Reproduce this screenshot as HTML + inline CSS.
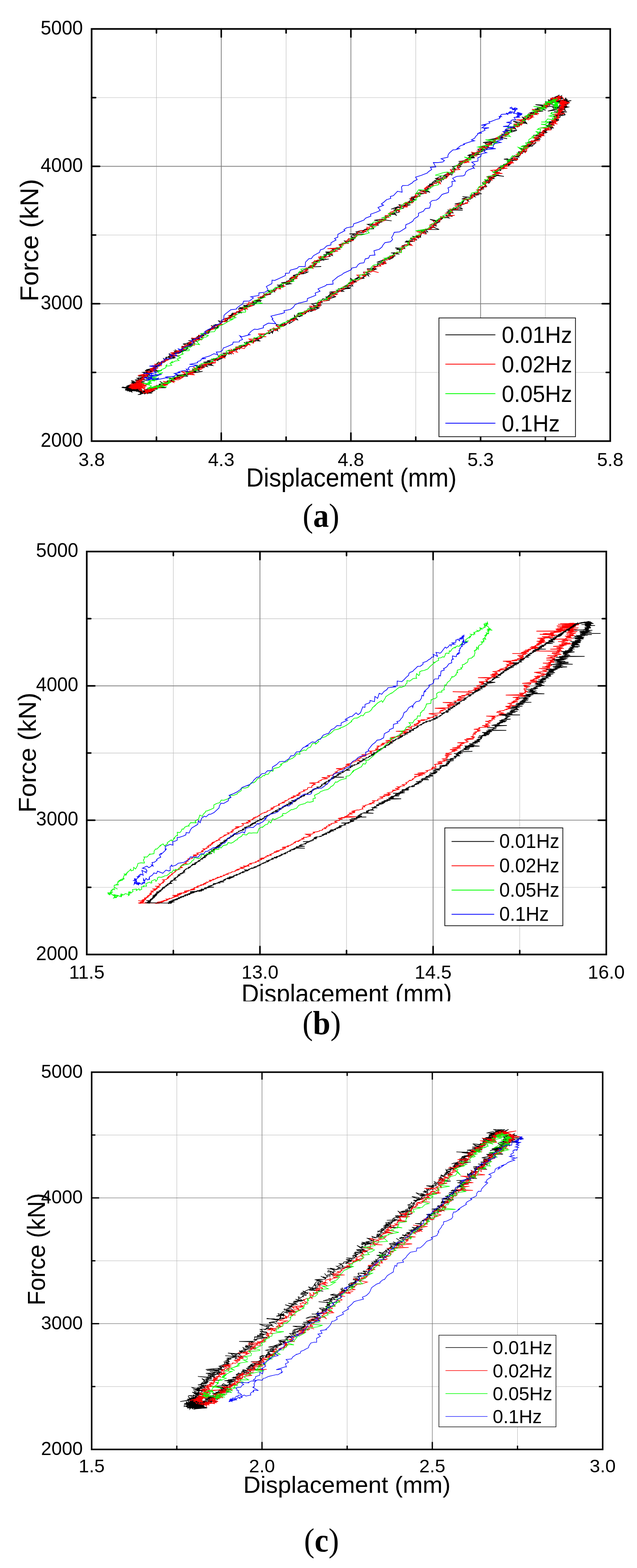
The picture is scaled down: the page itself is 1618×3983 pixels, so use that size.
<!DOCTYPE html>
<html lang="en"><head><meta charset="utf-8"><title>Force-displacement hysteresis loops</title>
<style>html,body{margin:0;padding:0;background:#fff}svg{display:block}text{font-family:'Liberation Sans', sans-serif;fill:#000}.s{font-family:'Liberation Serif', serif}.c{fill:none;stroke-linejoin:miter;stroke-miterlimit:5}</style></head><body>
<svg width="1618" height="3983" viewBox="0 0 1618 3983">
<rect width="1618" height="3983" fill="#fff"/>
<g id="chart-a">
<path stroke="#bcbcbc" stroke-width="1.15" d="M397.4 73.5V1120.5M726.7 73.5V1120.5M1056 73.5V1120.5M1385.3 73.5V1120.5M232.7 248H1550M232.7 597H1550M232.7 946H1550"/>
<path stroke="#7f7f7f" stroke-width="1.9" d="M562 73.5V1120.5M891.3 73.5V1120.5M1220.7 73.5V1120.5M232.7 422.5H1550M232.7 771.5H1550"/>
<path class="c" stroke="#000" stroke-width="1.7" d="M342.4 979l14.6 11.3-1.5-12.6-19.1 9.1 2.3 3.7-2.5-14.5 12.1 6.5-6.9-5 8.8 7.7-28.5 6.4 37.5 2.5-18.3-19 8.6 6-9 6.4-2.7 4.4 9.3-5.8 4-5.8-11.3 5.2 .5-1.6 9.2-.9-17.1-2.7-7.1 5.6 21-.4-11.7-2-13.7-.6 12.1-5.3 3.9 4-8 8.4-3.3-7 16.8-6.2 9.5 13.9-12.5-4-5.6 7.8 12.4-10.2 3.7-2.6-11.2-4.9 9.3 13.8 5.5 6.2-13.8-16.9-6.6 .9 12.7 6.2-1.1-7.2 9.4 2.8-26.2-.3 6.8 2.7-1.9 4.5-9.9-5.4 20.5 4.5 4.4-6.7-13.9 3.7 23.3-12.3-6.2 3.5-2.1 11.2-2.5-7 6.1 5.9-25.2-.2 21.5 3.9-.2-2.5-26 1 23.2-5.7-6.6-2.9 11.4-.2-13.4 1.3 4.6-3.2 4 2.9-13.4 2.2 16.2 1.8-7.8-3 6.6-7.9-11.1 9.2 17.6 1.5-5.2 4.3-8.7-2.5 9-6.1 6.9-.4 5.8 13.7-37-6.3 27 5.4-4.6 1.4-6.1-14.7-12.9 10.3 .4 .4 .6 5.2-.1-5.3-1.9 1.6-.1-3.4-9.2 2.2 7.4-1.7-3.2 .4 4.8-2-6.3 .2 9.1 3.2 6.5 .7-8.2-.7 .1-2.9-1.2 2.4-2.9-7.2 1.6 8.7-1.8-2.5 4.9 .7-2 2.2 3.2-4-10.5 3.4 12.3-3.6-9 2.4-4.6-2.4 6.5 1.7-.6 2.8 4.8-5.3-4.7 0-2.7 .6 1.3 1.5 12 6.1-6.9-8.5-14.3-3.7 14.3 3.4-18.8-2.5 28.8 2.5-18.1 1.4 14.3-2.6 .8 .6-24-3.1 19.3 5 4-2.4-2.8 4.5-1-.2 3.9-5-4.2 1.2 1.1 .9-2.5 1.6 4.4-6.2-8.6 3.9 9.7 4.7-7-5-3.1 .6 8.2-.7 7.4-3.1-3.8 5.2-8-1.9 6.8-.4-6.1 1.3 1.9-.1 1.4-6.8-13.1 5.8 14-2.9-6.6 1.7 2-2.4-4-.5-.1 4.4 3.3-2.6 10-.9 4.8-.2-9.1 .7 13.5-.4-14.5-6.1-8.8 3.6 11.5 1.3 1.9 2.3-4.6 1.3 4.2-5.9 1.7 7-7.7-4.9-3.2 .8 7.2-2.8 .3-.4-2.9 4.9 9.9-4.3 4.3 0-11.5 3 6.4 1.1 1.6-8.3-.9 3.1 2.1 .2-7.6 4.3 6.5 1.4 7.3-6.5-6.4 .8-7.5 1 7.1 .4 3.9-3.9-4.6 2.7-4.9-4.2 11.9-5.2-15 3 10 3.7-2.7 1.2-6-7.9 13.6 .9-4.5 4.1-8-8.6 10.1 9.6-5.3 .9-7.8-10.4 7 9.1 5.6-2.7 2.4 3.8-1.1-3.2-1.1-1.6 2.4 .6-3.4 1.8 8-2.2-5.3-.7 1.2-4 1.8 4.5-8.4-1.5 2.3 4.2 22.7-4.9-16.2-.5-3-1.7 3.8 3-4.1-2.6 4.6-1.6-4.8 5.4 5.6 .1-9.8-5.9 16.4-1.8-9.7 5.1-5.5-5.3 7.9 8.8-.4-7.8 3.3 2.4-6.7-6 8.9 2.8 18.2 2.5-26.5-2 9.3-2.9-5.1 7.2 5.2-4.7-10.5-2.8 4.1-1.3 9.3 .4-2.3 3.7 9.7-5.7-12.4 1.6 5.3-2.5 15.5 4.8-19.8-4-.2 2.2 5-1.1 .7-3.3 5.3 2.8-3.4 .2-4.4-5.7 5.8 4.2 13.9 6.8-7-10.1-21.8 1.9 15-5.4-3.5 4.1 8.7-3-3.8 2.9 12.1-2.5-5-3.2 .3 5.3-3.4-3.8-.7-2.5 2.7 2.3 5.7-3-3.6 2.9-4.3-1.6 9.5-1.2-5.4 2.2-1-5.4-3.4 5.2 1.8-8 .2 8.7-11.3-4.1 21.5-1.6-1.9-1.7-3.7 2.8 7.5-2.3-2.8-.5 .2 2.6-15-4.2 12.9 0 4.8 1.2 17.1 1.1-8.7-3.6-1.7 .3-13.7-.8-5.1 1.3 15.9 1.4-2.4-6.7 5.7 1.6-5.3-.3 2.5 1.1-18.8 1.7 21.3-4.3-4.3 0 5 1.8 4.2-6.5-5.5 .7 5.1 .3-3.3 .5 4.9 .1 2.5-2.4-8.4 5.2 .4-6.8 13.5 .8-9.5 2.7 6.8-1.4-2.4-2.5-4.4 .5-.2 .6 5.6-2.6 1.7 1.1 2.8-4.5-9.5 2 4.6-4.9 3.6 1.4 10.3-1.2-20.9 5.5 19.1-4.9-7.3 1.4 6.2-3.7-4.2 1.3 5.6-.7 7.6-2.1-5.8 3.8 1.4-6.9 .6 5.2-10.3 4.6 13-9.4-3.2 1.6-2.4-4.6 5.2 3.3-.1-4.9 6.4 5.4-3.5-3.4-1.7-4 11.9 .8-1.6-1.4 10.9 2.8-11.1 2.3-3.7-3.8 0-2.6 1.7 .3 14 1.8-9.9-7.1-7.8 7.1 9-1.1-6.6-7.9 9.7 8.7-6.6-7.8 .7 3 8.6 2.9-.1-7.8-7.7-1.1 14.3 1.2 8.7-.5-19.1 1.7 19-1.6-12.8-.6 1.9-.6 2.7 .1-6.1-2.3 16 2.3-.2-1.5-14.2-3.2 8.5 6.6-5.9-8.6 7.4 4.5 8-4.4-13.7 2.1 8-.2 4.2 .2 5.9 .8 11.5-6.5-17.9 8.8-.6-6.9 7.5-3.8-3.6-2.1-.8 8.8 10.7-2.5 4.3-4.9-6.8 1.3-1.6 .8 5.2-3.8-12.6-2 11.3 .3-4.8 1.5 20-2.8-8.2-3.9-1.3 4.4-3.1-7-10.4 1.8 18.7 4.3 6-3.2-11.9-.7 8.7-1.1 1.3 1.7-11.5-3.5 14.7-5.6 3.3 4.9-5.2-9.2-.6 1.9 5.7 8.6-11.8-2.1 10.6-4.6 5.7 .3-19.8-.3 21.6 1.6-6.8-5.3-8.1-1 11.9-.1-3.7 1.2 8.2-.4-7.2-2.4 13.3 2.2-8.8-5.3 7.1 1.7-4.2-2.4 2.5-1.5 9.4 4.9-4.3-4.7-4.9-2.5-.9 2 14.4-3.5-1.3 3.4-4.6-.1 5.8-.3-7.4-6.1 1.2 1.6 2.2 4.3 7.6-6 .8 3-4.5-.1 14.2-8.2-3.5 5.9-1.1-2 4.8-.4-6.1 1.3 2.1-3.9 4.4-1.8-1.6 .6 5.7-3.2-10.1 1.4 16-7.2-11 8.8 4.6-6.6-5.5 2 12.1-1.4 4.9-1.3 7.1-.8-7.2-.9-11.9-5.1 5.4 2 3 3.6-1.4-6.4 12.5-.9-2.7 7.3-1.2-3.1 4.1 .1-6.7-4.9 1.4 0-4.4 .4 14.6-1.3 .3-2.5 2.6-4.3 4 1.1-12.2-2.8 5.7 7 5.2-5.8-7-.3 5.8 .4 9.8-1.5 1.8 .5 1.2-3.8-4.4-3.1-.1 7.6 8.4-7.2-6.7-.2 5.2-1.6 6.8-.2-8 .6 0 1 4.6-5.4 4.6 2.6 .7-3.3-.4 4 3.5-7-10.5 2.5 5.4 .7 6.9-6.1-4.6 2.9-1-.7 2.1-3.3 2.9 .7 5.4 2.2-3.3-2.7 8.3-2.6 9.4-.3-8.8 .8 9.2 1.3-2.2-2.1-8.2-1 6.1 1.3-2.7-8.7 11-.6-9.2-3 15 7-2.7-8.7-12.9 4.8 16.8 1.1 5.6-6.3-11.5 1 11.1 .2-13.9 1.6 12.7-6.5-9.2 3.8 16.4 0-14.3-2.2-3.2-.8 18 1.8 11.8-3.4-14.4-1.5 9.2-1.7-2.5 1.6-1-3.2 10.6 1.5 3-2.3-14.4 1.7 11.3-5.7 2.5 1.3-10.6-.2 18.1-.7 3.3 1-14.6-2.8 16.2 .4-7.8 1.8 .2-3.7 10.6-5.7-5.6-1.8 2 4.4 8-3.5 .1 .8-.7-2.1-11.2 2.8 .5-1.1 16.3-6.8-9.9 2.7 7.4-2.4-5.3-3.4 6.4 4-4.5-2.8 17.6 .6-19.7 4.2 13.3-3.8 1.2-1.4 9.3-4.7-12.8-2.8 9.2 5.2 .6-4.8 5.7 0 4.4-1.9-6.6 .3 5.4 4.9-4.2-7.7 8.7-.8-1.5 .3-1.4-.7 5-4.6 3.8-2.3 12.1 2.1-13.5 0 6-2.3 8-1.5-17.9-.7 3.5 .5 4.7-.3 7.5-4.6 15.7 1.8-9.7 1.3 14.1-2.1-14.2-4-10.9 1.6 2.2-.1 19.6 1-3.3-6.9-6.8 4.8 14.6-3.8-13.3 .7 16.1 .3 3-4.9-10.8-.8-.6 .8 12.1 1.2-9.4-4.2 17.8-3.1-15.7 .8 12.4 1.8-2.6 .9-1.6-5.1-1.2-.5 7.6-.6-10.4-.8 10.2-3 .7 .3 7.2 .7-9.3-1.3 17.7-1.1-9.8-3.6-3.2 .2 24.4-1.4-6.3 3.5-8.9 0-2.5-3.7 6.4 2.1-2.6-5.6 3.4-1 11.7-3.5-5.1 2.9 0-2.7 2.4 .4-.8 0 6.3-2.8 7.3-3.1-11.3 1.7 4-1.1 29.9-.7-25.5 .7-2-3.2 13.7-1.1-9.9 4-4.7-2.6 15.6-3.9-11.7-3 3.6 .2 6 1.1-1.1 .2-2.1 2.9-1.1-7.5 4.8 0 11.1-2.2-9 .1 2.3-2.1 29.2-2.7-26.3 4.2 12.6-3.2 .5 1.9-6.7-5.4-5.6 1 11.7 0 2.7-7.3 3 .4-3.5 4.2 15.6-2.6-5.5-5.7-12.1 1.7 15.1-1.7-5.5 .4-2.7 4 .7-6.2 15.6 5.5-3.5-6.6-13.8-2.2 11.7 4.7 .2-2.5 1.2 .1-.5 .5-13.4-3.2 23.8-.6-8.5-8.2 4.6 1.2 .2 2.2 .9-1.5 14.6 .3-5.3-3.9-4.2 3 .1 1.3 1.1-4.5 12.6-.3-2.2-1.8 1.3 .1-1.4-2.7 1.9-2.7 4.2 .8-9.7-1.2 20.6-5-11.6 3.4 2.8-1.4 12.1-.5-4.6-2.9 .6 1.6-1.8-.6-3.8-4.2 11.2 1.6 7.2 .2-10-1.1 14.1-5-12.1-1.2-1.2 1.6 13.2-3.6-1.2 7.8 5.3-9.2-6.3-.9-.1 2.6-3.1-3.7 5.2-5.6 2.3 4.4-.4-3 11.1 .2-3.9-3.7-18.8 .8 39.2 .8-22.2-.7 4.7-3.5 15.3 0 1.1-1.3-18.8 1.5-2.4-1.7 13.9-3.7 13.2 3.7-8.4-4.2-4.5 1.7 11.2-4.2 8.3 2-12.7-2 7-.5-4 .2 21.1-1.1-.4-1.7-3.2-.9-4.5-4.5 5.9 2-13.7-6.2 14.6-1.1-7.4 3.8 1.6-.7 .2 3.3 8.1-3 10.4 .1-1.6-4.4-1 .9-5.1 .8 10.4-2.5-2.9-1.4 8.6-1.6-10-3.4-8.7-.9 14-2.3 30.2 3.6-22-2.6-2.2-2 7.4 1.6-.6-3.2 1.3 3-3.9 1.2 4.7-4.5 2.2-3.8-3.2-2.9-1.1 7.7 8.3-4.8 6.1-5-.3 4.7 .6-7.8 1.5 2.1 12.9-.4-11.3-1.3 5.8-2.8 6.5 7.8-9-7.9 2.6 1 12.6-1.8-2-5-6.3 1.6 1.6 1-.1 .8-5.8-4.1 14.1 .8-6.2-2.7-6.7 1.3 10-8.5-18.8 6.7 16.7-4 7-.9-3.8-6.5 19.4 3.4-19.8 3.2 10.9 3.3 2.9-8.4 16-.9-11.3 1.9-2.5-1.4 .5-3.1 .6 .1 7.9-1.5-8.6 1.5 7.8-.5-2 1.5 3.1-3-1.4-1.6 14.5-2.2-14.1 1 6.4-5.7 1.4 6.9 3.1-5.6 .5 1.8 1.2-6.4 4.3 3.6-12.3-2.5 9.6-2.4-5.5-2.1 9.3-1.5-14.2 5.8 10.3-2.4 6.3-3.7 9.3-.7-3.2-3.2-.2-3.7 7.4-.8-11.7 2-5 .2 10.5-3.4 2.1 3.9 9.7-1.6 6.2-1.8-17.7-5.7 22.2 3-3.7-.5-2.7-4-1.3-3.2 12.6 9.3-11.6-4.1-1.8-3.5 4.7 4.1-7-2.1 11.4-2.6-1.9-1.5 3.7 .5 1.4 .8-6.5-4.4 14.4-1.6-11.6 1.1 11.8-9.4-12.4 6.4 12.1-2.2-5.3 .1 6-1.3-2.5 .4-7.2-1.5 7.2-1 7.7-1.4 4.4 .6-10.3-3.3-2.3 2.9 8.1-7.6 4.9 3.8-5.1-.2 4.3-5.2 10.4 1.2 1.9 3.5 0-4.5-14.1-2.8 12.9-6.1-.2 7.4-14.9-1.5 23.3 .4-3.1 2.8-1.9-6 11.7-.6-2.4-2.9 1.7 .7 3.1-.8-1.4 1.1-9.7-1.4 6-4.2 8.8-.1-8.5 3.8 5.6-6.8 5.9 3.4 4.2 1.4 .4-3.3-1.1-1.9-4.7 1.9 7.2-3.3-1-1.8-2.6-1.4 9.5 2.6-3.5-2-5.7 1.2 12.2-5.5-8.8-.8 7.5-1.2-10.5 1 9.4-3.3-3.9 3.2 1-2.3-4-4.2 23.4-5.8-12.4 2.1 4.2 7.3 6-4.6-5.6-.3 4.6-2.3-9.2 1.2 9.7-6.6-2.2-1 6.2 .1-.7 3.4-7.4 .7-1.5-1.4 5.7-2.3 10.8-3.7-.6 4.4 1-3.5-12.2-.2-2.6-.9 12.5-1.9 2.7-1.4-.4-.5 6.4-2.5-1.8 3-4.4-1.9 2.7 2.2 6.8-7.9 .7 6.7 .3-3.9 13.9-1.1-12.8-2.4 3.2-.8-5-2.5 4.5 5.2 6-3.6 1.3 1.6-2.9-.5 4.1-4.1-.8-.2-9.6-1-6.6 2.6 31.8-3-7-.7-3.9 .6-8.1-2.8 3.6 4.6 15.5-8.2-21.7 4.6 14.6-.4 7.6-7.1-3 4.3 9.4-2.3-8.8 .8 15-6-17.8 2.9-.7-3.8 10.2 .8 7.4 3.7-7-4.6 7.2-6.1-7.6 1.4-2.4-.1 15.3 4.7 2.1-5 .9-2.9-9.7 6-10.5-2.9 .9-.5 14.1-3.6 5.5 4.8 .7-4.6-9.6-5.3 10.1 1.4 .1 0 1.5 1 .4 1.6 .1-4.5 5.5-.3-1.5 6.3 1.6-6-3.9-2.3 7 .7-1.8-3.9-23.8 3.8 29.3 .4-3-4.6 7.6 3.3-5-3.9 .8 .7 3.4-3.3-.2-.8-1.3-2.4-18.2 3.6 32.8-1.9-17.7-.6 7.8-2.9 6.5-.8-.5 .7 2.1 2.1 2.1-1.1 3.8-3.1-4.3 1.7 15.3 3-20.5-4.8 7.8 4.2-2.2-4.7-3.6 1.6 9.1-5.3 7.5 3.6-10.9-6.5 .9 2.9 8.9-2.1 0-4.8 8.7 .9-4.3 5.6-3.5-2.2-2.2 1.3 3.9-3.4-1.3-8.4-5.7 7.3 8.4-2.7-.1-.5-1-.5 1.3-1.4 23.7-1.2-15.8 4.9 2.2-2.6-7.7-3.4-8.2 0 11.7 2.8 3.7-2.1-2.4-1.1 1.7-4.1 7.2 1.3-2.8-2.4-6.3-2.5 3.9 6.4-.5-3.7 5.5-.8-6.6-2 6.2 3.7 5.6 2.8-2.8-4.4-4.4 .3 2.4-6.1 4.9 3 2.8-.5 2.7 2.6-4.6-4.3-5.7-3 15.9 1.6-5.4-1.5 4 4.2-2.4-2.6-6.7-1.4 4.8-.9 3.9 1.1 5-4-4.6-1.6-16.7-3 16.6 7.1 4-2.2 14.5-.2-11-2.1 10.5 3.5-5.1-7.2 .3 5-1.5-5.7-12.1 .4 13-2.4-.6 2.7-5.5-1.5 6.8 1.3-.2-3.1-4.1-2.6 2.6 4.4-.1 1.3 3.4-1.9-2.9-2.5 6.1 .6-12.9-5.8 7.8 2.9-5.1 3.2 7.3-2.2 6.2-3.8-2.1 3.7 0-2.9 1.6 1.6 8.9-5.8-14 1.7 11.6 1.6-12.5-.5 6.5 .1 4.2-1.9-4.8-.9 6.5 1.2 3.6 .5-9.8-6.4 6.8 2.5-.9-.2-7.9 .5 9.1 1.6-1.4-6.3 12.4 4.2-11.4-6.1 14.8 2-11.6 .1 14.3 .2-7-1.3 .2-.2 2.6 0 1.2-.2 3.4-4.4 13.9 .7-22.2 1.9-4.3 2-7.1 .8 13.2 4.2 6.9-7.3 1.1-2.6-3.3 1.9-1.9 .9-1-1.8 .7-3.4 6.2 2-11.2-.3 14.3-3.8-11.4 .1 7.8 5.6-2-8.9 2 5.6-3.1-1.5 0 3.7 5.7-2.3-4.1-4 20 4.9-15.2-5-.7 6 1.1-1.2-2.3-4.7-7 1.8 12.6-1.9 3.7-3-9.4 4.5 8.8-2-6.1 .7 7 .2 2.7 .5 1.3-1.3 .2-3.1-5.7 .1 9.2 .5-6.7-1.7 4.9-.6 2.4 4.8-5-3.7-13.4 3.2 19.5-7-9 1.5 1.7-1.3-.7-.2 11.3-.1-5.1 .1-25.8-1.1 31.8 5.3 21.4-3.1-14.6-3.9-12.5 .2 4 2.9 2.9-.8 2.6-3.1-4.3 3.5-5.7-6.1 10.6 2-.3 5.2-10.2-11 3.3 5.6 6.4 2.7-1-3.1 3.3-1.8 1.9-.6 2.6-3.2-6.7 1.6-6.4 3.2 11.3-1.8 13.9 1.1-5.6-.6-10.9 .8 .7-5.1 18 3.1-9.1-.3-5.7-.2 2.5-1.6-12.8-3.5 12.8 6.7-7.3 .3 4.1 3.6 .5-4.3-1.5 2-8.7-2.8 1.9-2.6 12.3 1.9-1.8-4.3-4.2 3.2 7.5-1 1.8-2.6 6.7 5.4-19.7-.4 10.3-1.9-1.6 .7-2.7 1.9-3-4.6 8-3.3-9.8 .8 22.8 3.9-12.1-1.3-.4-4.4-.7 6.7 25.1-2.9-27.5 3.3 4.6-1.4-3.1-4 3.9 1.1 .7-2.2 6.5-.4-13.5 1.2 7.9 1.8 9.3 2-11.5-5.8 2.1 3.8-9.6-1.8-3.3-.8 14 3.2 7.3-3.8-8.8 4.2-7.4-4.4 11.9-1.6-.8 4.1 5.2-5.7-.3 .6-6.2 2.3 3.8 .4-11.9-.8 16.3-4.4-5 1.5 5.2 4.5 6.9-.1-16.1-3.9 2.9 3-3.8-.2-6.4 1.9 10.8-4.4 1.7 5.3-6.6-4.5 10 4.3-3.2-1.4 2.1-4.9-6.6 1.7-5.4 1.4 14.1 1.7-.8-6-3.8 2.1-4.5 2.7 3.8-.4 .9-3.9-2 .3-8.1 3.3 15.4-3.7-12.4 3.1 6.5 1.6 .2-2.3 3.2-6.7-10.2 9.5 15.6-.1-3 .6 .7-1.4 2.8-6.4-11.3 7.7-12.8-2.7 19.1 1.5 5.5-2.8-.8-.2-12.9 0 6 4.5 2.2-3.3-11.5-1.2 6.3-2.7 .1 4.4 12.3-1.2-12.3 .4 12.2 2 11.6 7.1-4-5.3 1.2 .5-.7-3.8 3.4 8.7-.1-.1-3.1-2-5.4 .1 9.3 .5 .3-.8-10.8 1.6 7.9 0-4.2-2.1-24.1 5.8 25.9-1 5.4-3.5-9.2 6.5 .1 .7 9.4-2.9-11.6-.1 .8-4.4 3.4 .8 5.1-3.1 0 2.9-6.3 3.6 1.1-3.4 2.2-3.1-2.7 8.3-2.6 1-8.4-1.1 16.9-7.5-5.1 6 16.8-4.1-12.3 1.9-7.6 2.2 4.1 2.1 1.8-5.3 .3 .8 .2-2.1 0 3.3-3.3-2.4 4.3 1.3 8.3 3.3-14.4-1.8 .2 .4 10.8 .6-2 1.4-2.4 1.6 2.1-6.2-7-1-2.4 5.4 10.6 .6-4.4 1.9 5.4-1.3-.7 2.5-18.6-2.9 14.2-2.7-8 4.3-8-4.6 13.6 .6-3.1 3-1.1-1.5-5.2 3.1 1.4-3.1 4.3 5.7-7.2-6.9 7.6 4.5 1.1-2.7-1.6 4.9 2.4-4.8-2.1 3.5-6.1-9.6-6.1 6.3 13 6.2 4.5-3.5-3.6 0-4.7 2.2 3.6 4.1-11-8.6 4.4 2.8 3.3-.8 1.6 3.2-1.6-3.3 .2-1.9-5.1 .3 3.2 5.8 4.4-.9-11.6 1.8 3.4-5.9 4.6 2 9.9 1.2-4.6 3.7 4.8-.7-1.4-1.3-9.9-1.8 1.5 3.3-5.7-1.4 20.5 3.7-10.4 2.4-.8-3.8 .2-2.8 1.8 9.1-4.5-4.1 .2 0 12.9-.8-19.1 .5-1.5 .1 5.5 .7 6.2-4.1-5.2 2.3-2.6 1.8 5.5 1-4.1 .4-23.7 .9 17.2-5.3-19.8 2.4 23.8 1.1-1.5 2.3 4.7-.4 9 5.8-15-5.6 3.1 .6-2.3-2.9-32 8.8 29.5-4 .1-.2 5.2-.9-6.3 2.2-2.6-.8 10.1 4.3-3.8-4.7-10.6 1.3 6.4 .1 2.3 3.2 5.9-.3 12.5 2.1-33.1-.8 21.9 .5-6.3-.9 1.5 2.5 3.1-.7-10.8 0 9.7-4.4-12 3.2 1.3-.1 .7-2.5 13.7 8.3-.5 .8-5-.5-1.6-.9-9.4 2.7 15.7-7.5 7.1 7.8-12.2-7.9-5.8 5.9-3.7 .4 3.4 1.4 16.4 .8-21.6 .6 5.6-3.1 8.1 .5-4.4 0 4.5 2.9-7.5-.8-.2-2.6 5 6.8-4.2-4.8-2 2.1-4.9-.2-5.5 .5 16 3.8-10.7-2.8-2.1-1.3 8.6 2.4-9.8-.5-2.8-.8 4 6.7 2.5 1.1 1.5-6.1 4.7 8.1-1.4 1.1-6.7-7.5 2.7 5-3-1.3-3.3 3.3 5.3-9-.7 9.4 7.7-2-7.2 2.6-7.5 1.5 6.6-7.6-6.4 6.3 10.9 .6-18.4 2 5.3 1.9-4.4-.5 7.8-3.3-1.8 4.3-8.4-3.2-2 4.3 10.7-1.8 6.5 .5-.5 1.3-12.8-3.8 6.5 3.8-7.7-1.7-3.6 5.8 14.1 1.4-3.5-6.2-6-1.5-.6 6.8 6.5-1.5-3.7-.3-4.1 8.6 2.9-6.2-2.1-1-2.6 2.4-2.2 2 14.9 3.8-14.5-2.6-4.3-3.4 15.7 2.5-3.6 6.4-4.4-8.4-3.7 4.8 .9 3.7-9.4-1.7 7.3-.6 1-1.1-3.1 3.2 3 1.5-7.1-.2 4.7 2.7-10-1.5 7.8 3.3-3.7-2.3-4.4 2.6 4.3-2.5 1.6 5.7-4-.6 7.5-.8-9.5-3.6 8.2 3.5-1.8-7.2-7.9 7 10.3 2-15.8-2 9.5 3.2-3.2 1.8 3 3.5-13.3-3.9 1.3-3.3 1.2-1.4 3.9 6.1 .3 3.3-1.8 1.2-2.2-1.9-3.2-1.3-13 .5 13.1 2.1 4.4 1.2 1.9 1.9-9-.6 7.8 5.4-13.8-4 10.7 1.5-10.8 2 6.4 .4-7.2-3.3-.8-1.8 1.5 1.4 9.8 4.9-12 1.2 6.2 0-3.3 1.8 0 1.9-.7-4.5 .9 9-10.6 1 5.9-4.1 .9-1.7-5.8 1.8 4.3-3.5-14.7 4.2 15.1-1.4-8.5 2.5 1.5 .1 5 6.7 7.9-6.6-16.7 3.6-5.2-1.1 12.1 5.7-21.6-.6 21.9-5.8-1 2.1-13.5 3.8 11.4-1.5-2.8 3.4-2.7-.2-15.7-2.2 9 2.7 .9 2.6-2-.6-.7 1.2-2 1.3-12.9-.5 13.6 4.4-3.5-5.8 2.5 5.1-3-1.7 1.8 3 .8 1.9 7.2 .2-14.8 .8 12.7 1-12.7 .1-2.8-1.1-3.8 3.2 11.6 1.3-13.6 .5 12.2-.7-3.9 .7-5.7-4.9-1.4 3.7 5.4 2.3-2.6 3.8 2.3 1.2-4.8-1.9-3.6-2.4 4.8 4.8-10.2 2.1 10.2 .2-5.2-2.9-7.3-.2-.4 1.2 .6 .3-6.9 6 16.3-1-3.3 5.4-12.1-.5 4.3-.8 8.8-3.5-8 4.1-8.7 .3-7.1-3.9-8.9 1.1 24.9 2.1-5.7 5.8-9.8-3.4 9.9-1.7-6.8 4.5-2.7 2.1-.2-3.8-.7 8.6 10.5-5.8-21.3 5.3 5.4-.2 11-2.7-.1 2.3-14.5 1.2 15.5-.2-6.2 3.6-15.1-.9 16.9-3.7-18.9 5.4 10.8-2.3-10.9 3.1-4.5 2 13.4-.1-3.3 3.7-3.8-1.9 .5-.3-2.6 6.3-3.5-1.5-3.7-1.4 8 1.2-4.1-.2-2.4 2.1-2.8-1.8 .6 7.7-7.8-.5 5.6-7.9-4.7 4 11.3 3.2-13.2-.7 1.8-2.9 1.5 8 3.2-3.9-2.8 5.6-3.5 .2 24.8 3.6-27-5.2 .8 7.6 12.4-6.7-20.6 7.7 9.3-.2-3.7-.7-10.4-2.9 3 7.7 7.1-1.1-13.3-5.4 4.9-1.4 12.6 5.8-13.4 .4 2 4.8-6-.5-.5 1.3-4.8-1.1 4.6 4.6 4.5-3-3.9-1.4 9.5-1.4-4.9 8.3-6-1.9 9.9-1.9-14.4 3.1-3.9 2.1 4.4 3.7-7.6-6.2 7.9 5.2 3.8 3.9-4.9 .2-6.5 1.8 .6 3.9 5.7-6.2-.2 1.6-9.5 5.1-.9 2.3 7.3-2.2-4.1-.8-1.6-1.1-.4 5.4-8 .2 2.3-2.7 5.4 2.3-7.8-.3-1.4 4.9 1.5-1-.6 4.4 10.5 1.2-19.4-1.7 4 3.1 9.1 .6-12 2 .7-4-11.2 3.7 12.1 4-1.8-2.1-1.4-1.8-6.7 2.6 1.8 6.1-3.6-5.9 3.9 .3-5.9 4.8 8.3-2.3-26.7-2.1 13.1 .9-15 5 13.6-.7 3.8 6.2-6.8-4.3 13-1.1-19.5 2.5 2.4-.3-4.4 7.1 1.1-4.1-1 6.8-6.7-1.5 1.5 4.7 15.2-4.5-13.7 3.3 5.2-6.5-21.5 5.1 13.4 .2 2.4 5.7-5.1-2.3-3.1 3 .5-2.6-.1-.5 3.2 4 8.7 4.5-23-2.5-5.3 5 9-3.9-.2 .9 2.7 .9 .6 1.2-10.7-.1 27.2 2.1-24.7-.5-12.3 .3 13.7 7.5-5-.7-1.2-2.1-11.5 .2 5.7-1.5 2.4 6.4-4.1-2.2 3.4 7.5 1.8-8.3 .2 6.2 5.5 3.2-17.2-3.5 9 7.5-9.2-1.7 1.9 .9-7.2-3.7-7.6 5.8-6 .9 12.1-1.3-10.4 5.2 6.8-2.7 3.6-5.7-14.5 7.6-2.5 4.5 9.8-5-.7 4.4-4.8-2.6-2.7 2.6-17.5-5.9 16.8 3.3-4.3 4.7 5.1 .3 7.8-2.3-15.7 7.5 4 0-2.5-2.1 1.5-2.1 3.3 7.7-6.1-1.8-1 4.1-.8 2-8-2.8 1 1.3 .7 3.4 3.5-1.6-1-3.4 18.9 7.5-34.6 .2 4.4-1.3-10.6 3.7 5.2-1.3-18.1 .9 24.8 4-3.6-4.6-18.4 .4 13.4 4.7 .9-2 4.1 6.5-.9-3.1-10.6-1.6-2.6 4.4 2.6-3.7-3.1 10.1-5.6-2.6-5.4 2.8 11.1 .6-11.1 .1 1.2-2.2 4.5 5.7-6.1-1.9 12.7-.1-21.2-2.3 9 9.4-12.8-2.9-2.3 .5 1.2-2.8 5 8.2-5.7-1.7-14.3 3.9 21.8-1.7-19.4-1.1 9.6 4.6 .6-4.5-5.3 1 5.6 4.8-2.3 3-5.3 1.9 11.7-2.1-17.1 1-3.9 1.8 5.5-.1-7.7 .2 6 3.5-3.8-1.5-3.2 1.7 8.3 4.6-5.2-1.5-20.3-.8 13.2 4 1.4-1.1 .7 3.1-10.4-2.9-.9 1.2 5.7-.6 1.9 7.4-16.2 1.8 1.9 .4 3.8-1.1-12.2 .6 9.8-.1 12 3.1-17-1 5.4-1-6.8 6 6 .8-.1 0 2.2-.5-7.7 .2 3.5 2.1-5 1.3-6.2-2.5 9.3 2.8-12.7-.6 2.8 6.5 11.1-5.3-10.1 1.4-10.7 1.7 4.8 3.6-6.1-1.7 .9 7.7-18.8-1.6 18-6.9-11.1 7.5 9.1 1.3-1.3-3.1 1.2 3.9 6.1 1.5-22.7-.9 1.2 2.3-.3 2.1 .9-1.2 6.6 2.1-8.1-1.9-2.7 5.6-4.4-2.2-2.8 5.6 .9 3.1 3.3 0-8.6-4.4 6 3.2 2.2-.8-2.6 2.8-18.4-2.3 23.6 .5-6.9 3.4-4.2-.9-9.9 6-12.6-.3 16.5 0-7.4-.3-3.2 .9 10.7 3.8-1.4-1.3-3 .8 2.2 5.6-3.8-3.4-12.8-.1 11.1 1-7.1 4.8 .3-3.6 4.6 1-7.7 4.9 4.7 1.1-9.8 1.6-6.4-4.8-.8 4.2 1.6-1.6-10 3.5 7.4-4.1-2.6 4.4-3 4.1-10.8-1.2-1-5.7 14.1 9.5-10.6-.6 11.3-.7-13 1.6 6.8 .2-13.8 4.6 3-2.1 .8-3 2.9 2.9 4.6 7.1-5.5-.3-14.7 .1 6.5-3.1-2.4 4.3-8.3 2.2 9.5-1.4 4 2.5-12.7 1.9 7.2 .7 9.3-.5-31.2 .9 32.8-3.3-13.6 3.3-9.2 3.7 6.4 3.2-9.5-2.9 3.5 3.1 0-1.7-14-1.6 4.7 4.5-3.8 1-3.3-2.5-12.7 1 8.2 3.2-3.9-.5 11.6 3.5-18.5-3.8 10.2 6.4-9.8-2.7-.9 3.3 9.4-3.9-15.1 7.2 22.9-.9-17.1 5.7 1.5-8.6-4 .5 3 7.4 .2 1.3-9-5.8 1.1 6.7 8.3 2-14.2 2.1 11.8-2.3-13.5-3.3-2.2-.1-7.6 11.1 3.3-3.4-6.3 2.4 5.1-2.4 5.6 1.1-5.5 1-4.3-.9-3.7 2.5 .5-1.1-15.2 2.6 9.3 4.8 16.4-1.9-10.7-.8-7.7 6.9 7.4-.2 3.2-2.2-13.1-3.6 1.6 8.5-7.7 .9-3.2-3.8 15.1 5.9 9.9-4.8-24.2 2.4-6.3 .3 15.2 2.5 3.5 .1-11.7 4.8 3.9-3.6-11.5 2.8 1.9-.1 1.3 1.3-7.6-1.8 2.9 2.8-5.5 4.4 2.3-.5-2.1-4.2-14.3 2.8 9.9-.7-9.9 1.6 1.7 1-6-.6 12.2 5.1-7.8 1.9-1.8-1 7.5-.8-4.5 2.5-6.6-1.5-11.7 5.4 13.6 4.1-8.4-11.8-.2 8.5 4.6 0-13.2 1.2 5.7-.4 3.9-2.2-3.2 4.4-8 0 9.9 1.5-3.1 1 2.6-.3-12.2 7.8 0-8 3.2 2.9-4.8-1.4-3.1 3.7-2.8 5.1-2.6-3.2-3.4-1.2-1.5-.5 7 5.5-8.1-2.3-7.6 4.2 6.6-2.6 7.3 1.2-3.1 2-20-3.2 4.9 8 7.4-5.1-5.3 4-1.5 1.5-2.6 5.6-.5-3.9-7.4 1.7 10.7-2.6-13.7 1.7 3.4 1.1 7.8 3.5-3.9-4.4-7.5 4.3-1.4 6.9-4.7-8.8-1-1.5-1.5 4.1 8.7 1.8-13.9 5.3 6.8-2.2-2.2 2.4-1.5-3.9-5.2 2.5 4.1 1.5-4.6-2.1-1.8 3.6-4.6-.6-10.6 2 14.3-3.3 3.8-.9-13.4 9.3-.7-2.6 2.1 .5-8.3 7.4 7.8-3.2-1.4-.6-.7-2.1-1 3.4-16.9 .4 11.8-.5-6.6 4.9 7-.9-1.7 .3-2.7-2.8-6.3 1.1 14.3 5.2-17-1.5-6.8-1.2 9.7 2.9-14.6 0 17-.4-6.3 1.3 .3 3.1-2.9-.4-2-2.2-13.7 1 2.6 3.3 5-2.7-6.6 3.7 2.8 0-7.1-2.2-1.9-2 6.8 4.5-1.2 2.8-5.4 .7-6.7 3.9-5.1-2.5 18.8 .5-18.6 1.8 .1-1.3-.5 6.1 7.5-5.1-10.4 0 5.8 1.5-2.7 5-9.1-3.8 7 .2-10.1 4.1 4.4 2.1 3.7-3.3-6.7 3.5-5-2.8-1.2 5.8 2.6-5.5 1.5 2.7-15.6 .3 1.2-.6 11.4 2.7-4.6 2.6-.6-3.1-.2 7.5-3.3-3.5-2.9 .8 1.8-2.1 1.8 2.4-3 3.1-3-4.1-13.9 1.4 12.5 .3-8.8-.6 1.4 5.5 3.3-2.9-1.4 6.7 4-6.6-2.3 2.9-3.4 1.6-5.6-2 .4-2.2-2.4 4.3 9.5 2.2-8.1-1.7-7.3 3.7-2.2-4.7 10.1 6-12.7 5.1 5.6-2.2-2.2 .7 3.6-2.8-17.5 .4 11.8 4.5-2.6-3 2.1 3 1.9-3.4-8 4-2.9 0 10.5-5.4-28.5 5.9 16.7 2.3-7.5 .5-2.4 .2-3.1 2.8-12.3-2.8 23.1-1.1-.9 4.7-5.3 3.6 3.9-5.6-6.5 5.3-4-3.7-4.3-2.7 8.9 2-.8 .7 9.6 5.6-20.6-2.1 1.7-1.1-15.6 2.3 21.2 3.7-3.5-3.1-2.1-1.1-3.9 3.3-1.8-2.5-2.3 3.9 6.9 1.8-10.5-1.5 7.3-1-2.4 1.9-10-3.3-3.5 8 2.5 2.6 3-5.4-8-4.7 9.4 4 9.2-1.4-11.9-.6-13.2 4.9-4.7 .4 16.4-.6 2.3 4.8-11.3-2.2 3.9-2-5.4 4-3-3.7 7.8 2.7-9.5-.7 6.6 3.3 3.7-.9-11.1-.3 9.8 2.6-18.3 1 11.1-.1-6 2.7 29.8-4.9-31.6 4.1-5.6 3.6 12.2-3.7-18.3-5.1 9.8 8.5-7.6-2.5 10.8 2.6-9.1-.5 4.2 1.3-5.8 2-6.8-2.3-6.7 2.1 20.5-4.8-9.4 1.5-8.6 2.4 3.7 4.7 6.1-5.6-24.1 1.6 29.3 3-14.8-2.5-1.6-1.5 8.1-1.3-6.9 7.3-7.6-4.3 9.6 4.1-.5 .8-.3-3.4-12.2 4.1-2-6.1 8.6 5.5-6.7-1.9-10.4 3.5 7.7 .4 5.7 .3-13 1.5 14.7-2.7-10.6-1.7 1.3 .9-9.3 6 3.6-4.7 2.5 2.1 3.3 2.2-3-.9 3.9-1.7-18.6-2.5 11.2 8.1-1.8-3.5-5.8-2.2 4.7 2.8-4.7 2.1 8.4-4.7-7.9 5.7 3.8 0-8.6 1.5 11.2-.8-5.6-2.2 6.8-1.2-11.4 3.9-2.8-.4 2.7 5.5-4.1-4.2-3.9 2 5-.5-1.2-4.2-4 6.6 .7-2.7-4-2.1 5.4 4.9-8.9 2.4 15.9-3-9.9-.1 4.3-.6-12.5 .8 7.8 4.2-3.4-2.2 5.5 1.1-1.4 .7-14.5-8.5 14.7 8.1-15.3 1.3 14.9-.6-8.3-3.9-7 2 9.8 4-4.4-.4-6.3 .4 .7-3.7 6.1 3.8-10.9 3.2 2.2-3.2 14.3 3.5-15.1-.9 5.7 .2-.2-3.5 2.2 .3-1.1 .2-19.4 4.9 10.7 .5 8.5-5.5-11.5-.3 13.8 3.7-9.3 3.2-8.8-2.3 9.3 1.1 19.9-.1-28 .5 6.2-1.6-8.6 1.8 1.1 .8 3.3-1.8 1.6 4.7-1.4-6.6-1.4 1.9 11.6-.9-19.9 5-4.8 .2 12.8-4.3-2.6 2.2-9.5-1.1 16.9-2-13.9 1.6-4.4 3 9.6 .8 .7-3 9 2-22.1 2.2 1 1.6 5-2.4-1.4-2.7 1.6-1.7-4 4.3-5.2-.7 5.7-.5 6-.1 0 .5-8.5 1.9 6.2 1.5-1.1-3.5-5.5 6.8 .4-1 1.8-3.9 14.8 1.5-15 3.2-6.2-5.9 3.6 .9-2.5 .2 9-.9-18.7 4.5 5.5-2.2 10.4 .9 .2 .1-5.4-.5 3.5 4.3-11.7-4 11.5-1.6-11.1-1.1-1.2 1.8 9.6 2.3-7.5 .1 2.1 .4 5.2-1.6-9.6 2.2 8.9 .2 8.8-4-13.8 4.1 6.1 .1-1.3-1.6-11.6 3.5-9.8-2.4 16.4-2-12.1 4.3 11.8 2.2 1-7.2 .9 2.8-.3 2.5 4.7-.6-9.5 1.1 18.3 .8-13.9-7.6-.2 6.2-4-5.7 12.6 1.8-16.2-.3 13 4-3-5.3-10.1 4.5-1.7-4-4 8.8 8.8-6.2 2.1 1.3 2.7-2.8 18.4 1.5-14.5 4.7-7.6-2.6-3.8-3.4-4.7 1.7 11.2 .9-1.8 4.7-6.2-4.6 2.3 1.4 .2 1.6-13.8 3.3 14-4.3 2-4.2-2.5 .2-5.3 6.7 6.6-3.2 1.9-5.7 7.3 3.5-4.1 .1 1.5 .3-7.7 2.5-7.2 0 1.8 1.7-16.1-21.3"/>
<path class="c" stroke="#f00" stroke-width="1.7" d="M351.9 982.9l10.6-.9-3.1 3-.2-7.5 9-3.3-28.3 3.4 5.8 6.3-6.9 .5 12.1-10.1 11.1-1.7-10.2 7.8 5.2 .7-24.1 .7 20.6 3.6-10.6 2.7 26.9-4.9-8.9 1.9 .6-8.6-10.1-.4 6.7 7.1 .5 2.1-10 .3-1.6-.6 3.9 .9-5 .1 .2-12.8 3.1 5.1-4.5 6 15 .7-23.7-10.6 24.2 13.5-14.5-8.1 .8 1-8 2.6 12.1 2.3-1.1-10.9 4.4 12.1-7.2-4.5 6.2-4.3 17.3 2.5-14.1-9.5-9.8 7.7 15.2 4.1-10.8-4.4 7.2 1.9 .2 .9-10 .9-15.4 4.9 15.8-5.2 9-1.2-9.3 4 8.2 7.7 5.4-12.1-15.2 4.3 17.7-10.5 3.9 14.6-5.4-3.4 .9 3.4-.7-7 11.5-4.9-32.1 5.3-.6 5-8.1-7-3 1.4 9.6-1.4-3.1 3.9 14 .8-16.1 .3 .4-.6 2.2-4-7.8 6.1 4-3 12.7-.9-8.8 5-2.3-3.9-9.6 .5 15.7 1.1 .4 2.7-1.9-4.9-3.1 1.6 3.5-7.3 .5 3.1-5.2 7.2 9.8-.3-16.7-5.2 4.2-1.9 5.1-1.3 1.1 .3-5.1 1.4 7.6-2.9 3.8 3.7-2.9-.3-1-2.7 3.2-.3-2 .2-7.5 1.4 4.9 .5 7.6 1.7-11.9-5.7 6.2 3.2-4 .7-.4 .5-.4 1 5.8-3.2 1.3 3.8 .2 2.3-8.6-4.6 6 2.4 3.4-1.6 8-1.5-5.8-1.8 1 .9 1.6 4-1.1-4.9-7.9-2.3 4.6 .5-3.6 2.7-8-3.6-4.6 3.4 27.5-.7-15.7-1.4-5.3 3.1 8.6-7.4 10.8 1.5-7.5 .6 2.6 1.1-3.1-4.5 1.3 1.6 7.1 4.1-2-4.4-4.1 2.8 5.2-3.1 1.3-1.5-7.2 2.6 3.9 1.6 .3-3.6-4.2-3.4 9.5 .9-6.2 .4-5 .1-1.8-2 2.5 3.5 14.3-4.5-12.9 4.4 8.3-5.2-5.4-.2 6.6 4.6 .9-1.4-6.4-2.9 2.8-1 2.4 .4 .6 .3-.4 0-2.4 1.5 6.7-4.9 3.9 1.5-3.4-.3-5.9-3.8 6.1 5.5-1.1 .8 2.5-4.4 7.4-4.6-9.8 1.7 1.5 3.7-3.9-7.5 3.5-.5-.8 3.1 11.3 1.8-5.9 .3-3.9 0 13.1-8.5-15.7 3.7 11.4-1.5 1.4-.5-1.7 3.6-3.6-1.4 1.2-3.2-.5 1.7 6.3-.5-26.7 1.9 21.4-4.8 3.9 2.2-3.1-3.7-5.6 2.2 8.5-1.7-2 .1 8.4-1.2 3.6 3-6-5.7-9.4-1.1 9.4 .3-3 1.8 8.6 0 5.7-2.4-6.2-2 9.2 0-1.9-1.3-3.4 2.2-7.1-1.8 6-.1-7.1-1 13.2-.6-3.9 1.8 7-4.4-4.7 1.4-10.4-.6 13.6-3.3 2.2 4.7 4.4-3.9-12.5-3.8 1 4.1 5.6-1.6-4.8-.3-.9-2.8-2.6-1 23.9 .4-17.9-4.1 1.6 2.8 3.9-.9 3.3 1.2 7.5-3.2-.6 1.2 .3-5.2-2.6 .8 1.7 2.8-2.9 .8-3.2-2 18.9-6-11.4 .3 8.5 .3-5.5 3.4 2.3-4.8 .9 1.1-5-.2 7.7-.7 5.8-2.1 1.1 .4-.5 .4 3.8-2.2-2.4-1.3-.3 1.2-8.6 .9 8.4 1.4 11.7-8.9-6 2.5 4.7-1.2-3.8-3.4-1.1 1 25.5-1.6-17.8-1.5 6.9 .1-3.5 2-2.8-4.6-8.5 .4 13 .1-7.1-2.8-2.1-1.3 18.5-1.7-1.5 1.1 .8 4-1.8-7.8 .8 4.9 3.4-4.8-.1-.9 .8 3 4.5-1.4-14.8-.6 18-2.3-6.5 1.1 8.7-4.3 2.8 1.4-8.9 .5 9.4-3.1 5.4-2.8-10.5 4.9 2.1-5.2 4.4-2.6-10.4 2.8 10.1 .5 5.4-2.5-2.9-4.8-4.5 1.9 7.3-.3 18.5-.2-.7-5.5-12.6-.6-2.1 2.4 5.2-1.4 1.5 .1-5.5 .7 6.4-6.6 6.1-.5 2.9 .3-15.6 3.8 18.4-4.8-2.9 1.7 6.5-8.5-4.5 4.9 3.6 .6 7.4 .2-21.7-5.7 24.1 5.2-5.6-7.4-8.7 4.2-2.9-.4 16.3-5-5.3-3.8 11.7 7-2.5-5.1-.3-4.5 7.1 2.8-1.5-4.5 3.3 1.8 1.9-3.8-1-3.7 3.8 5.7 1.5-4.1-9.3 .2 7-.4 2.3-1.7 .2-2.2-4.5 1.4 6.6-.4 6.1-1.9 .8-2.3 8.2-.2-9.1 2.4 .3-1.7 .1-4.3 4.2 .9 1.7-1.1-4.8-1 12.7-2.2 4.8 0 2.2-2.9-9.5 1.3 6.1-1.4 11.8-.7-8.2-1.1 3.9-1.3-.9-4.1 7.5-2 1.5 2 8.4-2.3-7.4 1.5 1.4-4.2-6.6-.7 5.8-3.1 .2 1.8 3.6-1.8-3.2 2.5 14.3-3.6-9.6 2 8.4-6-6-2.9 9.8 4.9 8.3-2.4-10.6 1.4 7.6-6.2-.4-3.5 3.5 6.4 2.5-3.9-6.7-3.1 7.2 5.1-.3-5.8 .6-3.1-.2 1.7 12.7-3.2-6.7-1.8 8.8 1.7 1.2-1.9-5.9-1.7 12-.9-7.7-4 9.2 3.6 6 1.6-9.1-4.8 .8 1.1 1.7 .5 18.1-6.2-11.6-2.1-2.6-1.8 12.2-.1-3.1 1.7 2.6-3.2-8 1.9 .7-5.3 9.3 4 .3-5.6-1.1-.6 4.6-.8 2.5-1.9 10.6-.9 1.4 .5 .9-2.8-3.4 .1-1.7-4 9.7-1.1 2.6-2.6 4.6 3.6-3.2-4.7 1.4 1.7 4-1.9-4.3-1.1 2.6-2 9.4 .7-7.5-1.4 7.6 1.5 6.9-5.4-.7-1.5 3.1-3-5.6 6.5 7.1-7.7 1.4 2.3 6.5-1.3 1.2-5.6 .2 .1 11.5 1.9-4.7-2.8-2-4.1 .5 2 5.1 2-.6-3.8 13.2-.8-3.2 .5-2.2 .8 .4-6 .1-2.6 6 0 9.7-2.2-.6-3.2-2.8 1.4 2.7-3.1-8.2 3.8 14.8-4.4-3.1-6.9 16.7 2.3-13 1.9 .2-3.4 5.3-1.8-5.6-.7 14.7-2-3.5 2 2.2-3.7 1.6-2.3-1.7 2.7 6-5.8 .2 1.9 9.7-4.1-6.7 0 3.3-1.4-2.4-2.7 2.2-.1 2.2 3.4 9.8-7.1-4.3 5.8 6.3-4-5.3 .4 2.2-5.9-6.1 2.3 15.6-3.3 8 2.9-9.7-6.9 10.1 2.6 3.6-5.5-13.5 3.3 12-5.3-6.4-3 4.8-1.9 9.5 .5-3.5 3.6-4.8-7.8 14.8 0-10.7 .2 6.5-1 1-.8 2.8 1.9-1.6-5.5-2.1-4.1 19.3 3.8-16.4-4 6.4-.8-5.9-.5 14.5 2.1 7.9-2.1 2.4-4 8.7-2.2-4.5 .6-3.6-4.1 .6-3.6 8.3 1.3-5.5 2.4 3.1-5-4-.9 7.2 3.2 11.2-1.3-8.2-1.2 4.5-6.4-23.4 1.7 32.3 .7-2.7-2 7.2-4.5-3.7-.9-3.4-2.4-.4-.8 11.4 .8-.6-1.2-2.7-4.1 6.6 2.2-.7-2.3 8.8 1.3-3.6-5.5-1.9 .5 7.7-6.9-.3 5.7 12.3-1.7-7.7-.6-2.3-3.2 8.3-1.3 1-1.4 4.6 1.7 1.8-6.3-4.3 .7 6.9 .4 1.8-3.5-3.5-2.5 5.2 .1 5.8 .2-6.9 1.6-1.2-6.1 10.8-5 3.9 6 5-3.6-7.4 .2 10.3-2.9 3.7-1.1 6.6-5.6-7.8 4.4-.5-5.1-1.1 2.8 12.5-7.2 5.7 5.8-7.9-4.3 7.6-6.2 4.1 4.3 2.5-1.3-7.1-1.3 9.5-4-1.4 6.3-2.5-7.5 8.1 2.2 2.5-9.2-4.7 5.8 9-1.6 9.8-2.4-15.5 1.6 13-5.4 3 1.1-2.4-2.4 3.4-.5-1-4.1 10 2.5-9.6-1.5 6-1.8-7.1-1.2 13.2-2.9 2.2-1.7-8.3-.4 5.9 .1 8.6-4.8-2.9 1.3-8 2.5 1.5-3.2 16-5 9.7 3.7-10.3-7.9 6.3 2.1 1.6 1.7-.7-2.2 2.6-2 1.9-4.4-3.2-2.7 18.6 3.7 2.9-1.8-10.3 1.9 9.1-6.4-11.2-2.4 4.7 0 8.5-4.2-9.6 2.1 1-.6 9.9-1.5-9.8 3.2 20.2-1.1-3.1-6.2-.7-1.8 3.8 3-6.1-1.7 1.6-6.5 14.7-.1-1.8-1.4-2.3-2.3 .8 .4-.7-2.8 11.4 3.3-12.6-1.8 4.8-6.2 3.4 1.2-3.3-1.1 2.8 3.3 3.2-5.9 11.9 2.3 5.7 .5-5.5-6.9-8.2 2 6.8-2.2 4.1 .6 1-6.3 1.2 1.1 6.1-4.2-10.6 4.3 8.6-7.4 5.6 3.5 4.2-5-.4 .7 .4-1.3 .9 .8-4.2-.1 8.7 .2 .2-.6-.8-4.3 17.4-3.8 1.5 4.2-12.2-6.8 6.6 1.6 4.6-2.7-3-1 1 .7 3.5-4.2-9.1 1.2 2.8-1.2 11.4 1.5 .4-1 7.1-1.9-7.7-2.8 9.6 2.6 1.5-2.8 6.1-6.3-12.3 2.4 3.8-.8 4.8-4.1 1.5 1.4-4.8-2.5 3.7-2.5-2.1 1.1 19.6-2.7-10.3-2.5 1.9 1.7-4.3-5.4 7.5 5.7 5.4-4.5-5.5-.2 4.6 .9 12.4-1.1-4.7-4-.5 .3-3.2 .4 3.5-.1-2-6.2 6.5 1.4-3.2-4.3 1.2-.7 3.1 .8-1.8-1.4 7.8-3.1 13.1-.7-14.2 .8-3.8-4.2 14.6 2.6-3.9-4.3 11.9 5-6.6-4 4.2 .3-7-3.7-2.7 2.4 8.5-2.5 5.7-.5-6.2-2.5-2.2 .1 6.4-2.7 2.1 .6 2-3.2 2.9-1.1 13.5 .1-10.4-1.2-1.2-1.4-1.5-2.7 10.8 .2-10.5 1.7 16.5-2.9-5.8-.5-13.9-3 17.6 3.4-.1-4.7 8.1 .7-12.2-2.3 9.8 1.8 .4-7.4 10.4-2.1-13 2.9 3.3-6 15.1 3-5.5-.8-8.7 .1 10.5 1.1-4.1-5.6-1.8 3.4 2.6 .7 12.4-.1-6.1-7.2 5.1 .8 .9 4.3-6.6-7.7 5.3 4.1 9-2.7-10.2-.5 10.5-6.1-.4-.4 5.2 .4 1.6 2.5 2.1-.5-2.5-4.6 2.5 1.6-3.4-1.2 2.2-3.5 8.5-1.2-6-2.9 9.4 .9 1.3-.2-7.6 3.9 8.1-1.8-5.5-3.3 7.1 .3-4.2-3.6 6.9-4.4 .5 5.2-4.7-.2 16.7-4-4.1 3.8-11.5-1.2 11.1-1.4-2.6-7.2 13.5 3.6-9.4 .5 3.5-4.3-1.8 0 5.2 2.3-4.6 1.9-.7-3.7 3.1-2.1 1.5-2.6 6.4-2.2-1.6-.2-1.5 2 1.3-2.8-1.5 3.4 6.3-7-9.6-.4 10.1 1.7 8.1-.1-6.7-1-.3-3.6 4.6 0-8.7 3.1 6.7-3.8 11.5-1-8.7 1.8 13.9-1.3-6-1.7-2.2 3.1-1.5-7.8 2.8 3.3-9-3 13.5 2.9 4.3-5.3-.6 3-4-3.2 6.2 6.1 4.1-6.1-5.8 3.8 3.3-7.3 4.4-.6-1.9 1.5-3.2-5.5 2.9 1.1 1.7 4.9-7.9-1.6 9.6-3.8-.3 2.4-20.2-2.2 14.2-.7 18.4-4-7.6 3.8 7.2-4.2-7.7 4 17.9-6.4-11.4 7.4-8.9-7.9 9.2-2.3 7.3-.1 5 2.8-8.4-.8-3.8-2.9-1.1 2.7 8.7 2.1 3-4.8-3.8 .9-.3-.4 5.5-.6-.7-6.6 .5 6.9-8.7-4.1 6.9-.2 12 1.9-8.6-9.5 13.1 7.4-9.4-1.7-2.4 2.6 3.7-3.6 2.4 1.7-5.7-1.1 5.7-5.8-2.5 2 10.2-2.1-8.7 1 3.7-2.4-14.8-2 9 2.7 7.2-1-3.4 1.3 3.9 2.2 3.5-5.2 2.4-.2-9.1 2.8 6.9-1 5-6.5-6 3.2-2.3-4 3.8 1 12.3 .3-7.2 .3 8.3-.8-8.6 .7 8.2-.2-12.5 2.4 5.4-2.3 3.7-4.7 9 5.1-5.7-2.8 3.9-3.9-7 0 .6 2 9.1-.4 1.5 .2-.4-4.7 .5 2.3-7.9 5.1 14-9.1-9.3 .4 6.2 2.8-2 .2-11.9-2.4-.4 1.3 2.4-1 8.3-2 6.4 1.5-6.2-1.1 6 1.2-9.8 .4 3.6-3.9-.8 1.4 5.2-2.5-5.4 1.2 5.8 .8 4 1-4.7-3.7-1.7 2.9 2.7-2-3.3-.7 1.4-.2 9.7-1.2-1.9 1.9-8.4-3.9 6.3 3.6 4.1-2.6 2.2 4.3-.4-4.8 2.2 1.6-4.7 .7 .6-.2-.8 1.6 7.2-.1 3.5-4.3 .7-.9-2.9 4.1-9.3-2.6-3-1.4 .8 .1 2.9 1.7 11-.3-12.9-6.9-2.8 2.8 9.6 .4 5.3-1.3 .1 4.7 4.8 0-8.2-3.3-2.4 3.4 1.6-4.1-4.9 3.7 3.6-1.5 10.1-1.4 4.3 .6-3.9-2.5-4.6 3.6-2.5-3.6 2.7 2-10.5-3.2 12.6-.1 1.2 2-5.2-.1 1.8 2.5-17.1-3.5 21.3 1.1 .2 0-17.7 3.5 11.2-4.3 4.8-3 6.8-.9-12.6 2.3 4.3 .9 7.7-3-4.9-.1-3.3 .4-1.1 2 2.5 1.3-4-3.1 9.2-.3-9.4 4.7 7.3 1 1.9-2.8 1.5-2.6-5.3 0-.4 2.8 1.7-5.5-1.2 .2 5.2 5.8-6-5.5 10.2 1.5 4.4 6.5-3.3 5.7 9.1-.2-8.1-1.9-4 3.2 7.6 2.6-2.7-2.3 8.4 2.3-15.1-3 9.9-1.5-1.4 0 2.8 6.2-2.6-6.8-6.2-.3 17.8 3.7-8.4-1.9 .1-1 1.3 3.7-4.1-2.2-7.6-4-3.1 3.2 1 3.3 7 .6-10.4-.1 7.9-2.8 7.3-1.5-8.9-2.3 14 4.3-17.8 1.6 11.6-2.6-13 2.5 11.3 3.6 14.3-3.4-17.7 1.1-4.7-1.8 .5-.2 8.9 5.4 1-5.4-2.3-1.7-4.6 1.9-3 .3-3.4 4.6 3.5-2.8-2.8 1.7 13.1-1.6 1-2.4 .1 .5 2 4-11.8-.8-6.1-1.7 10.2 2-4.4-2.6-2.4 3.7 7.7-1.4-4.5 3.9 5.5-1.8-1.4 .6-6.3-1.6 4.1 .5-2.7 1 4.2-.2-2-1-4.6-.5 6.8 3.3-5.2-.5 2.1-4.3 1.3 4.2 10.4 .6-9.2 1.1-3-.1-2.2 .9-5.2 1.9 8 0 0-2.3-3 3.5 6.2-2-1.8-.5 1.1 5.3-4.8-4 8.6 2-4.8-2.8-6.2 3.7 2.4-4.7 5.3 1.2-8.3 2.5 9.2 2.1-8.6-.6-7.2 3.5 12.4-.3-6.4 .4 2.5 .7-1.2 2.4 5.8 .2-5.6-3.7 4.1 3-13.7-.9 9.2 .7-3.5 .4 2.6 1.3 10.5-5.8-14.9 5.7 6.8 1.8-5.2-.6 3.5-2.9-6.5 5 1.1 .3-6.1 .4 14.3-3.4-6.1 7.4 .7-4-8-.8 20.2 1.6-8.9 3.7-10.1-5.1 5.4 1.7-3 3.2 5.7 .5-15.7-2.3 11.4 1.7 0 2.9 2.6 5.4-9.5-1.4 1-9.4-1.9 7.4 9.6-2-2.9 3.2 2.9 1.1-1.5-1.7-1.1 1.8-9.2 .1 4.4 1 7.2 1.8-5.1 0-6.8 .1 .2 4.1 1.4-1.5 .5-.7 1.2 .2-1 1.9 1.6 3.8 2.4-1.7-2.6 3.7-8.7-5.7 14.5 2.2-11.6-.6-2.8-.2 8.1 5.3 .9 .2-2.6 1 7.4 1.7-14.2-4.2-.4 1.8-5.3 1.7 15.1-2.7-8.7 2.5 5.3 2.8-10.2 1.9 6.5-.6-5.5-.1 7.1-1.4-8.8 1.6 6.3 3.5-12.5 .5 2.3 .5-1.2 2.6 7 1.8-25.7-2.9 13.6 2.1 7.6 .3-3.5 1.5-.6 0 1.6-2.6-3.9 2 3.6 1.7 9.1 .3-18.2 1 9.9-1.2-10.8 1.5-3.6 1.9 5 2.7-1.1-.1 .9 1.4-7.8-1.1 4.1-.3-3.4 4.7 7.2 1.2-5.9 .9-4.3-3.5-3-.1 4.1 6.6 8.5-1-18.8-.4 4.2-.2 8.3-2.5-2 7.8-7-1.7-.5 2.8-2.5 2-7.6-4.1 6.4-1 5.4 4.6-4.2 1.1-10-2.4 5.3 .9-3.2-1.1 8.1 7-13.6 1.5 0-1.5-1.9 2.2 22.9-2-9.8 .4-10.6 3 4.8-.8-14.2 3.1 6.3 2.3 11.4-2-13 3.1-6.8 1.8 2.4-2.3-.8 1.9 1.1 1.3-1 1.2-2.7 .7-6 1.2 6.1-.5-.9 3-8.8-.9 9.6 4.3-4.7-3.7 8.4 .4-4.8 3.3-9-.2-2.3 3 12.2-.8-4.1 7.8-4.1-6.7 .5 2.4-12 1.9 11.5-3.5-7.6 7.7-.5 3.2 4.2-6.3-3.3 1.3-11.4 4.3 9.7 1-5.6 .8 6-1.2-5.9 .7 1 2-9 1.2-4 2.3 .8 .2 5.9 3.9-7.5-1 1 .1 11.8 2.8-7.2 .9 6.3 .1-16.7-1-2 2.8 .9 1 4.1 2.5-8.6 .4 12.8 2.1-15.7-.2 9.8 2.3-13.2-.3-.5 .5 4.5 0-3.3 3.1-3-.1-2.1 .7 2.4 2.1-5.6 1.8 10.7-1.9-6.7-1.6-2.7 2.7-8.8 3.8 17.7 .6-13.9 1.3-8.6-.5-.4-1.5-9.4 8.9 8-4.3-17.9 1.6 10.8 5.6 12.5-1.5-9.8 2.8-3.7-1.5 19.8 2.4-21.7 1.6 12.1-2.9-13 6.8 2-3.1-5.1 .9-2.1 5.7 2.8 .6 4.8-.9-7.5 5-6.5-6-4.8 1.2 13.6 8.9-10.7-4.7-2.8 2.3 6.6 3.6-1 .8-.6 1.3-7.1 2.2-7.6-2.6 11.2 1-4.1 3.7-1.2 2.4-5.3-1 6-3-3.5 3.8 0 .6 3.6 6.4-9.3-1.6-.8 .8-1.1 .5-7.5 1.7 4.9-2.2 5.6 4.8-2.1 1.8-11.1 2.5-2.1-1 6.8-1-3.6 5.2-1-2.2 5.1 4.6-10.1 1.8 5.1 1.6-5.6-1.4 1.2 4.5-9.3 3.5 1.6-5.9 .3 3.6-3.9 .8-.4 3.2-3.4 .3 8.9 .1-21.8 5.9 13.6-2.3-5.1 1.7-7.7-1.7-2.4 1.3-2.6 .4 8.9-.9 2.7 9.4-6.8-.2 4.6 1.7-26.8 2.7 8.9-1.7 2.6 1.4 4.2-.9-2.8 3.8-9.3-2.5 3.8-.1 2.1 .8-12.9 2.9 8.5 4.1 .1 1.1-.8 1.4-1.8 2.5-8.5-.8-10.8-.2 2 2.5 .8 4.7 1.6-3.9 3.2 2.3-5.2 5.4-.3-1.3 3.8-1.8-16.5 2.7 7.5 3.1 .4 2.2 1.5 .3 13.7-.4-18.3 2.6-12.2 4 6.6-.7-13.3-2.6 9.2 1.1-7 2-1.1 4.6 2.3 .5-6.2-.1 1.8 3.3-2.3-1.6 1.2 1.4-7.3 2.4-4.5 2.5-4.8-6.3 9.5 10.5-.8 .1-10.2-2.1-5.8 3.2 11.1 1.9-4.9-1.5 2.1 3-5.5 2.9 10.6-.9-12.2 .6-4.1 1.9 8.3 2.9-17.1-1.1 3.6 1.7-.9-.7-3.9 1 1.4 5.4-5.4-.2-16.5-.2 24.7 6.6-11.6-4.7-3.1 5.6-7.5 1.9 5.5 4.7-2.9-4.8-7.9 2.1 11.1-1.3-2.9 3.3-15.5 4.1 11.2 2-9.4-1.1 5.9 .7-3.1 3.9 .7-3.4-1.2 6.7 0-2.5-10.8-1.3-1.8 5.8-1.7 1.5-2.3-3 11.1 8.3-11.7-1.3 3.8-4.5-6.9 5.4-3.5-.7 3.4-.6-12.6 5.2 8 2.2 1.5-1-7.4 2.5-1.3 1.4-4.4 .5 7.7 .2-4.1 2.6-1 4.1-8.8 1.3 .5 .8-5.9 2 4.5-1.5 0-.1-4.4-.1-2.7 6.9 .8 .4-.8-.9-2.5 2.1-7.7 2.2-2.5-.3-.1 1.3-8.3 2.7 8.5-2.4 6.5 .5-11.3 5.5-10.4-.3 2.3 1.9-2.8 4.2 5.5-.7-3.2 3.1 5.7-.6-10 5-3.1-4.6 5.1 4-12.8 0 2.8 .4 3.9 3.7-6.3 .4-.9 .7-8.5 .7-4.9-3 4.3 5.3 4.5-3.6-9.4 12-4.5 3-4.2-5 24.4 5.8-28.4-7.3 2.7 4.3-4.7 2.1 7.1-.4-13.7 .2-.6 3.2 6 2.6-11 3.8 8.5-1.1 1.3 2.6-7.3-4.3-15.1 .8 7.4 4.7-.1 2 6-.9-1.1 1.8-4.5 3.1-6.8 3.7-3.4 1.7-1.3-5.1-4.6 1.6-1.1 2.4-2.7 3.2 .8-1.4 4.6 2.5-15.1 .3 14 2.7-5 0-3.7 2.8-6.6 1-2-2.4 4.4 5.3-10-.6-4.6 1.7 2.4 4.3-4.5 .2 7.6-.6-7.9 1.6 0 2-4.2-3.9-2.2 3.8 3.8 3.5-6.1 1.1 4-2.1-18.5 3.7 12.1 4.2-2.3 1.9-6.7-.9-10.5-.9 6.9 .9-3.2 2.7 5.9-.7 3.8 2.7-8.7-2.6-4.1 9.2-.6-1.8-4.6 2.2 2.5-3.9-5.9 3.8 4.4 2.7-4.7 1.4-6.5 1.1-.4-1.1-8.2 3.9-1.8-1.5 .6 6.3-2.3-3.2-5.9 3.8 6.6 .6 1.7-1.7-1.5 3.8 1.2 2.7-10.4-.6 10.5 0-14.6 2.6 1.1 1.3 3.8-3.1-16.4-.8 8.2 4.8-1.9 .9 6.8 4.5-15.6 .7 1.8-1.2-15 3.8 10.1 .5-9.8 3.9-.6 0 7.4-4.3-8.5 4.5-5.4 1.9 8.3 .5-4.9 1.6-4.8-3.3-7.8 4.6 2.1 .4-5 .4 3.2 3.6-2.4-1.8-.9 1.2-4.6 5-.1 1.9 3.9-.3-8.9 .7 4.9 2.2-2.4 1.1-2.1-1.7-14.5 .2 10.8 0-5.2 5.3-.4-.1-5.5 2.5-1.9 1.2-6.2 .9-2.5 .3 5.5-.1-7.9 2.6 0 1 5.1 1.2-.1-1.2-9.9 2.6-10.4-3.5 9.6 6.9 1.1 1.7-6.2-1.1-4.1 1.5-5.6-2.4 4.5 7.1 10.9-9.1-12.4 8.3-6.7-4.3-4.8 4 4.8 2.9-10.9-2.2 2.4 3-.6 1-2 1.2 1.5 2-4.2 0-7.7 1.6-6.4 1.2 9.1-1.7-15.8-.3 4.4 7.5 15.3 .1-15.9-2.1 9 1-15.3 5.4 8-1.8-2.1-4 .4 5.7-10.3 3.1-4.8-4.1 3.7 2.9-16.8-.3 5.8 4.1 10.5 1.5-11.1-2.1 8.6-.3-2.1 7.2-11.7-3.4 .1-1.5-.8 6 4.6 4.4-6.8-3.4 4.1 .7-7.7 1.5 4.1 .2-8.3-.6 5.8 2.2-4.1 .7 .8 1.3-3.5 5.8-22.6-4.1 23.6-1.6-10.5 .4-9.5 5.1 2.4-1.7-7.2 2.8 13.8-.4-10.6-.6 0 6.1 3.1 3.2-14.1-3.5-1.5-3.6 6.6 5.9-10.3-3.9 10 9.8-11.7-7.7-.8 7.2 7.1-3.4 2.2-2.3-9.5 5.3-3.8-.6-6.4 .2 3.5 4.7-2.2-2.1-4.9 .2 1.5 1.8 5.1-1.4-5.3 2.6-14.9 3.1 19.2 2.5-4.2-1.7-13.3-4.3 10.8 3.8-13.7 .6 7.2 .7-3.5 2.1-7.1 2.6 4.9-.8-2.6-2-1.2 3.3-8.9 .7 8.6 .8-6.5 .2 6.5-.5-4.1 0 1.4 7.1-13.9 1.3 13.7-2.1-9.5-.9-3.4 4-4.2-1.5 1.2 2.1 4.2-2.3-17.1 1.1 11.1 .9-16 1.3 6.3-1 5.3 .5-1.1 3.1-5.2-1.9 1.5 2 4.3 .8-8.2 1.8-7.3-3.8 2.3 3.7-1.5 3 7.5 .2-10.3 3.9-16.1-5.5 8.4 5.7 11.2-.2-5-2.9-9.5 2.2-2.9 1.6 9.5-2.2-11.6 1.2 3.8 1 3.7 .9-2.1-.4-9.4 1.7 6 4.8-12-2.8 7.8 2.4-5.5-3.7-7.9 2.9 14.4 2.3-8.7 .5 2 1.3-5.8-.2 15.2 2.7-7.7-5.9-10 3.9 19.6 2.6-16.4-.9 2.3-4.3-19.6-3.3 10.4 5.6-8.1 2.2 3.5 2.6-2.4 4.5 2-2-12.6 0 6.9 1.7-6.6-2 11.2 .8-3.8-1.2 2.3 .9-2.4 2.4-2.4-3.4-8.2 4 2.4-.5-11-1.4 5.9 .5-.7 .4-.5 6.7 1.7-4.4-2.8 1.4 16.2-1.8-8.8 4.2-10.3-.8-2.8-2.8-2.3 4.1 7.7 4.2-11-7.8 7.4 9.8-11.2-4.6 4 5-7-6 7.7 4.3-2.3-.3-4.5-.8-6.5 2.2-6.7-2.4 9.8 1.4 6.8 .7-10.8-1.2 5 2.9-11.6-4.5 11.6 5.7-8.7 3.1 10.1-4.8-11.8 .3 2.1 7.3 9.2-2.9-8-.7-1.8-.3-2 4.2 1.9-4.8-7.9 2.1-1.4-.2 19.6-2.8-15.7 5.6 .3-1.9-2-.3-.1 0 4.5 3.7-5.7-.4-2.3 .4-3.3 1.2 3.3 2.7 4-6.2-9 3.8-.2-.5 7.4 1.6-5.6-4.7 3.6 2.9-11.4 3.5-2.6-5.6 1.2 2.5 6.6-3.4-10.4 2.8 12.6 1-6.6 2.9 2-.5 1-3.2 .1 4.2-17.1-2.1 14.1 1.4 1.9-1.1-8.1 1.1 4.8 2.4-.8 .4-.1-2.5-9.6 1.2 11.4 1.4-13.6-2 8.6 3.5 .2-.7-.8-1.5-1.2-3.3 5 .7-4.5 2.2-1.9 .8 3.4 2.6-13.4-1.9 4.4-.9-4.3-2.7-.9 6.1 10.8-1.2-4.6 1.9 6.4 .5-4.7-.1-18.8-1.5 12.7 4-1.2-2.1-1.4-4.8 11.4 4.6-11.6-3.6 7.8 4.5-6.3-2.1-.4 .8-5.6 2.4 14.2-1.6-9 .4-10.3-2.1 10.6-.9-8.2 .9 13.6 3.2-12.9 2.6 2.4-2.8 4.2 6.5-6.4-9.2 12.3 .1-7.7 3.8 .5-1.5-.3-1.9-.6 .3 .5 2.2 9.2-.7-11.1-.3-4-.8 11.2 2-1.5-2.4-7.2-1.5-.1 4.4 8.6-2.9-5.7-.8-1.1 2.8-.5 .5-2.5-4.1 6.3-.3-10 8.1-13.4-16.1"/>
<path class="c" stroke="#0f0" stroke-width="1.7" d="M385.1 980.5l-24.5-8.5 20.3 4.4-4.4-1.2 6.4-1.7-4.4-1.7 7.4 1.5-8.7 .2-5.5 .9 8.9-.5-.3-1.3-5.6-2.6 3.2 1.7 5.3-2.2 .5-1.9-5.3 3.7 1.2-4.1-6.4-1.8 18.1 2.1-8.7-5.3 8.6 3.3-3.7 .3 8.6-2.8 8.1 .5-14.3 3.3 6.9-2.6-16.8-2.2 17.9-1.8-21.5-3.6 19.2-.3 4.9-1.6-2.9-.6-1.6-1.1-.9-3.3 3.8 3.9 14.7-7.2-5.6 1.6-4.3 0-3.3-3.9 11.2-2.9-9-.1 3.1 2.5 3.9-4.5 9.4-3.7-.3 .2 3.4-3.4 1.4-5.5-2.4 2.9 8.5-.1 6.8-1.7-4.7-4.5 5.9-5-1.2 3.8 8.4-5 .9-.1 9-1.2-5.1-3.8 9.3-3.1-7.1-3.4 1-1.8 3.7-1.2 8.9-3.4-3.1-.5 2.9-7.4 10-.3 5.3-.3 .2-3.9-13.1-2.1 11.9-3.9 2.7 1.5 2.6-.5 7.4-8.4 14.5 2.1-7.2-8.3 1.4 .8 10.7-7.5 .8 2.8 3.4-3.8-.2-2.5 7.4-.4 6.2-4.2-19.2-4.2 17.1-4.6 17.6-1 3-4.5-2.6-2.4 1.7 1.2 8.4-4.3-.7-4.3 8.6-2.3 14.4-7.6-3.1 .4 16.7-7.1-9.3-.8 7.6-.9 9.7-3.1-8.9-2.5 9.7-4.4 5.7-3.4 8.6-3.4 9.4-.2 .4-3.5-6.2-9.4 10.9 .2 1.7-.8 4.7-6.8 31.7-2.3-22.7-5.2 11.4-4.8 .2-.5 18-4.7-2.7-2.9 3.8-6.3 4.7-2.8 12.2-1.1-9.8-4.1 12.8-1.2 4.2-6.9 18.5 .4-1.9-3.7-3.7-4.5 12.6-2.3 22.1-5.2-7.9-3.9 9.9-3.3 3.1-6.4 2.8-1 1.7-1.9 5-9 7 1.3-4.1-6.6 29.2-3.1 2.4-2.8-4.4-3.4 3.8-1.2 2.5-7.1 14.1 .4-.3-7.4 11.7-2.8-6.8-3.3 14.3-6.7 13.5-4.8-6-1 11-2.5 1.8-3.4 11.5-6.3 6 1 1.1-7.8 3-4.9 10.4 .4 5-3.5 2.8-8.4 11.3 .2 5.8-8.3-.7-.8 9.9 1.2 21.1-5.8-4.6-4.9 2.9-3.8 17.4-6.9-9-1.2-4.4-3.4 8.6-7 7.7-.9 14.7-2.9 9.3-4.4-10.1-3.2 22.2-5.1-6-5.7 13.1-1.1 6.3-8 5.1-1 3 .3 6-2.2-1.4-6.7 12.2-9.9 8.6 4.6 4.9-5.4 13.5-5.2-2.6-1.6 3.3-4 9.8-7.4-2.1-3.8-10.3 1.5 8-10.8 22.6 2.8 1.4-4.2 6.4-2-.9-1.8 8.3-4.4 12.6-2.9-.9-5.1-4.4-4.1 8.3-2.2 13.9-5.7-7.6-5.4-18.4-1.5 21.6-6.7 9.3-1.1 15.2 2.5 1-6.7 .2-4.8 1.9-4.2 10.3-5.9 4.1-.5 2.4-3.7 5.9-1.5 1.7-2.9 17.1-3.5-16.6-7.1 16.7 4.3-1.5-5.3 12.7-4-.5-3.8 7-1.3 4.9-1.2 3.6-4.3 7.1-6.7-15.9-3.1 24.3-5.2-1.6 2.7 7.2-1.5 10-1.6 2-5.1 8.4-1.1-30.7-6.5 24 .5 13.6-4-6.6-3.7 8.6-4.8 23.5 3.8-10.6-10-5.8 3.9 10.4-5.6 8.1 .6-3.6-4.9 2.3 .5 4.4-4.5-14.1-4.1 20.9-1.1-3.2-4.7 9.7 2 3.1-.5-3.7-3.5 10.3-2.8 1.5 .5 .8-7.4 6.5 1.7-2.5-3.1 2.7-3 4.4 .3 1.8-5.6 8.4 .4-14.9-.7 12.9-5-5.9 .3 10 .1 6.3-.7 1.1-5.8 7.2 2.5-1-4.1-13-.6 10.3-2.8 15.5 1.5 2.1-4.7-5.3 .9-6.3-1.1 20.5-.4-32.4-5.2 26.7 2.8 0-2.7 4.2 2-6.5-5 5.4-1.5 8.9 .1-6.3-1.5-3.1-.6 7.6-3.3 2.4-2.6 .2 .5-2.1 1.2 7.8 1.5-2.3-2.3-4.3-2 8.8 1.1-1.2-.1 1.7 5.5-19.2-3.8 16.1-2.8 6.8-4.1 3 2.5-2.4-.6-.5 1.6 3.3 3.2 1.6-5.1 4.3-4.3-6.3 3.9-5-3.5 5.3 5.4-12.1 .6 18.6 4.1-9.1-.2 6.6 3.9 6.9-2.7-11.1-.1 2-1.4 4.2 8 1.2-1.1-2.2-2.5 1.3 4.1-.8-3.3-7.5-1.3 5.9 2.5 3.4 2.5-15.2-4.9 12.9 5.8-.6 .7 4.4 1.4-3.4-1.3-7.2 2.2-1.2-5.3 7.4 4.6-2.2 3.4 1.1 .1-3.5 .5-3.7-2.2 7.5 3.5-2.2-2.1 3.5 4.5 2.2 2.6-.3-.5-.7 3.6-15.8 .4-1.2 3.4 2.6-1.4-.6-1.3-1.9 2.3 8.6 2.6-12.7 3.2 11.1 1.9 6-.2-.2 3.5-9.6 .1 3.7 4.6-15.2-2.5-6 7.3 10.8-.1-21.1 .5 18.5 .4-8.8 5.6-10.3-.5 28.3 4.8-27.7 4.7 16.1-1.4-21.7 2.3-4 2.9 8.4-.1-3 7.7-10-2.4 6.9 4.4-2.3 1.6 1.8 .4-15.1 6.7 2.7 .4 .2 .3 2 2.5-5.8-.2-7.4 4.4-.9 6.8 6.7 2.7-14.1-1.2 2.8 6.1-15.2 3.5 16.6 2.3-9.1 3.8-14-4 8.9 7.4 .9 .4-6 6.4-6.5-.2 5.2 4.8-16.2 4.7-.9-2.4-3.9 5-1.2 2.9-9 4.6 8.7-.3-11 8.2-8.4 5.7 .7-1.7-.8 4.9-5.2-3.8 1.5 6.4-11 7.3-10.5 2.5 7.3 4.1 .6 4.9-14.5 .7-6.5 2.7 1.4 2.9-.6 4.8-8.1-1.4 2.5 11.4-8.6-4.5 5.3 4.9-14.2 7.1-2.9 5.4 .7 2.7-1.3 5.6-3.1-.7-12.4 3.1-.8 6.2-1.8-.1 0 6.5-16 4.3-6.2 3.2 4.2-1.5-8.1 7.6 3.3-.3-11.5 10-3.4 .8-15.2 6.8 5.2 4.4-.1-2.1-13.9 8.6-8.1 2.6 5.5 6.2-11-2.3-3.1 3.7-8.9 4.8 3.3 1.5-13.4 8.1-3.8 1.9-2.5 5.8-6.3 4.1-29 4.8 21.9-.9-13.4 8.3 1.9 3.7-8.5 .1-4 4.6-8.3 1.9-6.9 9.7 .8 4.1-5-1 4.6 5.4-10 5-13.9 4.6 4.7 2.2 .5 7.7-12.1-1.7-9.2 7.8-9.3 2.2-.2 4.2-13 1.5 5.7 1.7-11.4 6.4-6.4 6-1.3 .9-12.9 1.9-7.9 7.1 1.1 4.1 2.5 1.6-16.3 5.6 2.7 4.8-19.4 3.3 2.4 5.2-2.5 4.2 .5 1-23.6 2 2.7 1.5-10 9.7 .3 2.2-10.1 5.1-2.4-.4-10.1 5.6-4.6 1.6 1.2 3.4-2.4 2.3-12 6.3-6 5.1-8.3 4.2 4.9 2.4-22.8 2.4-5.5 8.6 .8 2.5 .9 2.3-2.7 1.6-7 5.9-4.6-1-8.9 2.2-9 7.5-15.4 2.3 10.7 5.2-15.2-.8 1 5.6-4.1 .3-12.5 4.8-4.8 4.9-6.1 2 .4 1.3-8.5 1.9-9.9 5.5-1 1.8 9.2 1.9-19.1 6.4-7.9 .8-8.2 7.8-8.2 4.7-1 .8-5.2 6.6-7.4-5.9 1.9 1.7-12.5 6.3-5.1-.8-2.6 7-1.6 4.4-19.8 2.5 5 3.1-.3 .1-16.9 2.9 2.4 3.4-12.7 1.9-4.2 4.7 1.3-.3-6.7 3.3-14.7 1 2.7 6.1 2.2 .7-11.6 2.4-10 1 1.8-.5-4.9 5.3 5.7-1.5-16.6 6.9-6-.4 3.6 7.7-1.5-2-5.7 3.4-3.4 1.2-11.5 .7-8.1 1.2-.2-.2-.8 6.1-12.1-1.1 2.9 8.8 .4-3.4-10.2 3.3 9.4 3.1-9.9 1.5-13.5 4.6-3.2-1-1.5 .8 3.5 2.4-4.7 5.3-8.4-.1 .2-4.5-.3 5.4-4.7-.2-13.8 3.5-7.2 2.7 4.3 0-7 2.6 9.8 3.7-14.2-6.3 1.1 5-3.6 1.4 3 2-1.3 .3-1.9 2.9 7.6-1-20.3 2 19.9-3.3-7.5 4.7-16.9-2.1-1.2 4.8 6.3 3.4-2.2-3.2-9.2 1.9-4.3 1.4 24.8 2.1-27-.7-13 1.5 14.5-3.3 .6 1.5 2-2.6-1.2 8.5 5.3-7-19.4 5-3.2-1.3-3.4 .2 14.8-2.6-14.1 2.7-4.3 .5-2.4 .9 10.4-1.5-3.2 1.4 3.4-2.5-6 4.8 .6-4.1 6.8-4.1"/>
<path class="c" stroke="#00f" stroke-width="1.7" d="M386.7 961.8l-12.6 4.5-2.9-8.6-6.6 3.5 13.1-3.4 8.2 4.7-5.8-3.4 5.8 .8-.1-1.2-9.1 .3 34.1-8-33 2.6 6.8 1.5 12.5-3.8-13.6 2.5 1.9 .2-2.3-6.4 5.1 .4-24.2 .6 21.1 .8 12.7-3.2-6.3-2.3-1.2-5 4.3-.1 1.4-1.8-.1-3.5 3.4-.1-19.8-3.6 24.1-2.3-3.1 3 10.6-6.7-.6 1.8-1.4-6.8 8.3-1.7-1-4.8 13.9-1.2-1.2 1.8 8.4-5.8-5.7-6.7 17.9 4.1-5.4-7.5 12.4-2 1.7-2.2-5.5-6.7 11.5 3.7-3.1-3.7 12.6-6.5 9.8-1.9 5.1-4.6 2.6-4-6.3-2.8 11.8-5.9 5.9-1.5 8.7-4-3.3 1.3 11.3-10.5 4.7 1.7-4.3-4.9 8-5 13.1-5.5-2.5 .9 5.6-4.8 16.4-7 2.8-4.4 .4-3.9 4.7-1.4 .5-10.1 2.4-2.8 3.4-2.7 11.7-9.2 14.3-1.3-.2-1.8 8.9-7.4 7-3.7 2.3-7.3 15-.6 10-7.7-6.6-3 20.5-3.2 0-6.5 15.7-1.8 7.5-5.1-2-5.3-2.3-4.1 14-7.3 .6-9 6.2 1 11.9-5.2 15.5-7.3 .3-5.7 9.5-.5 2.8-7.7 17.1-4.2 5.1-4.9 15.7 .3 .8-11.3 8.6-8.9 6.3-.3 5.2-7.2 11.7-6.7 3.7-1.5 2.1-6.6 8.4-2.5 8.1-7.7 10.4-2.3 .2-5.6 12.9-7.1-3.8-3.8 8.2-3.2 .1-7.4 18.1-9.4-2.7-2.2 6.6-4.9 16.3-3.1 2.4-7.5 8.2-2.2 17.8-7.2 3.5-4.4 13.8-5.4-1.1-4.7 15.6-5.5 9.4-4.3-5.9-7.3 14-5.7-5.5-3.3 6.4-4.6 6.8-6.2 10.9-3.3-1.3-4.9 7.9-2.1 10.3-11 11.8 2.1-1.5-13.2 2.8-3.5 13.6-.4 11.6-6.9 1.9-3.1 9.9-4.8-4.2-6.3 15.1-4.7 6.1-2.5 8.2-3 3.9-4 7.8-5.2-3.4-5.4 13.7-1.2-6.2-11 10.6 .2 13.7-1.7 3.9-3.4-8.4-4.9 17.3-3.7-.1-4.6 3.2-5.7 9.7-8.5 6.1-.3 12.1-3-7.9 .2 8.8-7.3 10.2-3.2-2.4-1.3 20.3-6.6 7.2-1.4-7.7-2.3 9.1-5 .8-2.7 6.7-6.6-.8-2.1 11.2-1.1-7.4-.4 15.1-6.5-2.6-3.7 12.7-2.7-18.1 0 10-6.9-11.4 .4 15.5-3.7 6.1-1.6-2.5-3.8 1.7-.5 2.6 .5 13.7-5.2 9.1-2.4 3-5.9-2.3 4.2-1.7-4 6 .4-2.7-2.2 2.5-3.3 15.9-1.2-4.1-2.8 5.2 5.3-2.6-3.4 11.4-1.4 2.3-.5-9.5-.7 3.6-2.1-.2-.6 11.3 2.1 .8-9.2-6.7 3.1 13.9-2.2-10.5 .7-5.5-5.6-3.5 2.5 10 3.4 2.7-4.4-4.3 3.4 5-2.8 4.2 1.3-8.6 12.7 14 .2-4.5-3 12.7 3.5-14.4-1.3 9.9 2.5-8.6 .7 5.1 3.3 7.3-3.4-9.1 .6-2.8 2.7 2.3 3.3 2.4-2.6-7.3 1.6 10 1.2-8.8 1-4.1-.8-2.9 .8 1 1.5 2 2.1 .8 2.8-6.1-.7-5.5 1.9 .8 3.3-12.2 1.5 14 2.4-3.5-.7-7 8.2 3.2-1.8-15.3 2.3 29.4 1.2-21.9 5.1-2.8 3.7 11.4 .6-16.4 2.6 5.5 2.5-7.7 7.7 0-.2-1 .9-4.3 4.1 7.2 4.7-4.9 1.3-11.4 3.4 11.6 3-15.3 2.5-4 4.8-.8 5.4-15.3 1.1 22.1 2-24.7 2.4-5.7 5.1 7.5 2.6-14 3.1-.9 6.7-7.9 3.3 .7 5.5-.4 2.9-15.5 2.5 8.3 6.7-6.9 3.2 5.1 5.9-2.7-.7-13.4 5.3-5.7 4.8-2.1 7.3-4.1 2.3-16.5 1.4-10.7 5 7 7.3-8.8 .6 1 6.4-1.1 5.7-9.9 4.3 1.9 6-.8 5.7-12.5 3.6-3.8 1.7-8.1 9.7-6 4.3-10.8 1.2-6.1 5.7 2.5 3-2.8 10.2-11 1.4-4.8 6.7-12.7 5.2 .1 6.5-2.9 2.9-7.5 4.2-4.4 7-10.5 5.9-6.5 2.3-1 6 1.1 2.1-16.7 10.6-13.1 .9-3.3 8.1-3.4 5.1 2.4 5.2-5.4 5.7-13.9 2.1-5.8 7.3-1.5 3.6-7.2 6-13.4 3.7 2.6 11-13.3 1.1-2.9 6.7-8.6 1.9-3.3 9.9-10.5 1.4-5.6 4.8-2.5 4.8-12.3 2.5-1.2 4.1-20.6 9.3-1.9 2.5-12.2 6.4-10.6 9-1.9 .3 .9 9.1-16.6 1.4-1.8 2.4-19.8 8.3 5 6.1-12.2 4.4 .3 2 1.3 3.8-21.4 8.3-.5 6.4-17.4 4.3-3.5 .4-10.5 4.8-3.2 5.6-8 6.1-16.7 3.3 2.1 4.4-8.9 3.4 2.7-.9-28.7 6.8 5.1 6.9-2.3 1 9.7 11.3-19.5-1.3-12.6 7.1 .6 4.6-15.4 4.2-7.9-.7-8.3 5.7-6.7 7.2 4 1.1-20.9 5.4-4.8-2.5 7 9.3-8.5 3.2 .1 3-15.5 .4-1.3 5.4-10.2 4.4-7.1 3.1-6.1 1.8-3.4 7.4-6.5 2.8-8.4 .5 3.8 6.5-9.9-2.2-11.2 5.8-18.9 5.4 10.2 .8-12.3 1.4-.9 4-5.7 1.5-3.1 1.8 1 2.1-21 4.1 19.1 2.1-9.3 3.2-8.4 0-4.8 4.4 2.7 3.4-7.8-.9 5.5 6.3-12.8-2.7-7.2 1.9-5.7 2 3.1 .5 2 .9-14.6 2.3 9.1 3.2-5.3 .3-8.7 5.8 5.1-2-17.6 .7-4.8 .9 6.3 2.5-5.1-.3-5.6 .9-7.1 1.4-11.7 1.8 5.8-4.4-8.3 3.4 2.7-1-6.3 .7-9.4-1.5 6.5 2.6-.8 .1-1.4-.4-8.5-2.1-2.3 2.9 9-3.2 2 .6"/>
<path stroke="#000" stroke-linecap="round" stroke-width="4.0" fill="none" d="M397.4 73.5v10.2M397.4 1120.5v-10.2M562 73.5v20.4M562 1120.5v-20.4M726.7 73.5v10.2M726.7 1120.5v-10.2M891.3 73.5v20.4M891.3 1120.5v-20.4M1056 73.5v10.2M1056 1120.5v-10.2M1220.7 73.5v20.4M1220.7 1120.5v-20.4M1385.3 73.5v10.2M1385.3 1120.5v-10.2M232.7 248h10.2M1550 248h-10.2M232.7 422.5h20.4M1550 422.5h-20.4M232.7 597h10.2M1550 597h-10.2M232.7 771.5h20.4M1550 771.5h-20.4M232.7 946h10.2M1550 946h-10.2"/>
<rect x="232.7" y="73.5" width="1317.3" height="1047" fill="none" stroke="#000" stroke-width="4.2"/>
<rect x="1114.9" y="807.6" width="346.8" height="301.7" fill="#fff" stroke="#000" stroke-width="1.8"/>
<line x1="1131.3" y1="850.4" x2="1258.3" y2="850.4" stroke="#000" stroke-width="2"/>
<text transform="translate(1274.4 871.4) scale(1 1.05)" font-size="56.5">0.01Hz</text>
<line x1="1131.3" y1="925" x2="1258.3" y2="925" stroke="#f00" stroke-width="2"/>
<text transform="translate(1274.4 946) scale(1 1.05)" font-size="56.5">0.02Hz</text>
<line x1="1131.3" y1="999.9" x2="1258.3" y2="999.9" stroke="#0f0" stroke-width="2"/>
<text transform="translate(1274.4 1020.9) scale(1 1.05)" font-size="56.5">0.05Hz</text>
<line x1="1131.3" y1="1074.9" x2="1258.3" y2="1074.9" stroke="#00f" stroke-width="2"/>
<text transform="translate(1274.4 1095.9) scale(1 1.05)" font-size="56.5">0.1Hz</text>
<text transform="translate(210.5 87.8) scale(1 1.055)" font-size="48.2" text-anchor="end">5000</text>
<text transform="translate(210.5 436.8) scale(1 1.055)" font-size="48.2" text-anchor="end">4000</text>
<text transform="translate(210.5 785.8) scale(1 1.055)" font-size="48.2" text-anchor="end">3000</text>
<text transform="translate(210.5 1134.8) scale(1 1.055)" font-size="48.2" text-anchor="end">2000</text>
<text transform="translate(232.7 1184) scale(1 1.0)" font-size="48.2" text-anchor="middle">3.8</text>
<text transform="translate(562 1184) scale(1 1.0)" font-size="48.2" text-anchor="middle">4.3</text>
<text transform="translate(891.3 1184) scale(1 1.0)" font-size="48.2" text-anchor="middle">4.8</text>
<text transform="translate(1220.7 1184) scale(1 1.0)" font-size="48.2" text-anchor="middle">5.3</text>
<text transform="translate(1550 1184) scale(1 1.0)" font-size="48.2" text-anchor="middle">5.8</text>
<g><text transform="translate(892.5 1236.2) scale(1 1.07)" font-size="61.7" text-anchor="middle">Displacement (mm)</text></g>
<text transform="translate(97.3 610.3) rotate(-90) scale(1 0.97)" font-size="66.0" text-anchor="middle">Force (kN)</text>
<text class="s" transform="translate(815.4 1337.7) scale(0.94 1)" font-size="85" text-anchor="middle">(<tspan font-weight="bold">a</tspan>)</text>
</g>
<g id="chart-b">
<path stroke="#bcbcbc" stroke-width="1.15" d="M440.3 1401V2424.6M880.2 1401V2424.6M1320.1 1401V2424.6M220.4 1571.6H1540M220.4 1912.8H1540M220.4 2254H1540"/>
<path stroke="#7f7f7f" stroke-width="1.9" d="M660.3 1401V2424.6M1100.1 1401V2424.6M220.4 1742.2H1540M220.4 2083.4H1540"/>
<path class="c" stroke="#f00" stroke-width="1.7" d="M354.3 2294.1l.4-.1-.2 0 1.3 .2 4-.8-5.8 1.3 4.9-.6 .6 0-3-.4-5.7 0 7.3 .9 1.5-1.6 1.8 1-2.4-.6 1.4-.5-8 1.1 3.5-.8-1.6 .7 1.2-.6 1.5-.9 1.2 .9-2.8-.6 4.1 .3-1.6-.1-1 .3-.1-.3 5.4-.3-3.4-.2-1.9-.5 0-.5 5.4 1-4.5-.8 4.9 .3-.8 .4-7 0 7.1-.2-2.8-.4-1.5 0 1.2-.2 2.2-.2-.2-.8 .3 .5-2 .2 3.9-.6 .6-.1 .8-1.4-1.4 .5 1.9 1.5 .6-1.8-2.4 .5 .5 .2-.4-.3 .2-.6 .8-.3-13.2-.8 11.3 1.2 1.8-1-4.7 .3 1.5-1.5 6-.4-4.8-.2 1.4 1.1 1.8-.8-5.6-.2 3.8 0 .9-.3-3.7-.2 4.1-.7-.3-.3 5 .2-2.1 .2 2.7-1-1.4 0 .5-.4-.2 .1-1.4-1.1 1.7 1.2-1.6-.3-.7-1.1 3.8-.4 0-1.1-.1 1-1.4-.7-3.6-.2 8.1-1.2-2.6 .8-3.7 .2 5.8-1.7-2.3 .1 3 .4-1.1-.6 2.7-.3-1.4 .8 .5-1.2 .1-.9 2.4-1.8-4.4 .9 5.1-.9-.5-.3-2 .8 1.4-1.5-.4 .1 1.3 .4 2.1-1.4-2.6-.3 3.1-.7 1.3 0-.7-1 2.2 .5-2.7-.8 1.9 .1 3.8-.3-4.2-.7 .1-.3 .7-.7 1.6 0-1.8-.2 1.1-.7-2.4 .1 1.8-1 .5-.6 .2-.2 1.8-1.4 2.6 .1-1.5-1.2-1.3 .6 3.4-.1-1.7-1.5-.5-.2 1.3-.4-6 .3 7.7-.8 .3 0 3.4-.8-2.6-.5 1.5-1.7 1.4-.6 2.2 1.1 .8 0-9.8-2.2 10.8-.4-1.1 .6 2.2-.1 .3-2.1-2.5-.3 1.6 .3-.1-.8 1.8-.5 3-.3-2.5-1.5-.8-.5 6.7 .7-12.2-2.1 8.5 .6 .6-1.2-1.9 .4 4.5-1.3 1.1-.6-1.5 .1 .8-1.2 .2-.5-2.5-1.8 4.5 .9-2.3-.9 1.2 0 3.2-1.3 1.6-1-2.8 .7 4.5-1.3 1.9-.7-2.4-1.1 .2 .7 1.3-.8-.5-1.5-.1 .2 3.5-.7 .9-.3-1.6-1.2 .9 .4-4.5-2.6 5.4-.4 .2 .5-.3-.6 5.3-.8-1.6 .3 1.5-1.6 4.1-1.6-3.6 .9 2.8-1.4-3-.8 2.2-.2 3.3-.7-1.1-1.1-1.5-.1 .6-.9 4.4-.9-1.7-.7 3.9-1.6 0-.1-.3-.7 1.2-.5 2.4 .3-.6-1.5-1.1-.9 3.3-1.2-.5-.2 1.1-1 2.4-.8 .3-.2 2.2-1.5-1.5-.3 .4 .1 1-1.1 2.3-1.2-1.5-.6 1.8-.8-.1 .2 1-.7 2-.6 5.9-1.7-4.5-.7 2.1-.2 .6-1.8 .3-.4 1.3 0 8.7-1.5-7.4-.9 4.5-.1-1-1.2-2-.9 1.3-.4 1.3-1.7-.3 .4 5.3-1-.5-.7 1.1-.9-2.1-.5 3.9-2-1 .1 6.7-.1-4-1.9 1.7-.9 1.2-.7-.8-1.2 1.1 1.2 1-2.3 3.4-.3-2.1-1.7 2.1-.7 .2-.9 1.4-1.1-.7-.3 1.5 0 2.7-1.7-6.2 .1 11.4-.4-.7-1.5 1.1-.4-.8-.8 4.3-1.7-.6-.8 0-1.4 1.9-.2 7.3 0-4.8-1.3-5.4-1 11.4-1 .1-1-.6-.6 4.6 .5-4.5-1.3-1.5-1.4 3.6-1.1 7.4-1-1.4 0 6.4-1.6-3-.8 1.2-.8-2-.1 1.2-1.4 2.7-.1 4.1-2.1-2.8-.9-1.5-1.1 8-.2 1.3-1.5-2.5-.6 4.1 .1 2.7-1.3 1.4-1.3-4.5-.9 4.7-2.4-.5-.4 4.9 .5-.5-1.8-1.5-.8 4.1-.1 2.3-2-3.2-.2 1.7-1.1 2.7-.7 2.1-1-5 0 4.4-1.4 1.8-.5 4.7-2.1 2.3-.6-1.5-.7 .7-.3 8-1.3-3.2-1.5 .9-1.5 .8-.3 4-1.5-1.7-.9 4.1-.7 .1-.9 3.2-1 1.4-.1 .2-1.5 4.4-1.4-4.7-.5 6.6-1.7-.5 0 3.7-.8 3.9-1-2.8-1.8 .9 .1-1.7-1 8.3-.5 4.8-1.6-4.7-1.2 2.6-1.1 4.2-1.2-1.5-1.1-3.2-.8 3-.2 2.5-1.5 3.7-.9-.5-1.1 6.3-.6-2.7-.7 6.6-1-9.8-1.8 12.8-.5-1.1 .2 4.8-1.8 3-1.2 1.3-1.2 0-1.5-2.6-1.1 1.6-.3-4.1-.7 16.4-1.4-1.9-.7 1.1-.6-3.6-1 11.5-.7-6.8-2.2 5.6-.2-4.4-.8 4.3-1.2 6.4-1.7 1.3-1.1-3.6 .6 4.3-2.1 4.9-.5-5.8-1.5 8.5-1.1-4.2-.4 7.4-.7-.5-1.5 5.1-1.1-2.1-.4 2.2-1.5 1.8-1 .2-1.2 3.6-.6-.2-1.2 3-1.1 5.2-1-.9-.8 5.6-.5 .5-1.7 2.6-1.3-3.6 .4 6.1-1.5 4.7-1.8 .4-1.6 2.7 .4 2.7-2-6.6-.7 7.7-2.2 .6 .6 1-.9-1.3-1.6 6-1.1 1-.9 7.8-1.6 .1-1-3 0 0-1.7 2.4-.8 4.2-1.1-.1-.6 9.8-1.4-7.4-.8 5.1-.9 2.6-1.7 2.7-.8-2.1-.8 4-.8 3.1-1.3 2.3-1-.8-1.7 2.8-.8 3.4-.6 7-1.4-7.4-.9 7.3-1 4.8-.4-7.2-2.2 10.6-.2 5.4-1.1-5.9-1.3 4.6-1.5 3.5-.7-3.1-1.3 3-.5-2.2-1.4 3.1-1 4.2-1.6 1.4 0 7.3-2.6-3.9 1-1.3-2.7 8.5-.9 2-1 .3-1.6 .1 .1-.2-1.9 2.3-1.1 8.9-.2-.5-1.3-.3-2.1 2.9-1-.6-.4 0-1 3.3-.8 3.3-1.4-3.4-.4 2.5-1.2-13.8-1.4 13.8-1.2 12.5-.6-4.7-.9 2.5-1.6 .3-1.3 5.7-.7-.7-1.6 2.5-.7 1.5-.9 13.4-2-6.2-.9-9.1-1.6 11.5-.5 6.5-.6 2.2-1.5-.6-.7-6-1.2 12.3-1.5 2.2-.1 .8-1.8 .8-.5 .5-1.4 5.8-1.3-3.5-.3 6.7-2-3.6-1.2 2.2-.2 1.7-1.5 1.4-1.7 2.1-.9 6.5-1.5 4.8-.2-6.5-.8-11.4-1.4 22.4-1-4-.8 4.2-1.6 1.4-1.6 4.7-1-4.9-.6 9.6-1.2 .6-1.1-9.4-1.7 9.6-.5-6.9-.4 12.9-1.8 .2-.5-.8-1.5 3.5-1.4 4.6-.4 .8-.8 1.1-1.6 11.3-.8-4.7-1.9-4.6-1.4 2.1-1.4 7.5-.2-3.3-.4 6.3-2-1.9-1.5-3.6-.4 12.2-1.2 3.1-1.1 1.9-1.5-1.2 .1-10-2.1 15.4-.9 2.7-1.8 3.9-.1 3.5-.5-.3-1.4-3.9-2.2 3.9-.2-3.7-2 10.6-.7 1.2-1.1 7.6-.6-4.3-1.2 6.4-1.5-7.7-1 6.1-.3-.6-2.5 1.9-.7-4.8 .2 6.1-2-3.5-1.6 8.9-.4 .2-.9 5.4-2-6.7-.7 7.4-1.2 2.9-.5-7.2-1.3 19.1-1.5-3.3-.4-3.7-1.7 13.5 .1-.6-1.5-15.1-1.8 11.4-.8 .3-.7 4.8-1.4-2.7-1.8 4.9-.9 3.3-1.1-9.9-1 13.7-1.8 7.6 .1-4 .2 6.5-2.6 3.8-1.1-4.1-1.2 2.3-.7 1.9-1.7-2-.9 14.3-.7-6.7-2.4 2.4-.3 5 0 2.9-1.4-29.7-1.4 21.5-1 7.4-2.4 3.5 .4-6.4-1.5 1-.3 12-1.5 1.6-.9-3.1-2.1-7.7-1.1 9.5 .7-.9-2.2 3.2-1.1 6.8-.2 .1-1.4 7.4-1.1-9.5-.5-.1-1.7 12.9-1.4-5.7-1.1 4.8-1.9 3.4-.1-4.6-1 .3-1.3 5.4 .4-7.9-2.7 18.5-.8-10.3-1.1 15.5-.9 .1-.3 2.1-1.5 .4-.4 4.2 0-5.2-2.3 13.8-1.1-1-.8 3.9-.1-1.5-1.5 .9-1.1 7.7-1.4 1.7-1.1-2.1 .1-6-1.2-14.1-2.2 18.2-1.1 12.8-.9-1.6-1-.7-.4 .4-.8-1.6-1.7 9.9-1.5-8.4-.1 2.6-.8 10.7-2.5 .4-.2-2.2-1.6-25.1-1.1 21.7-1 13 .1-1-1.5 7.6-1.6-9.2-.7 3.7-.8-3.2-1.9 15.9 0-16.9-1.8 14.3-.9 7.1 .1-12.7-3.4-1.2 1.1 3.9-.9-22.9-1.7 33.5-.3-.9-1.5-3.1-1.4 5.1-.5 11.6-1.4-8.4-.9 .6-1.3 14.9 .8-14.7-1.8 3.9-1.6 12.6-1.7-6.7-.7-9.7-.9 7.4-1.2-6.5-.5 10.7-1 7-.1-10-1.1 20-2.3-.2 .4-1.2-2.2-7.6 0 5.9-1.4 4.5-1 3.8-.9 3.3-1.4-50.5-1.3 41.6 .6-1.3-2.6 6.3 .1 4.7-1.8 13.9-.3-13-1.1 7.5-.9-3.4-1.4 .5-.4 12.1-.2-15.9-1.5 12.2-.7 9.9-1.8 9.7-.9-22.6-.3-1.2-2.2-.7 .4 6.5-1.5 3.9-1 1.4-.1 8.3-2.1-7.6 .2 5.2-2.2-10.9-1 7.5 .2 4.5-.8-12.5-2.2 9.1-.2 13.8 0-3.7-1.8 2.2-1.6-.1-.4-6.2-.8 9.1-1-2.5-1.3 5.4-.7 1.2-.4 1.6-.7-32.3-1.3 33.7-.6 12.8-1-3.9-1.8-6.2 .7-1.9-1 12.3-1.5-5.1-1-10.2-.8 9.7-.8 15-.6-20.6-.8 12.6-1.4-4.2-1.3 5.7-.9-1.1 .5-1.8-1.8-9.9-1.3 16.6-1.4 2.8 .5 .1-1.2-5-.8 4.2-1.4 19.8-.6-20.9-.9 6.5-.5-5 .1 8-2.1 4.3-1.1 7.6 .2-5.4-.9-.3-1.5 3.6-.5 2.5-1.3-2.9 .6 1.3-1.6 9.5-1.8-11.9 .5 5.4-.8-4.5-2 3.8-.1 14.7-.8-13.7-1.6 5.2-.9 16.2 1.6-9.7-2.8-3.6 .1-3.1-.7-10.9-.7 11.9-.8-20.7-1.2 36-1.2-.7-1-12.7 .1 14.3-1.5-7.6 .2 18.1-1.3 6.5-.1-12.2-2.2-6.3 1 16.1-1.8-5-.3 3.1-1.7-3.2 .3-4.5-1 8.3-.3-10.3-1 12.4 0-3.3-2.6-12-.1 16-1.2-2.8-.1-1.5-.2 3.1-.8 6.9-1.5-12.5-1.1-22.3 0 37.4-.4-3-1.8-12.7 .1 14-1.1-12-.1 17.9-1.3-8.8 .2 9.1-1.5-13.5-.3 6.1 .9 12.6-4.5-15.3 1.3 14.6-.6-4.4-.4 3.4-.6-6.1-.8 11.1-1.1-.6-.4 4.2-.3 12.7-1.7-18.5 .6 3-1.2-7.2 .1 21.2-1.5-14.2-.2 9.1-1-13 0 7.4-.5 7.1-1.5 .1 0-4.6-1 9.5-.2-4.8-1.2 7.8-.6-8.6-.2 7.4-.3-7.3-1 13.7-.5-8.5-1 1.3 .1-3.8-1.1 12.6-1-5.5 .7-2-2 12.3 .7-14.6-1.1 13.7-.4 4.7 .3-23.2-1.9 20.3-.8-1.9-.7-1.8 .1 2 0-11-1.2 13.6-.5-8.7-.4-4.6-.8 10.4-.2-6.9-1.3 10.5-1-6.6 .2-1-.5-1.6 .4-10.7-.9 19.7-1.3 2.2 .7 15.5-.7 4.1-1.2-27 .9 18.5-1.5-7.6-.9-14.1-.2 15.5 0 1.9-.7 1.3-1.2 7.7 1 4.2-1.4-6.2-.8-1.6-.1 4.8-.3-.5 .3 11.4-.5-43.9-2.1 21.1 .3 9.1-.2 5-.4-3.3 0 4-.6-20.6-1.3-7.4 1 23.1-.9-4.5-1.7 6.2 1 3.4-.8 5.3-1.2-9.3 .3-4.9-.1 16.1-.6 12.1-.9-12.7-.1 .4-.4-7.7-.5 9.6 .1 10.9-1.1-64.6 .2 63-.2-61.6-.1 72.9-.6-12.3-.8-7.9-.4 5.1-.4 10.9 .8-19.9-1.4 17.5-.6-3.9-.1-3.7 .3 11.3-.2-22.5-1.6 11.9 1-7.5-.9 9.1 .6 4.9-.4-15.5-1.4 14.6-.5 .7-.3-6 0 4.4 .1 9.3-.3-5.2-.2 10.4-.2-19.4-.7-1-.1 18.8-.1-18.4 .1 19.7-.9-8.7-.5 5.7 .5-23-.5 26.8-.2 2.7-.5-.4 0-4.9-.6-13-.5 17.6 .3-6-1.1 9.6 .8-20.7 .5 15.1-1.7-6.2-.1 3.5 .4 7.2-.8 .1 .4 4.9-.5-6.7-.4 1 .5-1.3-.9-10.5-.2 16.9-.6-13.7 .8 2.6-.5 7.4-.4-7.9 .5 1.9-.6-14.7 .4 12.3-.3-1.5-.7 3.9-.3 8.9 .9-5.7-.9 1.3-.4 2.1 .1 7-.9 .8 .8-4.6-.9-4.6 .8 8.7-.7-8.6 .3-11.9 .6 16.9-.3-5.6-.9-29.5 .2 24.4-.8 7.1 .6-3.6 .4 11.1-.3-10.3 0 7.5-.4-1.1-.9-3.3 .5 22.1-.6-23.9 .9-.5-.6 7.3-.2 10.6-.3-14 .5 12.8 .1-40.4-.1 27.9-1.1 1.6 1.1-.4-.6 2.4-.9-1 1.4-.6-.3-5.7-.9 11 1.2-3.2-.2 1.6 .6 7-.6-4.9-.2-1.9-1 8.7 2-13.6-1.9-8.2 .6 15.2 1-7.6 1.6-19.9-.3 19.2-.6-1 1.3 11.6-1.7-9.1 .1 12.3 1.4-3.8-.8 .8 .1-3.1 .2 12.7 .1-9.5 .7-.4-.4-7.9 .2-3 .4-7.6-.1-4.9-.5 5.9-.4 14.9 .1-11.3 .6 4.2 .3-1.9-.3 3.6 .8 3.8-.1 8.5-1-22 .7 26.3 .1-17.9 .3-4.1-.5 2.3 .3 13.3-.4-6.6 .7 6.9 0-13.9 1.1 14.3 0-24.6 .5 17.7-.4-9.2-.5 2.7 1.3-2.1-1 12 1-1.2 .3-31.7-.2 26.4-.2-.3 .4-39.4-.1 29.3 .7 18-.2-11.5 .8 9.3-.5-.6-.5-26.2 1.4 30.5 0-21.6 1 6.2 .6 3.1-.5 4.5-.4 0-.5-5.8 2.1 .7-1 4.9 1.3 3.7-1.6-10.2 2.2 7.2-.9-.7 .9-29.1-.3 22.7 .7 1.4 .5 19.2-.5-21.9 .8 10.3-.4-.1 .3-11.3 .6 8.6 .8-16.1 .5 1.6 0 14.1 .9-23 .1 21.6-1.3 2.7 .8 11.2 1.2-17.1 .3 1.4 .7-18 0 27.8-.4-10.8 .7-4.5 .7 11.7 .4-7 .6-5.9 .4-1.1 .6 11.7-.3 2.4 .5-7.6 .5-1.2-.6 17.9 .6-20 1.1-4.8 1.1 12.9-.8-10.2 1-6.1 .2 13.2 .4-5.6 .8 17.2 .1-10.7 0 4.9 1.2 2.1 .4-5.4 0 3.3-.3-17.2 1.5 1.4-.9 6.1 1.7 9 .1-3.9 .5 1.2 .5 1.9 1.2-8.9-.3-4.7 1.5-.6-.8 17.5 .4-24.5 1.4 1.7 0 13.3 .8-11.5 0 12.1 .5-11.4 .6 5.4 .5-6.9 .3 10.7-.1-1.6 .4 8.8 2.1-7.4-.7-.9 .3-11.4 .8 3.6 .3-2.6 .8-9.5 .2-27 1 38-.5 3.4 1.7 10.5 1-19.6-.7-5.9 1.3 16.3 1-9-.2-3.6 0 2 2.2-14.8-.1 16.9 .1 1.8 0-12.4 .2 5.4 1 2.6 1.8 9.5-.8-15.7 1.8 22.5-.1-16.7 .6 2 .5 19.9 .5-20.5 1.5-5.7-.9 4.7 .8-12.6 1.7 20.1 .1-10.2 .6-1.3 .9-5.9-.4 7.6 1.4 3.7-.3-28.2 1.1 9.2 .6 15.3 1-9 1 2.7 .6-9 .1 .3 .7 17.6 1.4-6.4-.8 1 1.4-29.1 1.4 25.1-.3 .9 .8 .2 1-9.2 1.6 12.4 .6 1 .1-19.8 .9-55.8-.4 64.7 .9 1.9 .4 3.4 1-9.5 1.3 8 .6-19.1 .6 13.1 1.1-13.3 .2 17.3 .8 5 1.4 .8 .6-19.3 .6 13.5 0-9 .6 4.5 2.2-24-.1 26.7 .6-9.2 1.6-.4-.2 3.1 1.2-10.6 0 1.6 1-14 2 22.9-.1-7.7 .2 5.2 1.7 1.4 .1-7.7 .6 8.5 1.7-22.4 .6 13.4 .5 5.2 1-9.6 .4 5.8 1.7-5.2 .5 9.9-.1 .6 1.7-13.9-.3 1.3 .9 4.7 1.2-21.1 .1 20.2 1.8-3.4 1.1 2.5 .6-10.6 1 10.1 1 4.9 .3-17.2 2.5 11.7-.3-1.7 .7 2.3 .4-20.9 1 14.2 .7-2.5 1 7.4-.4 .7 2.3-27.9 0 15.1 1.2 7.7 1.1 0 1-1.1 .9-11.5 .9 2.3 .9 5.4 .6 2.5 1.1-5.4 .8-10-.2-17.1 1.7 17.8 1.4-13.5-.4 14.4 1.8 3.7-.3-.1 .9 10.5 1.5-16.3 .9 2 .2 8.2 1.7-6.5 .6-12.7 .8 9.1 .7-16 .5 13.9 1.5-.5 .8-11.2 .4 10.5 1.4-5.7 .4-8.2 1.5 9.1 .4-11.7 .7 4.3 1.1-11.2 1.3 17.7 1.6-12.5-.5-4.2 1.5 2.9 .4 13.9 .9-.4 1.1-13.8 .9-23.7 2.1 22.6 .3-1.8 .5 .9 .9-3.3 1.4-2.9 .9-12.3 .6 3.9 1.1 6.6 2-8.5-.4 1.4 1.7 12.8-.8-8.3 2.5-.8 1.2-.9 1-4 .4-1.2 1 1.9 2.3 4.2-.5-4 1.1 .4 1.6 7.7 1.5-8.1-.6 3.6 1.8-3.9 1.2 3 1.9-14.2 .1-2.8 .6 13 .8-10.9 1.9 8.4 .8-44.3 1 54.3 1-18.2 .4 14.3 1.8-18.3 .5-.9 1.3-13.5 1 17.4 .6-3.8 .7-4 1.3 5.5 1.3-9 1.6 9.1 .5-3.4 .4-1.8 1.6-7.4 .8-1.4 1.5 12.5 .9-17 .6 6.8 1.6-1.7 .5-13.2 1.2 1.6 .6 7.1 1.1-2.8 2.6-3.5 0 12.5 1 7.2 .2-29.3 2.1 13.8 .5-12.8 .5 14.2 2-7.7 1.4 3.6 .9-.6 .8-9.8 .9 4.8 1.2-6.8 .3-2.7 2.2 1.2-.3-11.7 1.4 1.7 1.1-6.8 .5-2.2 1.7 13.3 .9 4.6 .7-5.6 1-8.4 2 18.4-.6-14.3 2 3.7 1.5-11.5 1.1 3.6 .7-30.8 .3 22.2 1.6-7.8 .7 8.4 1-5.7 1.8-4 .3 9.5 2.1-7.3-.2-1.3 1.9 1.7 1.2-7.8 .8 3.8 2-14-.1 8.4 1.5 .7 1.5 4.3 1.1-4.7 .5-3.9 1.6-5.3 1 7.2 1.4 2.7-.3-9.3 2.2-8.1 .6 20.3 1.2-14.7 1.1 9.8 1.1-23 1.5-1 1.2 2.1 .9 .6 1-15.2 1.4 4.5-.2 10.3 2.2-6.6 1.3 5.9 1.2-6.1 1.3-4.6 .8 3.4 1-.5 .9-7.9 1.3 3.7 .5 2.4 1.7-2.1 .7-4.4 .1-.2 2.2 .9 .6-.8 2-3.5 1 8.4 1.2-7.3 .2 4.5 2-2.6 .9-16.6 .5 18.6 1.3-23.5 1.5 10.6 .8-7.1 1.6 .5 .9 5.7 2-1.4 .7-3.9 1.1-22.1 .7 18.1 1.5-4.3 .9-1.7 .2-5.6 2 .5 1.2 6.7 .6-11.2 1.7-3.7 1 8.6 .2-2 1.9-18.1 2 21.5 .1-8.3 1-.9 1.1-18.5 2.1 15.1 .3 4 1.2-14.5 1.3 9.4 1.6-7.4 .4-1.9 1.2-1.9 .9-7 2.3-5.8 0-.3 1.8 15.3 .4-5.8 1.1-12.1 1.8 11.5 1.6-2.5 .6-5.9 .8 4 1.8-1.4 .8-2.9 .9 3 1.4-12 1.4 4 1.9 6.6-.1 1.2 1.6-11.6 1.5 7.1 .9-12.8 .6-7 2.1 10.3 .5 1.6 1.6-10.7 .9 10.5 .4-19.2 2.2 .6 1.3 1.2-.3 1 1.5 .1 1.5-.7 1.4 1.6 1.2-9.5 .4 .2 2.3 9.4 .4-11.7 .4 2.9 1.6-4.9 2.1-3.5-.1-.7 1.2-7.1 .8 3.1 1.1 .5 1.1-4.5 2-4.9 .7-16.1 1.5 12.9 .2 6.7 1.7-7 .2-21.1 1.2 22 1.4-11.5 1.5 5.1 0-6.9 1.8-9 .2 4.8 1.4-4 1.6 .1 .6-1.6 1.7-3.7 1.5 1.7 .6-3.2 2.3-6.9 .2 5.6 .6-6.2 .6-1.3 2.1 .1 .9-3.6 .9-3 .8 .8 1.7 1.9 .5-2.7 2-10.2 1.1 4 .8 2.6 1.1 .3 1-9.3 .9-1.8 .8 .2 1.4-7.4-.7 5.1 3-6.7 1.2-4.2-.1 11 2.5-3.5 .6-5.9 1.1-8.5 0 6.4 1.2-6.1 1.7 1.1 1.5-4.4 1.2-4.8 .6-4.5 1.2 4.3 1.1-.9 .7 5.4 1.3-18.3 .7 14.5 1.3-1.1 1.9-11.2-.1-4.3 .7 5.7 1.3-14.4 1.4 4.3 1 3.3 .4 1.2 1.3-5.5 1.7-4.9 .8-2.5 .5-.9 2.2 1.6 1.3-15.4 .1 6.3 .8-.5 2.1-4.7 1-.2 .7 3.4 1.4-8 .6-2.4 .8 5.1 1.2-7.6 .6-3.8 1.5-5.9 1.2 2.9 .4-7.4 1.3 2.4 .7 2 1.5-6.4 1.3-.2 1.2 .8 .2 0 1.3 1.1 1.5-3.5 .2-4.7 1.6-2.7 .8-3.9-.3-4.6 1.2-9.9 2.4 9.8 .2-6.3 1.9 5.7 1-12 1.1-3.6 .5 2.9 .5 4.4 1.7-7.2 .6-2.4 1.4 3.6 .7-6.6 1.2 .4 .7-4.7 2.4-.9-1 29.5 .9-39.4 2.1 10.3 .6-15.3 .8-1.3 1 10.6 1.5-7.6 .7-1.2 1.6 1.3 1.1-6.9 .7-6.3 1.7 5 .3-5.1 .1 6.8 2-6.8 1.5-.5 .4-9.1 1.2 3.8 0-1.3 1.8-.4 .6-8.4 .2 4.4 1.1 .3 1.5-6.8 1-2.5 1 1.7 1.5-.1 1.1-6.2 .4 2.5 1.4 1.1 1.1-6.3 .5-3.7 1.8 1.4-.4 .4 1.1-2.4 1.6-5.7 .3-.1 1.5-6.4 1.4 .4 .3-11 1 4.9 .9 0 .9-3.5 0-.1 .8-2 1.9-17.3 .5 3.7 1.7 8.4 .4-3.5 1.3 5.1 1.2-.2-.1-6.5 2-3.4 .4-1.7 1.4-7.7-.3 1.5 2.5-6.8 .2 5.8 1.6-.4-.4-4 1.8-3 .6-3.4 1.1 1.6 .6-6.8 2 5.1 .6-9-.3-2.7 2 2 .5 0 1.1-4.7 0-.3 2.6-.3 .1-4.9 .7 3.2-.1-5.1 2.1 .4 .7-5.3 1.2-5.1 .7 5-.2-.7 2-15.6 1.4 9.1 0-5.3 .2-2.4 .9 6.6 .7-1.2 1.7-7.8 .8 5.2 .5-8.6 1.4 1.4 .9-3.1 .3-1.5 .9-9.2 1.3 9.6 .4-8.4 2.2-5.1-.9 7.2 1.1-8.2 1.3 1.6-.1-1.8 1.1-1.9 1.3-4.4 .9 2.7 .3-6.3 1 1.6 1.4 3 1-10.3 .2-1.1 .7 2.5 1.4-5.8 .1-.2 1.6 1 1-4.1-.1-.2 1.6-9.4 .7 6.5 .2 1.4 1.4-9.5 .1 3.1 1.8 2-.4-3.6 1.6-2.4 .3-1.3-.3-3.7 1.8 2.2 .3 .5 1.5-5.5 .4-3.5 .8 2.3 .9-2.6 1.1-2.7 .4-4.3 .6-7.1 1 1.5 1.9 4.4-.3-6.9 .7-2.3 .2-.8 1.2 1.2 1.1-.1-.3-2.7 .7 5.2 1.6-16.2-.6 8.9 1.3-6 1.3 1.3 .4-10.5 .3 4.4 2.1 5.9 .2-10.1 0 7 .9-8.7 .2-.4 .8-6 1-2.4 1.5 7.2-.3-3.3 .8-5.7 1.3-1.9 0-.5 1.5 .7 .7-1.2 0-3 1-3-.4-1.5 1.8-.9-.7-1.9 2.1-1.8 .1-4.9 .5 .3 2.3-1.9-.4 1.5 1.2-6.3-.5 3 .3-2.5 1.6-4.7 .1 1.5 1.3-2.2 .1 .7 .5-4.3 1.4 1.4-.2-5.7 .4 2.1 1.6-2.6 .1-2.8 .8-3.6-.3-2.4 1.2 7.5-.7-9 2.2 3.5 .1-5-.1 .8 1.2-1.1 .7-8.4 .7 5.7 .8-5 .5 2.9 .7-.6-.2-11.2 .9 6.2 1-1.1 1-1.6 .8-1.4-.6-2.6 1.1-.2 .2-3.1 2.3-1.4-1.5 1.6 .4-4 1.3-1.2 .1-1.4 1 1.9 .7-5.8 .3 4.3 1.1 .5 .5-5.9 .1-.1 .2 1.5 1.6-5.8-.5-1.5 .6 1.6 .9-2.7 .3 3.9-.1-8.9 1.7-2.4-.3 3 1-2.1 .4-3.6 .8 3.7 .4-2.7-.1 3.4 1.4-9.4 .3-.6 .3 1.5-.3-1.8 1.6 3.1 .5-3.8 .1 .7 1-5.4 1 1.7-.9-1.3 .3-.5 1.2-1.6 0-1.6 .2 12.1 .1-13.5 1.4-1 1.1-2.6-.8 0 1.7 0-.9-11.1 1.3 11.4 .6-4.2-.5 1.7 .3-6.1 1 3.3 1-5.6-.2 3 .4 .2 .2 1.3 .8-8.4 .2 4 1.3 .3 0-6-.2-1.7-.3-6 1.3 7.5 .6-3.2-.2-9.1 .7 10.9 .1-1.9 .5-2.4 .8 .6 .3-5 0 1.6 .7 .6 .6-.5-.2-3.5-.1 2.3 .7-15.3 .6 11.5 .8-1.5-.9 3.8 1 1.3 1.1-4.9-.2-5.2 .4-.3-.3 4.2 .5 1.3 .3-5.3 1.8 .9 .2-4-.4-1-.3 4.2 .7 .4-.7-3.3 1.6-1.1 .5-1 .4-1.7 0-.7 .3 2.6-.7-2.5 1.6-1 0-.8 .2-3.1-.8 .3 1.3 .8-.2-2.4 .4-2.5 .4 3.6 .1-1.4 .6-8.3-.7 2.5 .6 4.7 .7-1.9 .2 .5-.4-1.4 1.7 .2-.7-1.2-.5-.2 .8 .2 .9-.4-.9 .7 .9-.5-.7-4.2 1.6-3.9-.3 3.1-.5 2 1.2-4.9 .5 .3-.7-2.4 .6 1.6-.3 1.2 .6 .1 .5-2.7-.2-2.1 .1 4.4 .9-6.3-1 6.8 1.1-3.8-.4-1.4 .5-1.4 0 1.5 .7-2.4-.4 2.2 .3-2.3-.4 1.9-.7-3.2 1.3-8.1 .6 6.4-.8 7.1 .8-4.9-.5-.6 1.1 3-.2-5.2-1 2.7 1.2-1-.1-.3-.5 .6-.2-.8 .8 5.7 1.2-8.7 0-1.8-1.2 3.1 .1-2.6 .3 3.3-.5-2.8 2.1 2.4-1.1 1.6 .3-3.8 .2-.7-.6-4.4 .2 4.6 0-7.1 .5 7.8 .4 .4-1.2-10.3 1.4 12.4 0-5.4 .1 1.1-1 0-.5-2.2 .3 4.9 .4-7.9 1.3 3.2-1-2-.4 3 .6 2-.8-.6 .2-4.3 .5-1.6 1 3.4-.7 0-.9-45 .6"/>
<path class="c" stroke="#000" stroke-width="1.7" d="M376.5 2293.2l1.7 0-4.9-.5 5.2-.1-2.6 .2-1.1 0 0 .7-.4-.3 1.3-.2 1.6-.5-.4 1.2 .1-.4-3.4 .4-5-1 9.8 1.5-.9-.9 1.9 0-1.5 0-3.3-.3 3.5-.9-1 0-.6 1.3-1.5 0 1.3-1-.2 .1 1.5 .8-1.1-.6 2.2-.3-3.5-.2 1.9-.7 .1 .8-2 .2-.5-.1 3.3 .3-.7-.9-1 1.3 .9-.1-1.6-1.3 1.4-.5-1.2 .8 1.2 0 1.3 .9-2-1 1.8 .1-2.7-.7 1.1 .1-1.5 1 1.9-1.6 .3 .8-.4-.1 0 1 2.4 .8 .2-1.2-3.9-1.6 3.6 1.3-4.2 .4 1.5-1.1 .9 .9 .5-.3-1.7-.4 .5-1.3 1.3 .6-1.1 1.3 .1-.1 2-1.3 .5 .8-1.4-1.2 .1 .6 .1 .8-.6-.4 0-.5-.8-.1 2.6 1.3-1-1.2 0-.1 .6-.2 .5 .3 1.4-.3-2.4-.1-.1 .2 .9-.6-1.5 .1 3.3 .4-.5-.3-.2-.9-1.2 .7 1.4-.8 .5 .2-.7-.6-1.1 .4-2 .6 4-.4-1.8-.4-.7 .5 2.7 0-.7-.9-2.6-.8 2.1 .5-.2 .3 2-.2-10.4-.3 8.5 .7 .5-.5 2.4 .5-3.6 0-2.7-1 2.4 .4 2.6 .1 .9-.3 1.5-.3-1.9-.1-1.7-.3 2.6 1.1-1.2-.9-.2 .4 .5-.7 1.9-.5-3.1-.3-.1 .3 1.6-1.2 .1 .7-1 0 0-.6 2 1 1.5-1.3-.8 .8 .1-.6 1 .2-4.7-.1 .8-.3 1.3-.8-.6 .7 .4-.9 1.7 .8-1.8-.3 1.3-.9-2.2 .4 1.7-.2 3.6 .6-2.7-1.4 1.4 .5 3 0-3.9 .7 1.7-.3-.4-.3 .8-1-1.8 .5-1.1-.3 .8 0 .8-.3 1.8 0-1-.4-.1 .1 .5 .6 2-.9-2.3 .3 3.2-.3-3.9-1 1.1 .5 2.3-.2-.4-.2-1.9-1 1.3 .3-.8 0 2.5-.5-.3-.3-1.7 .6 1.8-.7-1-.4 .6 .3 .4 .1-.8-.7 1.6-.1 .3-.3 .1 .3 1.1 .2-1.8 .3-1.7-.8 1.7-.9 1.2 .3-.1-.1 1 1.5 .5-.8-1.2-1.4 .1-.1-4.3-1.2 6.4 .9-1.8 .6-1-1.2 .1 .4 1.2-.4 3.1 .7-.9-.2-3.5-.6 2.5-.9 .7-.3 .8 0-.3 1.4-1.3-1.3 1.8 0-1.3-1.7-2.3 .7 2.5 .4 .2-.1 2.6 .1 .4-.5-3 1 2-1.2 .1 .3-2.1-1.5-.7 .4 3.1-.7 .6 .4-.9-2-3 .6 4.2 .3-.6-.3-.3 .2 1.1-.6-1-.2 2.7-.3-.6 1-.7-1.8 1.5 .5-.3 .3-2-1.2 2.3-.4-.3 1.1-1.7-.8 1.9-.9 1.8 1.4-1.4-1.4 3.3 0 .6 .5-2.7-1.6 1.5 .3 2.3-.3-3.2 .5-.7-1.4 1 .8-1.2-.4-4.2-.1 7-1.1-2-.6 2.6 1 .6 .2-1.6-.3 1.2-.7 .1 .2-.3 .2 0-1.1 3 0-1.4-1 1 1.6 1.2-2 .3 .5-2.9-.6 .7 .5 1.1-1.5 .9-.6 1.5 1.1-2.6-1.3 1.1 .9 1.3-.6 1.7-.1 .6-1.1-3.3 .5 1.4-.4-.6 .2 2.8-.6-.3-.2-.9 .2-.1 .1 1.6-1.8 1.4 .3-2.4 .2-.1-.7 2-.6 .2-.1 .8 0-1.8-.2 1-.4-2 .4 3.5-.2 1.9-.5-4.5-1.1 2.5 .7 2.6-1.2-1.2 1.4-2.4-1.8 5-.3-3.7 .1 4.6-.3-2.7-.9 .2 .5 1.4 .3 .2-1.3 1.3 .2 .1-.6-.6 .6 2.5-.8-.6-.7-.3-.4 .1 .4 0-.3 .3 .6 1.5-1.5 1.6 .4-1.9-.8 1.8-.7-1.6 .1 1.3 .5 3.9-1.2-5.6 .4 1.7 0 3.3-.6-3.7-.4 3.5 .3-3-.2 2.6-1.9-1.9 .6 1-.6 .7-.2 .1-.6 2.7 0 .1 1 3.3-1.8-3.6 .6 8-.4-6.1-1.6-.7 1.1-1.8-.1 3.1 0 .3-.9-.6 .3 1.4-1 .4 .1-1.3-1.4 1.7-.1 0 .4 .3-1.4-.6-.3 .1 .9 1.3-.8 2.4-.7 1.7-.1-3.8-.4-.7-.3 1.5-.3-.4-.3 1-.8 1.6-.2-1.6 .5 2.7-.4 .6-.9 1.5 .3 7.1-.1-7.1-.3 2.3-.8-3.9 0 1.6 0 .3-.5 .8-.5 1.3-.7-1.7 .1 3.5-.4-.2 .2-1.1-.9 .6-.2-1.8-.7-2 .3 4.2-.3 1-.8 .3 .1-1.7-.5 1.4-.7 3.9-.6-1.2 .4 .2-.9-1 1.1 2-.8 1.3-.7-.4-.2-1.4-.1 1.5-2-1.4 .7 1.3-.7 1.8 .1-1.3-1.2 .9 1 3-1.4-2.1 .6 4.6-.3-4-1.1-.8 0 2.2-.5-.2-.2-2.1-.3 1.7-.6 1.6-.6 3.4-.4-4.7 .3 3.2 .1 1.5 0-.1-1-.6-.4 3.7-.1-.2-1.1-5.5 .7 5.8-.2-.2-1.3 1.1 .2-.9-.6 1.6-.7 2.2 .4 .1-1 .5 .2-.7-.7 .3-.8 .4 .2-2.8-1.4 5.9 .9-2.8-.5 .6-.1 .1-1 1-.2-3.6-.2 4.1 0-1.9-.2 .9-.9-.9 .2 .7-1.3 4.1-.8-1.3 .2 1.1-.8 .4 .1-1.1-.4 1.1-.4-.4-.4 2-.8-2.6 .1 3.4-.2 2.6-.1 .9 .1 .4-1.4-.6-1.1-1.9 0 6.7 .2-3.3-.6 .1 .5-1.8-.8 3.1-1.1 2.2-.2-.5-.5-1 1.5 1.8-2.2-.3-.3 .8-.4 1.7-.3-.3-.5 .1 .1 1.1-.6-1.4-.5 .3 .2 3 0-3.3-.6 4.5-.6-3.3-.6 9.8-.5-5.9-.2 3.5 0-6.2-1 1.9 0 5.6-.4-1.5-.7 .8-1.1 .3-.6 .7 .8 1.2 0-2-1.3 2-.4 2.9 .6-1.2-.6-.7-.7 1.7-.7 2.2 .5-1.5-1 .6 .5 1.7-1.1 1.2-.1 1.6-.8-2.5-.7 1.9-1.3 1.7 0-4.3 1.2 4-1.7 1.1 1.1-.3-1-.7 .2 3-1.7 1.7 .1-1.6-.3 0-.8 1-1.1 3.6 .4 0 .4-1.3-1.8-1.3 .1 .3 .9 2.2-1.7 .6 0 1.6-.5-1.8-.3 2.3-.9 1.8-1.2-3.2 .7 7.2 .4-2.4-.8 .5-1.4-2.6 .5 1-1.1 4-.3 .3-1.4-5.1 0 6.6 .2-.2-1 .3 .2-2.4-.9 2.9-.1-.9 .1 2.5-1 2.7-1.2-1.5 .1 1.1-1.2-1.7-.1-.7 .5 2.3-.4 2.3-.4 6.9-.5-7.7-.3 1.1-.1-.6-.1-1.7-1.7 3.6-.5 1-.1-.7 0 .9-.6-2.2-.9 3.7-.5 2.8-.2-1.9-.8 1.7 1.1 .2-1.6-1.5-1.3 2.2 .3-1.2-1.1 7 .1-4.1-.7-1.7-.7-.2 .1 5.7-.3-.9-.7 .2-.2-2.5-1.6 1.9 1.5-.5-.8 4.5-1.3-2.2-.7 4.7 .5-1.8-1.2-.9-.3 3.4-.6-5.4 .2 2.8-1 1.3-.6 3.1 .7 4.8-1.9-4.9 .1-3.1-.2 2.7-.6-.4-.1 4.6-.6-2.4-1.7 2.4 .2 2.8 0-2.8-1.2 2 .3-1.2-.6 1.4-1.2 .6 1 .6-1.7 .7 0-.1-.6 4.6-.3-3.8 .6 2.2-1.3-.3 0-2.8-1.3 6.3-.5-.6-.3-2.2-.1 1.8-1-.9 .5 4-.7 2.9-.5 0-.4-3.7-1.6-.1-.2 6.8-.9 .5 .5-2.2 .2 2.4-.8-3.7-1.4 3-.3 1.6 .8-.9-1.8 1-.9 2.3-.4-1.7 .3 0-.9 3.8-.4-.2-.1-1.6-.9 3.3-.1-1.2-.6 2.9-.4-.5 .3 .1-2.4-.2 .7 2.5-.2 .2-.5 4.1-.6-2.8-.4-1.6-1.5 6.8 .2-6.7 .5 7.3-1.1-3.9-.4 4.8 0-2.2-.6 2-1.1-.2-.8 .4 .4 2-.9-1.3-.3 2.8-.6-2-.9 1.4-.7 1.3 .3 1.5-1.4 3.2 .3-2.9-.3 .8-.5 .3-.7 2.2-.5 2.5-.3-1.5 .1 1.6-1.9 .3 0 2.1-.9-3.1 0 5.6-.7 1.5-.4-2.4-.6 2.2-.2-.7-.2 4.3-.5 .2 .2 5-1.6-4.9 .4-.4-.8 1.6-.9-.6-.5 3.5-.8 1.1 .1 1.9-.5-.1-.5-.7 0 4-1.7-.4-.5 1.3 .1-7.6 .1 6.2-1.2 1.2 .4 1.3-1-2.5-.1 7.1-1-1.7-1.1 6.4 .2-2.9-1 2.2-.1-.9-.2 .5-.9-1.2-.7 2.4 .6 4-.4-5.8-.6 2.9-1.7 2.7 .4 3.3-1.1-4.2-.8 2.1-1.1 2 .1 6.4 .5-6.6-1 2.2-.4 2.5 .5-1.8-1.9 2.9-1 .9 0-.6-1 2.3 .3 3.5-.4-2.1 .3-.2-1.5 .3-1 2.7 .2 2.5-.4-.8 .3 1.2-1.5 5.4-.5-5.7 0 .3-2.2 3.5 1.3 0-.3 2.4-.5 2.2-1.4-.8 1-.2-1.3 2.3 .7 .8-1.6-.2-.8 0 0 3.3-1.7-.8 .4-.9-1.7 4.5-.2-1.5 .7 .9-1.3 3.2-.3-1.9-.2 2.1-1-.6-.1-.2-.3 4.5-.8 3.3-.1-3.8 .1 4.9-1.9 .7-.7 1.8-.5-4.1 .2 1.7 .3 5.4-2-2.4-.5 1-.3 2.4 .1 .7-1.2-1.4-.5 1.6-.5 2.6-.5 .2-.1-1-.3 10.8-1.3-5.8-.3-1.4-.2 .4-.2 3.9 0-5.7-1 5.9-.4-.4-1.6 .7 .4 4-.7-.2-.7 6.4-.1-5.5-1.5 2.1 .2-2.6-1.3 5.7 .3-2.3-.4 2.6 .1 3.1-1.1 .7-1-.4-.4 2.5 .8-2.5-1.2-.1-.7-.2-.6 5.1 0 3.7-1.9-3.6 .3 1.6-.5 .3 .2 2.5-1.7-3.7-.3 6.3 .7 1.4-.7-2.6-2.2 .3 .1-2.2 .2 7.2-.5 9.8-1.4-11-.6-.2 .9 4.3-1.1 1.3-.4 1.8-1.1-4.5-.6 6.5-.5 1.7 .2-11.6-.8 10.6-.1 6-1.1 1.9-1.3-5.7 .4-1.9-.9 3.3 .1-6.5-.7 8.8-1 4.1 .3-2.5-.9 2.4-.4-1.7-.8 5.3-.4-2.3-.5 .1-.8 6.9-.5-2.2-.3 1.6-.1-4.6-1 8-1.8 1.6 0-2.9-.8 .5-.3 .4 0 4.4-.8-4.6-.1 4.9-1.4 4.4 0-3-1 4.8 0-3.2 0 .3-1.7 3.5 .2-1.2 0 1.3-.7-.1-1.1-.7-.3 2.8-.8 3.1 .5 1.7-1.1-1.5 0 1.7-1.8-1.7 .9 2.6-1.7 1-.1 .9 0 1.4-1.3 1.5-.2 2.8-1 0 .1 .4-.9-2.7 .2 1.8-1.2 2.7-.4 1.1-1.1 2.3-.6-4.4-.4 5.1 0 .8-.2 0 .2-.1-1.8 4.6-.8-1.3-.6 2.3 .2-4.4-.8 3.3-.5 6.2 .3-1.9-1.6-1.2-.9 2-.1-1.2-1.1 6.8 .6 1-1.1-.3-.7 1.7 0-.7-.9 2.8-.9-.5-.7 2.5 .4-1.9-.8 .5-.3-.2-.9-.7-.1 .3-1.7 7.1-.3 8.2-.3-7.7-.7 1.4-.7-.7-.2 1.4-.1-3.1 .1 3.6-1.7-2.9-.1 3.4-1.8 1.7-.6 .8 1.1-.7-1.3 5.9-.9 .3-.3-2.5-1.3-.6 .6 2.5-1.6 4 .3-5.4-.6 6.8-.9-1.1 .1 .3-1.7 4 .2-1.4 .1-1.1-1.1 5.6-.4-5.4-.9 8-.4-8.2-.8 4.5-1.2 6.3-.2 21.3 0-20.4-.6-3.6-.3-2.1-1.1 6.2-.1 .4 0-.5-1.6 1.9-.3-.3-.3 4.2-.1-1.1-1.1 .6-.4-3.6-.9 6.4-.4-3-.2 5.8-1-.8-.2-3.6-.8 4.7-1.2-1.1-.3 4.8-.6 .7-.1 2.2-.9-3.2-.7 3.7 .1-3.3-.5 4.7-1.1-.4 .3 2-.2 .3-1.3 3.2-1.2-2.2-.5 1.2 .4 11.8-1-9.7-1.2-.2-.1 .2-.3 3-.4 .9-.8 2.5-1-.9 0 2.9-1.7-2.1 .7 6.1-1.7-2.8-.3 2.7-.7 .3 .1-2.9-1.5 6.3-.5-2.4 .9 4.1-1.2-5.7 .4 1.3-2 .6-.8 1.4-.4 4.2 .4 1.8-.2-1.2-1.1 1-.4-1.6-.1 7.4-.2 .9-1.8 .1-.8 1.7 .8 3.4-1-1.4-.8-4.1-.7 4-.7 .8-1.3 3.5 0 .2 .1 1.9-.7-4.6-.9 7.8-1-2.7 .3 3.6-.9-.2-.4-2.1-.3 1.1-.6 4.2-.3 2.2-1.2-3.8-.1 .5-.6-1.2-.4-1.1-.8 6.1-.4 .6-1.1 4.4-1.1-1.5 0-.5-.8 2.6 .2 1.7-.5 1.4 .2 .9-1.7 .1-.3 2.6-.7-1.1-1.4-.9 .9 3-.7 5.6-1.8-5.4 1 8.6-1.8-6.1 .7 3.8-1.4-4.6-1 4.4-.6 4.5 .5-5.3-.7 2-.8 3.3-.7 1 .3-3.5-2.3 1.5-.1 4.5-.2 .9-.4 1.9-.5-1.2-.2 2.7-.9 2.3-.7-4.9-.1 6.2-.9 .3-1.4 2.1 .4-3.1-1.4 1.7-.3 1.2 0-3-1.4 7 .4-1-.2-2.1-.6 3.9-1-2.3-.5-.3-.4 2.2-.6 3.4-.8 1.1-.4 .3-1 2.4-.2 4.2 .1-6.4-1.6 4.6-.3 .5-1.1-2.6-.7 2.5 .5 2.6-2 .4 1.1-1.1-1.5 4.7 .2-.4-1.1 1.8-.6 3.2 0-6-1.1 6.3-.2-.4-1.9-2.3-.3 2.8 .9 0-1.5-.9-.2 5.6 .5-2.9-2.3-2.2 .2 7.8-.9-2.3 .3 2.9-.8 .5-1-.4 .5 .7-1.1-4.3-1.5 6 .6-.9-1.6 4.9 .7-2.3-.4 1.2-2.1 2.7 .3-2.1-1.1 2-.6 1.5-.1 5.2-.4-5.7 .3 6.2-1.6-1.2-.4 0-1.6 3 .7 2.5-.7 1.3-.8-4.5-.4 6.7-1.5-2.2 .7 4-.9-10.6-.6 8.8-.3 1.1-.9-2-.4 2.9-.6 4.3 .2 1.4-1.8-.2 .6 0-.1-.9-1.5 7.1-.3-7.5-.1 1.3-1.5 1.9-.5 3.3-.6-.7 .1 3.9-.3-4.8-.5 6.8-1 3.2-.9-1.3-.5-2 0 .2-1.5 5.1-.4-6-.7 3.1-.1-1.3-.9 4.7 .2 5.8-.1-4.7-1.8 4.7 .5-4.5-.7 2.2-.7 .9-.6 4.9-1.3-3.9-.1 1.4-1 2.6 .3 4.8-.9-2.9-.3 5.2-1.8-2.5 .6-.7-.5 4.4-.8-3.5 .2 .1-.8 3.4-.7-3.2-.3 1.8-.8 1.8-.1 3-1.8 3.5-.3 1.1-.2-2.4 .3 1.9-.7-.4-.1-1.9-.5 5.4-1.9-1.9 0 4.6-.7-2.4-.4-.3-.4 4.3-.6-1.2-.6-.7-.3 7.3-.9-.5 .4 1.2-1.1 .7-.2-.3-.6-4.4-1 7-.2 1.6 .1 5.7 .1-5.4-1.5 5.9-.4 .1-.6 5-1.2-4.3 .2 3.1-.4 1.9 .5 1.7-1 2.7-.8-1.2-.8-4-.5 8.8-.2-8.5-.8 7.6-.2 2.7-.1-4.3-2.1 2.5 .5 .8 .3-1.8-2.5 4.7 1.1-2.6-.2 6.1-.8-.3-1.4 2.2-.1 1.5-.7-1.5-.8 1-.1-.9-.1 1.2-.6 3.4-.7 .6-.9 .1-.7-.4 .7 3.6-2.7-4.8 .4-.6-1.4 5.8 0 3.3-.1-5.3-.6 1.3 .2 .5-1 5.9-.5 1-.2 2.8 .6 2.8-2.1-8.2-.6 3.5-.1-.1-1-.6-1 3.9 .1-.7 .8 2.7-1.3-.5-.9-2.1-1.3 6.1 1.1 .7-1-1.9-.8-3.9-.1 .4-1.1 3.2-.7 5.4 0 1.5-1.2-.9-.1 .8-.6-6.2-.5 8.4 .2-2-2.1 1.8 0-1.1-.1-2-.2 8.1-.2-.3-.8-3.1-.2-.5-.7 3.1-1 4.7-.6-.1-.8-.6-.5 3.1-.6-.8 .6-2.7-1.2 5-1.2-1.2-.3-1.3-.5 6 .4-1.2-1.2-12.8-1.1 15.2 .2-.8-.9-.8-.8 .5 .7-.8-.8-.5-.2 5.4-1.6 1.3-.1-1.5-.4 2.4-1.2-1-.3 .8 0 3-.8 3.5 0 .4-.6-4.3-1.1 2.9-.2-.7-.3 1.8-.6 3.6-.3 .7-.5-4.7-1.7 1.7-.4 .4-.8 1.6 1-.3-1.1 1.2 .4 1.7-.9 2-1.2-2.4 .4 3.3-1.5 .7-.3 2.9-.9-.8 .5 4.4-1.7-2.9 1 3.1-.4-2.6-.4-3-1.5 5.7-.2-2.8-1.1-2.6 .3 8-1.5-1 0 1.7-1.1 1.5 .5-1-1.1 4.2-.4-2-.2-.3-.6 1.7-.6-4.8-.9 7.5 .8-4.5-.9 5.7-.5-.7-.7 1.3-.4-1.6-.5 7.4-.5-9.2-.1 5.8-1.5-1.3-.2-1.1-1.2 8.9 1.2-2.6-1.4 6.7-.6-3.7-.2 0-.8 .9-.2-4.3-.3 .6-.8 8.1-.9 3.6 .1-8.1-.3 3-.2 .8-1.3 3.5-1.1-1.6 .2-2.1 .2 4.7-1.1-3-.2 7-.5-5.7-1-6.3 .7 13.6-.2-11.9-1.7 11.6-.4-.4-.3-2.4-.3-1.1-.8 9.1-1.2-3.9 1 3.5-1.3-1.9-.4 2.3 .5-1.2-1.2-3.5-.7 2.1-.5 3.8 0-10.7-.8 10-.4 1.3-.2 4-.9 2.1-.6-9.4-1.3 7.4 2.1 15.4-2.2-18.9-.6-5-.1 13.2-.7-2.1 .1-1.3-1.4 2.7-.3 2.1-.6-1.1 .4 1.5-1 .2 .3 1.2-.6 .1-1.7 1.3-.2-.9-.4 4.1-.3-3.2-.2 .1-1.1-1.9 0 2.5-.5 3.1-.5-.2-.6 2.8 .2-4.2-1.3 2.1-.1-3.1-1.1 5.3 .9 10.4-1.3-7 .4-1.8-1.5 3.1 .3 0-1.7-2.5 1 .3-.9 .8-1.1 4.4-.5 1.1 0 .1-.3-1.2-1.1 6.6 .5-5.2-.5 2.6-.5-.2-.2 3-1.9-6.9 1.2 6.7-1.5-1.4-.3 1-.4-2.1 .1 1.5-.6 6-.8-.3 0-5.7-1 5.2-.9-1.4 .5 5-.4-1.1-.3 1.5-1.1-1.7 .7 .9-1.9-1.3 1.1-1.8-1 3.2-1 5.7-.9 .9-.3-5.6 .2 .7-1.2 .9-.1 .5 0-.5-.1 1.9-.6 4.4-.3 .8-.7 3.3-1-4.6-.1-5-.6 5.1-.8-.8-.1 2.6-.8-.5-.4 5.3 1-4.4-1.8 3.1 1.1 5.7-1.3-4.4-.4-3.9-.6 13.4-.1-6.1-.4 .9-1.2 1.1 .3-3.9-.8 .6-.4 3.9-.2-4.5-.2 3 .5 6.3-.9-6.1-1.3 5.2-.3 2.7-.7-2.5 .3-.4-1.6 5.6 .2-6.8 0 9.2 .7-6.6-1.3 3.3 .1-2.5-.1 .7-1.4 6.5 .1-1.9-1.3 5.1 .4-15.8-1 11.5 .1-9.6-1 11.9-.2 2 .8 .8-1.6 .7-.1-2.7-.3 7.7-.5-5.7 .2 5.6-.3-3.7-1.8 4.4 .1-3.9-.6 3.4 .5-.7-.1-4.3-1.5 6.6-.5-4-.6-1.9 1.1 6-1 3.3-.8-.6-.2-4-.6-1.9-.6-2.3-.4 6.3-.1 .9-.6 .4-.6 5.7-.4-3.6 .3-2 .2 .4-1.7 .9 0 1.4 0 3.3-1.2-1.3 .6 .6-.6 1.6-.4 .8-.9 5.8 .5-2-1.3-5.7 0 2.5-.5 1 0 .4-1.9 3.3-.1 .2 .9-3.4-1.8 7.2 .6-2.8-1.3 5.3 .7-7.6-1.4 4.5 1-2.7-1.8-1.3 .3 3.6 .1-2.8 .1 .3-1.2 4.9-.3 1.5-1.1-3.8-.2 5.2 .3 1.1-.9 .5-.9-1.9 .2-3.3 0 7.8-1-5.1 .6 2.9-.5 2.5-1.2 2.3 .4-3.5-1.7 .5 0 1.3 .7-.3-.9 3.2-.6 .4 .4 2.5-.5-4.6-.1 2.9-.4-3.7-.1 1.5-.7 5.9 0-4.4 .2-4.2-1.8 4.5 .3 .6-.8-3.2 .5 6.4-.4 8.1-.6-9.1 .2 4.9-.9-8.3-1.5 8.8 .5-1.7-.1 21.9-.2-20.7-.5 .4 .5 .5-1.5-.4 .5 .5-.7 3.6-.6-.7-.2 .7 .2 .4-.6-2.2-1.5 8 1.2-7.9-2.2 6.2 .9-2.7-.3 4 .1-3.1-.9 4.4-1-1.3 .4 2.5-.7 2.9 .2-4.6-1.2 .4 .3-7-.3 7.6 1.2 3.1-1.7-2.8 0 1.4-.9-.2 .5-4.6-1.1 8.6 .1-4.1-.7-1.3 .1 7.3-.2-1.2-.8 1 1.5-.8-2.1-1.7-.4 5-.5-4.6 .1 3.7 .1-3.1-.8 .2-.4 6-.5-4.1 .4 18.2-.7-18.7-.3 14.8-.3-11-.5 3.6-.2 .3-.6-6.9 .3 7.5-.7-2.2 .3-1.4-.5 6.3-1.3-1.6 1.3 .6-1.2 13 .3-10.3-.8-2.3-.1-2.2 0 7.2-.9-5.8-.7-2.3-.1 10.7 .8 .9-1.1-10.4-.9 6.3 .5-4.8-.9 6.5-.4-5 .7-.1-.1 7.3-.9-4.9-.8 4.1-.7-2.7 .9 7.4 0-1.4-1.3-4 1.2-4.6-2.6 7.8 .6-3.4 .9 6.7-.2 1.5-1.8-4.1 1 3 0-6.1-.6 6-.6 3.5-.3-8.5-1.1 6.6 .5-1-.3 2.2-.8-1.9-.3 0 0 4.1-.1-3 .4 1.7-.7-5 0 5.5 0 1.3-1.5-2.6 .4 1.2-.5-5.3-.4 3.2 .5 2.6-.7 .3 .6 7.7-1.3-3.7 .7-5.4-1.5 10.6 .6-10.4-.9 1.1 .4 1.1-.2 2.8-.1 8.2-1.1-8 .3 2.8-.9-5.6-.2 3.4 0 9.3-1.2-3.4 1.1-.7-1 2.1 .4-2.4-.9 .3 .2-4.4-.9-.9 .8 2.8-.4 1.4-.6-1.1-.2 4.9-.8 3.7 .2-5.1 .8-4.3-.9 1.4 .3 7.1-.2-.4-2.4-1.3 1.4 1.6-.2 1.8 .2-2.9-.8 1.1-1.5-1.6 1.2-4.5 .6 6.6-1.5-.1-.5 1.6 .4-2.5-.2 3.2-1 .3 1.1-2.1 .2-1.4-1.4 1.3-.8 3.4 .1 1.9 .4 3.2-1.8-5.4 1 2.1-.8 2.4-.5-6.3 .4 5.3 .4-3-.7 .6 0 3.7 .7-2.6-1.3 2-.7-4 .4 3.4-.4-2.1 .5 2-1.2 9.9-.3-8.3 0-.4 .2-.2 .2-.8-.2 8.1 .1-7.3-.7 9.7-.9-7.6 .3 2.9 .6-1.5-1.5-1-.1 1.1-.5 2.8 .3-2.2-.4-2.7-.3 6.7 0-4 .2 .9 .3 3.3-.7-5-.2 2.2-.3 2.3-.3 .2 .1 .2-.2-2.3-.6 3.5 0-2.1-.3 1.4 .3-1.6-.4 4.8 0-3.3 .8 .8-1.8-.6 1.4 1.9-.8-2.7-.2 2.3-.6 .1 .3 3.5-.3-3.1-.2 .5-1.8 .8 .4 1.8 1.2 2-.1-2.5-.8 .4-.4 2.2 .1-2.4-.9 .9 1.1-1.5-.8 1-.2-.8 .2 5.3-1.1 1.1 .2-3.2 .4-2.7-.2 2.2-.1-1.1-.8 .2-.2-.9 .2 1.4-.3 5.9 .5-5.3-1.2 2.4 .4 .7 0-.6 .9 .8-2-2.8 1 4.6-.3 1.2-.7-3.4 .1-1 0 0-.6-.7-1.1 3.6 .9 .6-.3 1.7-.6-5 1.3 4-1.6-.1 .7-1.4-.6-.9-.3 2.2 .1 3.6-.2-5.9-.8 1.4 .2 .3-.1 .9 .2 2.3 .7-2.5-1.5-2.9 0 2 .6 .1-.3 2.9-.2 0 .4-2.1 .5 3.4-.8-4.2-.8 3 .2 2.8-.2-4.8-.1 3.9-.1 5.1-.2-6.5-.2 1.2 .1-2.6 .6 3.3-.6-2.5 .3 1.3-.7 1.8 .1-1.2-.9-1.1 .5 2.1 .3 .1-.8-3.4 .4 1.4-.1 3.6-.9 2.3 .4-2.1 1 .5-2 .6 1.6 2-.5-2.8 .9 4.3-1.3 2.7 .5-2.3-1-.3 1 1.1-.2 .5-.7-1 .6 .8-.3-.4-.6 2.4 .2 2.7-.9-2.6 .5 3.7 .1-4.6 1 3.2-1.1-2.1 .5 1.8-.1 0 .4-2.7-1 3.2 .3 1.5-.6 .2 .7-2.7 .2 .4-.1 3.9-1.1-2.5-.4 5.6 .4-1.3 .2-.9 .5-.6-.1-.7 0 2.2-1.5-.5 1.1 3.2 .3-1.9-.5 .4-.5 1.7 .1 .2 1.5-4.9-1.2 7.2 .3-11.4-.6 6.8 .1 1.6-.1-.6 .4 4.8-.4-2.8-.2-1.8-.6 1.6 .6-.5 0 .5-.9 2.1 .5 .5-.5-.9 1.1-1.8 0 1.4 .3 2.9-.5-.4 .3-1.2-.2 2-.5-4.3 .5 2.3-.5 1.4-.5 .7 1.2 1.5 .2-1.5-.5 .6-.3 0-.5-5.8 .5 5.5-.7 3 .4-1 .4-1.6-.9 .7-.3 3.1 .6-.1-.7 .7 .7-.9 .4-2.3-.6 .1 .8-2.3 .3 5.1-.2 .1-.4 1.8-.4-5 .7 4.4-1.6-1.9 .9-.6-.3 .4-.1-2.4 1.2 2-.5-4.9-.6 2.9-.6 2.8 1.3-1.1-.4 2.1-.1-2.3-.2 .3 .5 0 0 1.5-1.3 .1 .9 5.5 .1-7.1-.5 .2 .3 1.7 1.2 2.6-1.7-1.5 .8-4.7 .7 3.5 0-.9-.1 .4-.6 1.8 .2-1.3 1-.2-2-2.6-.5 2.5 .9-1.1 .3 4.2 2.3-7.4 .2-9.9-.2 11-.8 3.5 .6-2.1 1 .4-.8 4.5 .5-7.8-.6 0 0 4.1 .4 2-.8 5 1-6.9-.7 3.9 .2 4.4-.3-1.3 .4-8.5 .1 4.2-.7-9.8 1.2 5.9 0 3.7-.9 4.3 1.2-5.5-.8 5.8-.9-3.8 1.3 0-.2 .3 .4-10-.5 10.7 .4-4.2 .1 2.4-.3-.1-.9-4.7 .3-.3 .6 3.1-.7-3.1 .3 2.9 .9 .6-1.3-3.8 .8 .9 .5-1.2-.1 5 .1-3.9-.9 5.7 1.7-7.1-.5 4.9-.7-.6 .7-8.1-.5 6.6 .9 10.5-1-7.8 .3-3.2 1 2.8-.5-5.9-.4 2-.1 6.6 .4 7.8 .2-14.1-.2 .4 1.1-.6-.3 3.7-.3 2.1-.9-5.7 1.1-1.4-.7-2.2 .1-.2 1.3 10-.8-6 .5-8.3 0 14.4-.4-1.1 0-4.5 .3 7.6 0-3.9-.9-8.3 .7 4.5 .5 .5 .4 2.5-.2-4.8 0-5.2-.2 8.2 0 4.5 .3-12.9 0 4.8 .2-5.2 .4 4.6-.5 2.5 .1-4.1 .5 5.4 .3-18.1 .3 15.1-.2 4.2 .3 3.9-.5 .8 1-9.8-.2 7.6-.6-4.8 .8-4.8-.3 5.2 .4 3.5-.7-4.3 .9 1.5-.1 1.5 .7-10.3-.5 9.2-.9 1.1 1.3-3.1 0 4.7 .3-3.1 0-6.9-.7 2.3 1.2 2.2-.4-.7 .9 19.7-.4-14.3-.3-10.5 .9 9.2 .3 5.5-.8-1.4 .5-6.7-1.1-2.2 .8-5.9 .5 8.7-.3 1.7 1.3-5.1-.6 1.7-.5 7 1.3-5.6-.9 3.8 1.2-3.7-.7-6.1 .6 9.2-.1-2.7 .1 2.4 .7-4.7-.2-.7-1 2.7 1 6.1 1.1-3.8-.4 0-.6-5.3 .9 9 0-5.2-.6 2.6 .4 1 .8-8.5 0 2.6 .5 2.1-.7 .5 1-5.6 .7 1-.5-5.3-.1 1.9 .7 6.5-.7 6.1-.7-5.9 1 .9-.9 6.6 1.7-10.8 .4-2.9-.7 12-.1-5.3 .8-1.4 .1-.3 .1 5.3 0-7.3-.2 5.5 .4-7.4 0-2.8 .7 6.8 .7 .2-1.1 .3 1-5.1-.5-1.1 .4 3.8 .7 5.4-.9-2 .8-1.6 1.1 .5-.5 2.3-.8-9.5 1.6 4.9-.3 3-.3 .9 .4-.4 .5-3 .8-6.4-.6 4.5 0 6.3 .6-12.4-.9-2 .7-22.2 .6 31.8-.8-2.6 1.1 2.1 .4 14.5-.2-9.1 .1-4 1.2 8.4-.4-11.9 .1 3.7 .1-4.5 .4 3.3 .6-12 .2 5.5-.7-3.5 .4-8 .7 1.1-.2 .3 .3-.7 .5 20.4-.3 4 .5-.7-.2-9.2 .9-4.8 .1-8.7 .6 4.1-.7 24.1 .4-22.5 1.3-3.8-1.8 10.2 1.9-12.4-1.1 17.5 1.3-18.7 .8 12.4-.5-9.8-.4 6.2 .5 3.8-1.4 4.6 1.4 2.8 .5-2.4 .1-2.4-.5 1 1 1 .7-1.4-.5 37 .1-47.5 0 4.3 1.4-2.3-.4 7.3 .6-11.8 0-1.4 .1 3.4 .6-4.7 .1 10 0 20.3 .3-28.7 .3 17.7 .2-7.5-.1-.7 .7-5.3-.4 3.4 .8 10.8 .2-16 .4 5.7 .3-4.8-.5-10.6 1.8-1.7-1.2 4.2 .9-.1-1.1 16.6 .6-13.2 .4 6.1 .7-5 .4 2.8-1.1-.3 1.5-17.5-.2 11.5 .4-11.1 .5 14.4 1.2 10.1 .2-12.8 0 2.9-.2 3.4 .9-9.9 0 12.1-1.2-12.5 .5 15.8 .8-7.9 0-11.1 .7 1.8 .9 15.2-.4-24.9 0 7.3-.4 6.8 1 5.2-.4-11.3 .5-3.1 1.1 21.7-.1-17.6 .5-4.3-.1 21.1 .3-17.6 .5 3.2-.4 1.5 .9 2-.1 1.4 .6-2 1-.5-1.1 .2 1.9 3.8-.6 .3 .2-13.9 1 6 .5 10.7-.4-11.9-1 6.5 .8-6.3 .4-5.4 .7 2.2 .6 4.4 0 8.7 1.1-6 .2-9.2 .2 11.4-.8-5.3 1.4-17.1-1 26 .8-2 .2-1.6 .4 .8 .6-17.4-.4 8.8 .1 10.9 1-11.6 .9-6-.5-3 0 5.2 .2-5.2-.3 .5 1.1-1.8 .5 13.5-.3-13.3 1 13.9-.1-10.6 .8 11.6 .3-14.2 .6 1.6 .2 14.6-.5-18.1 1.2 9.3-.4 11.6 1.5-18.5-.8 8.9 .4-10.5 1.4-.2-.8 .2 0 8.4 .4-2.9 .5-5.1 .1-2.9 .2 6.2 1.1 3.6 .2-2.4-.3-4.1 .9 7.7 .3 12-.1-6.5 0 1.4 1.5-16.2 .1-4.8 .5 6.5 .6-1.2-1.3 .8 1.3 5.5 .3-6.7-.1 1.9 1.2 2.2-.5-9.4 1.3 7.7-.3 0 1.1-9.6 .1 2.6-.1 12.4 .7-9.3 .2-4.4 .6-1-.4 1.5 .1-1.3 .7 8.1 .6 .3 .9-5.1-1.1 1.6 1.3 2.5 0-10.3 .7-1.1 .4 11-.3 1.8 .8-18.6-.1 15.5 0-5.9 1.3 8.4-.2-7.8 .7-19.5 .4 8.3 .9 9.6-1.8 5.1 2.1-15.2 .5-3.9 .1 11.3 .5 6.5-.7 11.8-.5-26.4 2.6 1.5-.2-3.6-.1 1.5 .1 3.1-.1 8.4 1.2-3 .5 1.5-.2-13 .7 2.6-.3 7.7 .4-3.9 1.3-5.1 .1 2.7-.4 7.7 1.1 1.8 .4 2.7 .1-11.2 .7 14.1 .5-15.8 .2 3.2 .9 3-.9-11.9 1.9 5.5-.3-3.9 .4 56.4 .5-47.2 .5-17.4-.2 12 1 4.2 .2 7 .6-13.1-.2-18.7 .8 18.1 .3 9-.1-7.7 .3-9.8 1.2 3.7 .3-.3 .4 16.8 .7-13.2 0-10 1.2 4.3-.3 15.2 .4-33.2 .8 6.9 .3 3 .3 9.8-.6-11.8 1.1 21.4-.5-14.2 1.6-5.4 .2 5.7 0-12.8 .8 11.8 .4 16.9 1.4-21.8-.9 8.3 1.4-.9-1-3.8 1.4 14.1 1.3 12.2-.3-34.1 .1 10.5-.4-5.9 1.3 4-.5 8.6 1.5 17 .3-22.6 .7-2-.1-9 1.7 5.4-.5 38.7 1.1-38.8-.8-16.9 1.7 12.8-.7-6.7 .8 6.9-1 12.4 1.3 3.2 1 1.2 .5-12.9 .3-4.5 .2 15.1 .3-22.6 1.7 20.3 .3-.6-.7-11.2 1 .4-.4 27.7 1.4-24.2 .6 10.3-.1 1.9 .7-15.2-.4-8 .5 9.4 .8 3.6-.4-8 1.1 4.8 1 6.5-1.4-15 2.4-.7 .3 5.7-.5 4.5 1.3-19.1-.8 17.5 1-27.5 .1 24.1 .7-17.8-.1 15.2 .9 2.6 .6-17.2 .6 .3 .6 11.8-.5 .3 .6-2.3 1.3-10.6 0 8.8 1.1-2.1-.2 6.3 .4-2.4-.5-.2 .8-13.5 .7 15.7 .6 3.6 .6-8.4 .1-4.9-.4-7.7 1.7 4 0-5.3 .2 13.5 1.6-4.5-.3-7.1 1.1 13.2-.8 3.3-.1-9.5 1.8-10.5-.2 3.7 1.4 .7-.8-1.4 .9 9.3 .6 .2 1.1-11.5-.2 13.4 .5-7.5 .3 6 .8-12.1 .7-11.7 .2 3.6 .6 10.4-1.5-1.2 1.7 3.6 1.5 1.3 .7-8.1-.2-2.7 1.1 7-.8-9.7 .5-1.6 1.2 4.4-.1 4.7 .3-2.9 1.3-5.8 .5 5.1-.1-9.5-.4 9.3 1.8-15.5 .2 20.2-.3-15.7 .5 6.9 1.6-7.6 .7 5.7-.2 4.5 .7-18.6 1 24.5-.1-18.6 .4-2.8 .6 13.4 .4-12.3 .1 7 1.4-.6-.5 9.9 1.3-9.8-.1-1.3 1-11.6-.9 6.4 2.5-.3 0 5.3 .1 4.7 .1-18.2-.1 10.1 1.6 9.5 1-15.4-.7 7.4 .7 1.3 .6 11.7 .8-10.3 .7-8.5-.2-2.9 .2 4 2.1 6.9-1.3 2.7 .6-12.6 .7 2.8 .4-7.1 1 7.1-.3-10.1 1.6 7.5-.6-3.8 .7-1.1 1.6 9.2-.3-18.5 .9 15.6 .1-6.6 .8 4.6 .1-7.8 1.6-17.4-1.2 17.1 1-4.8 .5-1.9 1.5-.3-.9 8 .5-13.6 1.8 9.2 0 12.5 .2-2.9 .4-12.3 .5 11.8 .8-15.4 .5 8.1 .5-1.2 .3 6.1 0-18.2 .4 26.8 .9-13 .9 .1 1.3-2-.6-.7 0 32.8 1.3-33.7 0-7.2 1.3-7.2 .4 20.2 .6-5.3 .2-8.2 .3-2.3 .9 6.4 .8-10.2-.4 9 .6 5.5 .3-19.9 .1 7.4 .8 6.2 .1 2.9 1.2-3.6 1.4-5.2-.2-6.2 1.2 5.3 0-18 1.7 9.8-.7 11.7 .4-7.4 .2-2.7 .9 12.9 .4-14.5 .9 8.6-.2 .7 .7-5 .4-.9 .9-7.2 1 17.2 .2-11.7 .6-4 .8 10.4 .2-5.8 .9 2.7 .7-11.5-.8 11.9 .5-9.5 1-4.5 .5 30 .9-28.2-.2 .5 1.4-3.7 .5 14 .4-17.7 .5 3 .8 6-.3 4.1 .4-16.9 .4 19.2 1.3-7.9 .5-12.5-.6 10.3 .5-.2 1.6-3.6-.2 .1 .5-6.9 1.6 11.4 .5-.1 0 6.5 .1-27.7 1.8 17.1 1-6.1 .6 9.4-.3-18.7 .2-3.5 .7 15.9 .4-4-.2 .4 1 3.5 1.3-4 .6-13.5-.4 12.2 1.2 3.7-.4 5.7 1.7-10.9-.4-.3 1.3-8.7 .5 9.4 .7-4-.4-2.7-.1-3.6 1.6 17.8 .6-7.7 .4-12-.3 8.4 1.2-5.1 1.2-3.8 .3 14.9 .1-13.6 1.1-6.3 .4-1.8 1.1 10.1 .4 3.7-.2-5.8 .9 6.1 .4-10.1 .8-22.7 1 18.1 .1 33.7 .5-34.5-.1-12 .6 13.7 1.5-3.9 .4 4.4-.1 5.4 .7 1.2 .4-6.7 1.5-5-.4 6.5 .1-1.9 .7 3.2 1.3-5-.1-1.6 1.6-.2 .1-2.5 .8 5.7 .1 .5 1-9 1 17.9-.7-2.6 .7-15.6 .5-3.6 .3-3.2 2 5.3-.2 10.7 .8-17.3-.1-2.6 .2 13 0-10.6 1.7 13.4 .1-.9 1.1-5.2 .4-9.2 .6-.8 1.6 8.7-.9-1 .9-11.1 .5 6.2 0-8.6 1 3.9 .7 3.4-.1-2.3 1.3 2 0-8.1 1-8 .9 15.3 .5 4.7 1.2-24.1-.5 38.8 .1-26 1.4 3.7 .5-6.1 0-1.2 .4 .4 .1 1.6 1.1-3.1 .6 4.6 .7-23.5 1.1 16.4-.5-1 0-.5 1.9 4.3 .6-4.3 .1 8 .1-3.9 .6-6.1 .4 2.4 1.8-4.4-1.2-8.4 1.4 3.6 1 42 .4-35.1 .3-12.3 .9 9 .4-11.3 0 1.3 1.3 3.9 .3 8.3-.1-15.9 1.6 9.5 .7 1.8-.4-20.6 .3 12.5 2.2 1.8-.5-9.9 .4 15.7 .5-16.1 1.3 14.2-.1-13.1 .3-.8 1 12.8 .6-8.8 .3-5.5 1.2-3.5-.2 11.7 1.1-2.7 .5-16.6-.1 7 .8-.3 .3 1.8 .8-1 .9-6 1-2-.6-1 1.1 10.6-.4-5.7 1.8 3.1 0-3 0 3.4 .7-.3 1.1-6.4 .2-4.2 1.8 3.4 .2-3.3-.5 8.3 .9-8.2 1.7-1.9-.1 .7-.1 6.9 1.1-13 .4 2.7 1 1.5 .5 9.9 .3-14.8 .9 .3 .8-5.1 .5 14.2 .8-6.4-.9-2 .6 2.2 1.3-5.7 .4-3 1-7.2-.3 7.8 .8-5.2 1.7 11.4 .1-11.6 .7-2-.1-1.5 1 7.3-.3 6.5 1.4 13.6 .9-38-.4 13.1 1-.4 .6 10.9 .3-11.2 .5-11.3-.2 3.5 1.3-3.8 .9 10 .3 .6 1.4 1.9-1.7-3 2.2-12.2-.6 1.5 1.4 2.9 .7-1.5 .3 .8 .5 9.6 .5-15.8 0 1.1 1.8-1.2 .3-3.6-.1-2.8 1.6 2.2-.8-4.6 2.5 33.1-1-33.9 1.4 1.5 .4-4.7 .4 9 .1-11.7 1.6 15.2 .4-13.2 .1 8.6 2-17.5-.9 9.1 .5-.9 0 1.8 1.5-5.5 .6 8 .4-7.8 1.4 3-.6 3.1 1.2 4.7 .7-3.9 .4-6 .3-5.2 .6 6.7 1.2-4.2 .3-3.7 0 4.9 .6-.1 .9 .2-.1 .1 1.4-12.8 1.4 5.4-.5-2.6 .8 1.4 .7-6.5-.2 6.5 1.7 4-.4-3.8 .7-15.2 0 9.2 .4 2.9 2.8 6.4-.6-11.8 1 1.7 .5-1.7-.9-4.8 1.3 4.9 .8 1 0-4.5 2.1 6.2-.2-7.8 .5-1.2-.6 3.8 1.8 2.3-.2-7.6 1.5 6.5 .3-1.9 1.7-5.9 .4 7.2-1-4 1-.7 1.8-1.6-.3-15.6 .9 8.3-.6 11.9 1.1-13.9 .8 7.2 .5-13.9 .4 9.7 .3-7.7 .3 2 1.3-4.6 1.2 5.3 .3-4.1-.4 2.8 .9-3.1 1.4 2.9 .5-6.6 .3 2.3-.1-12.1 .8 12.9 .7-4.6 .6 3.5 1.4-1.3-.4 3.6 .3-14.3 .1 2.9 2.1-5.8 .2 5.9-.2 3.5 1.4-2 .1-.1 1.1 2.8 .6-7.2-.8-1.6 1.6 6.2 .7-.7 .8-15.4-.3 10.2 .7 1.9 1.1-7 0 .3 .5 2.2 .5-9 .8 1.9 .1-.2 1.6-1.1-.5 6.9 1.4-1.4 .8-8.7-.3 12.5 .8-18.6 1 7.8-.2-5.1 1.4-1.8 .5 1.8 .6 8.8 .3-5.9-.3-5.9 .9-2.1 1.5 1.7-.4-4.4 .9 10.7 .5-13.4-.5-3.4 2.3 8.8 .2 10.2 1-14.9-.3-2.5 .7 1.9 .1-2.4 .3-.2 1.5 3 0-1.2 .3-9 .9 2.2 .6 5.5 .6-15.1 0 3.4 .9 4.4 .5-2-.1 7.9 1.2-8.9 0 4.8 .1-7 1.5-4.3 1.5 10-.2-11.7 1.3 6.6 .1-2.1 .2-.4 .4-4.7 .4 .8 1.2-.1 .4-5.1 .6-.5 .2-3 1.8 2-.3 7 .2-5.7 1.3-3.1-.2-6.9-.2 2.7 .8-4.6 1.5 2 .5 1.3-.5-6.9 1.6 1.2 .3 4.2 .3-3 .4-2.9 .8 4.7 1-1 .2-14.8 .7 7.9 0 9.1 1-9.8 .3-7.3 .5-.2 .1 .4 1.5 7.6 .8-2 0-4.6-.1-3.4 1.8-2.9-1.2 7.9 .3 .1 1.8-11.4 1 16.1-.2-7.5 1.2-3.5-.1-19.1 .3 20 .4-5 1.2 3.1-.1-8.4 .5-4.6 1.3 3.3 .2 8.8 .5-8.5 0-.4 .6-4.4 .9 4.3 .5 7.2 1-13.1 .1-1.2 .4-6.8 .6 7.9 .5-1.2 .7-9.5 1.3 8.4 0-6.6 .8 9 .1-3.5 .8-4.2 .2-6.5-.4 4.4 1.8-4.1-.4 32.3 .8-27.2 .6-3.3 1.2-4.6-.3 2.1 1.1-3.7 0 9.8 .9-7.6 .6-7.4 .1-1.4 .8 9.9 .5-6.4 1.3-2.1 .1-7.8 .6 9.4 .4-9.6 .3 6.9 1-1.2 .5 .6 .5-3 .4-1.8-.6-9.5 1 6.3 1.5 6.7-.5-6.6 1.3 1.9 .2-4.5 .1-2.9 .5 2 .5-7.4 .2 5.6 1.1-6.6-.2 7.5 1-7.8 1.6 1.3-.3-2 1.4-4.8 .7 3.4-.4 1.7 .5-1 .6-4.6 1-5.7 0 7.5 .9 7.4 .2-5.7 .1-7.3 1.5 1.1 .1 .7-.2-1.4 .9 .3 1 .1 .9-5.5 .5 6.6-.1 1.4 1.1-12.1-.2 .6 1.1-4.1 0 5.3 .6-5.6 .6-2.6-.1 4.2 1.2-.6 .8-4.7 0 6.1 0-.8 1.4-6.8 1.5-2.5-.3 3.5 0 19.8 1.3-25.7-.5 .3-.3-2.9 1-1.4 1-2 .1 1.7 1.8-4.6-.2 3.3 .5-5.1 .9 3.3-.3-3.9 1-.7 .5-2.4 .5 4.9-.2 5.9 1.7-1.1-.2-5.2 .8-2.9-.1-4.6 1.2 25.1 .4-26.3 .5 9.4 1.5-5.2 0-2-.3-1.1 .8 1.3 .6-14.6 .8 8 .4 7.2 .8-7 .6-.9 .7-11.5 .3 9.8 .7 1.5 .1-6.3-.1-2.6 .6 1.5 1-1.8 .4 10.1 .6-11.3 .1 3.2 .9 6 .6-3.7 0-4.9 .9-2.3 .9 5-.7-8.7 1 4.3 .5-5.9 .6-14.6 .4 20.3 .8-8.7 0-3.1 1.9 2.9-1.2-.4 1.5 .7 .1-4.8 .5 2.6-.1-2.3 .2-.8 1.3 4.7 .4-6.5 0-1.3 .9-7.3 .8-.6-.4-.2 .3 4.9 .8-3.2 1.1-4 .1 4.1 .5 3.3 1-5.6 .6-4.7-.2 7.5 1.1-10.7 .4 4.7-.1 .6 .4-2 1.2-3.7-.5-2 1.4 .5 .8-1.2 0-.6-.4-2.2 2.1 6-.6-14.6 .5 12.8-.2-9.5 1.2 1.5 .5 2.1 1.5-8.8-1.3 7.2 1.7-5.8 .1-1.4 1.1-.4-.7 4.3 1.2-6.5-.2 4.1 1.5-6.6-.6 1.5 1.3 1.3 .5 1.9 .6-8.7-.5 1.2 1-.4-.2-2.9 1.4-4.7 .8 8.2-.8 .1 1.5-10.7 .6 6.3-.3-4.7 1.5-3.6-.8 6.5 .7-5.1 1 3.5-.1-4.8 .7 2.2 .1-.2 .1-5.8 1.7-2.1-.6 3.2 1.1-3.3 .5-7.1 .1 0 .8 1.6-.7-6.8 1.2 6.7 1.2-6.7-.3-1.1 .8 5.3 .5-.9 .3-2.2 .3 1.9 1.3-4.8-.5-.2 1.2 .3-.1-2.3 1.4 .1 0 1.2 .3-4.5-.1 5.6 1-1.1-.2-4.3 .5 .5 1.9-5.6-.9 3.3 .4-4.8 1.5-2.5 0-13.3 .9 10-.9 7 .6-2.2 1.1-3.5 1.2-.7-.8-1.4 .5 .5 .7-2.8 .8 .7 1.1 .6-.6-3.7 1 1.4 1 2-1-4.1 .9 4.6-.1-4.8 0-3.6 .9-2.1 1-2-.9-2.8 1.8 .6-.1 1.1 1.9-.7-.7-1.3 1.2 5.6-.8-9.2 .6 15.2 1.1-16.5 1.1-5.2-.5 3.4 .8 5.6-.9-4.9 1.4-4.4 .1 7.4-.3-9.4 2.1 24.3 1.1-21.9-.2 2 .2-3.1 .1-4.2 0 3.1 .5-4.5 .4-.1 .6 3.8 .5-1.8 1.2-7.2-.9 .8 .3 3.5 1.2-2.5 .5-4.6 .1-1 .3 1 .8-1.4 .4 2.5 .2 .1 1.3-4.9-.3 0 .1 .3-.3 .9 1.2-6.8 .9 .8-.2 .8 .2-.3 1.4-.3-.9 .9 1.8-6.8 .2 1.8-.4 0 .9-1.7 .6 1.8 .2-2.5 .4-1.8 .8-1.3 .9 7.4-1.1-7.5 .9-3.3 .2-1 1.1-.2-.4 1.7 1.3-6.2 .7 4 .5-6.3 .8 5.1-.5 2.2 0-5.2 .5-1.3 .7 1.1 .8-3.8-.4 1.9 .4-7.2 .8 5.5 .4-3.4 .5-3.6 1.1 5.8-.6-5.4 .3-3.9-.2 7.8 1.4-2.9-.1 2.4 .8-6.1-.2-.1 0-6.8 1.1 3.7 .5-3.1-.3 1.8 1.6 2.5 .1-4.5 .2-3.1-.1 3.4 .7-2.6 .6-2.4 1.2 .7-.4 .7 .2-4-.4-1.4 .8 1.5 .8-4.2 .4-2.4 .2-1.3-.3 6.9 1.5-5 .3 6 0-4.7 .9-2 .1 3 .2-1.9 .4-5-.3 1.4 .4-.1 1.8-4.3-.4 1.1-.2 .9 1.1-3.5 .1-1.3 .3 .2 1.4 2.7-.7-3.3 .8-2.2 .3 .5 .3-1.7 .8-.3 .7-.9 0-1-.1-3.8 1.3 3.4 .2 1.6 .1-6.2 .6 5.1 .4-5.9 1.1-1.4-1.2-.5 .7 1.1 .7 .4 .5-3.2 .3-1 .6 0 .6-3.7-.8 3.1 1.4-4.8 0-1.6 .3 5.5 .1-2.4 1-1.4-.7 1.8 .8-3.3 .6 2.1 .4-8-.2 1.3 .3 1.9 .8-4.1 .7 3.1-.6-6 .8 4.3-.2-5.1 1.5 1.1 0-3.8-.5 .6 .3 1.7 1.1-1.8 .6 .7-.9 .1 1-8.3 .8-4.3-.7 5.7 0 5.6 .8-3.4 1.5-4.3 0 0-.5 3.2 1-3.7 .4 .7 0-2.8 1.6 1.1-.3-3.9 0 1.2 .9-3.4-.4 5.6 .8-3.2-.1-4.1-.1 3.4 1.3 .2 .3-2.8-.2-1.6 .2-4.4 1 3.8 .4-1.5-.6-1.2 1-1.1 1-2.6-.6 2.7 1.2 2.2-.6-3.2 .7-2.1 .6 .7 0-6.8 .2 1.2-.3 2.9 .9-.2 .3-.4 .1-5.3 .3 5.3 0-2.9 1.6-2.6-.4-4-.4 3 1.4-2.3-.6-.6 1 1.3 .6-1.3-.2-.8 .1-.9 .5 2.1 1.1-1.8 .2-4.1-.4 3.2 .5-6.9-.3-3.4 1.2 4.4-.4 7.6 .4-7.8 1.1 3.3 1-4.7-1.8 1.1 2.2-8.1-1.1 6.1 .3-1.7 .8 1 .9-1.7-.2-4.2 .2 4.1 .5 4.1 0-4.4-.6-5.7 .5-3.7 1.6 1.1 .1-1 .4-.3-.1 3.5-.5-5.3 .6 0 .8 4.8 .2-4.2 0-.9 1.2 0-.4 2.5 .5-2-.7-1.4 .5 1.2 .7-.7 .4-2.2 0-2.8 .7-1.9 .3 .6 .3-1 .2-3.5 .8 3.4-.6 .9 .2 7.7 .9-8.5 .1-2.5-.5-1.6 1 1.7 1.1-5.2-.9 1.4 .6-.4 .5 2.4 .9-2-2.2-.6 2.3-.1 .2-4.2-.2 3.3 .5-11.5 .9 8.2-.7-1 1.4-1.5-.3 .4-.4-.5 .3-.1 1-4.8-.2 .8 .8-.6-.1 1.3-.2-1.6 .8 1.6 .4-4.6 .6 1.7 0 1.8-.2-3.7 1-2.4 .2-.7 .4 1.1 .2 2 .3-.4-.1-4.6-.3 2.7 1-3.3 .7-1.6-.9 4.5 0-3 1-1.5 .6 .1-.4 1.3-.1-1.5 1.8-2.5-1.5-.2 1.1 1.1-.1 3.6 .5-7.1-.1 16.9 .6-17.7 .7 .7-.5 2.4 1-2.5 .1-1.8-.2 .6 .7-4.2-.5 0 1.3 4.1-1.3-3.9 .9-1 0 .6 .5 1.5-.9 1.8 2.3-5.5-.1 .7 .2 1.8-.2-2.3 .5 .1 .3-8-.2 4.7 .9-.7-.2 1.2 .6-1.1-.7-2.5-.2 4.9 1.9-3.8-.6-3.8 0 3.7 .3-3.8 1.3 .6 .2 7.7-.7-11.2 .3 2.8-.2-3.5 .2 3.1-.1-4.5 1.1-3.2-.2 1.3 .3 4 1.3-3.4-1.2 1.2-.1 1 1.4-1.7-.9 9.5 .5-15.5 .3 3.6-.9-2.7 1.3-16.2 .7 17.6-.6-.3 .6-1.8 .4-2.9 .3-.2 .2 .9-.7 1.9 .5-5.9-.6-2.7 2.1 2.1-.7 .5 .4 .2-.9 1.2 .9-4.2-.2-2.5 .1 1.1 .8 3 .5 2.6-.1-6.8-.1-3.8-.2 4.1 .7-.9 .3 .8 .1-1.8 0 1.7 .6-3 .4-.4-1.2 .2 1.5-2.4-.5 .6 .2 1 .8-4.5 .4 2.4-1.1 1.5 .4-1 1-1.3-.9-2.2 1.2 5.8 1.1-6.9-1.7 1.7 .3-1.1 2.2-.1-1.6-.6 1-2.4 .1 1.1 0-2.1 .4 1.2-.9 2 1.7-6.7-.6 1.6-.5-1 1.5 2.2 1.1-1.1-1.1-.6-.6 .3 .9-1-.7 1.8 1.5-.5-1.6 .5 .6-1.3 1.4-1.8-.7-1.1 1.4-.8-.8 1.2 .1 .3-.3-.8 .8-1.5 1 3.3-1.5-1.6 .6-3.5 1.3 3.3-.6-3.9 .3-1-.3 1.7-.3-.8 1.8 1.4-1.5-1.1 .1 1.6 1-6.8-.2 4.6 0-1.1 .4-2 .8-1.2-.3 2.2-.1-1.2-.3-.7 1.2 2.2 .8-2.1-1.4 2.1 .5-2.5-.7 1.3 1.3-5-.2-2 .5 4.7 0 2.1-.1-5.7-.4 1.5 1.2 1.2-.6-1.7 .7-.9 .2-.3 .4-1.6-.1 1.9-.5 2.9 1.1-5.7 0 .5 .4-2-.2 3.8-1.3-.8 1-2 .1-2.4 .5 1.2-.4 .1 1.5 1.3-1.2-1.7 .1 1.3 1.6-.7-.1 .1-1.4-2.5 .5 2.4 1.2-.3-.8-.3-.3-2 .9 1.7 .3-3.2-1-.9 .9 2.9-.1-2.2-.2-2.2 1 .6-.9 4.2 1.5-4.2-.5 1.4-1.1 2.4 1-6.1 1.2 2.8-.8-1.5 .5 0-.1 1.9-.3-6.7-.5 5.6 1.3-3.8 1.2 1-1.2-1.7 0 3.3-.2-.7 1.4 1-1.4-.5 1 1.2-.2-1.2-.1-1.9 .5 .5 .2 0-.7-1.1 .9 .5-.9-.6 .8-2.3 0-1.7-.3 1.8 .7 .5 .5 .9-.1 2-.3-1.4-.3-3.7 .3 1.8-.7 1 1.2-.5 .6 .3-1-5.4-.1 2.8 .1-3.5 1 4.3-.2 2.8-.6-3.9 1.1 .5 .1-1.9-.7 .1-.2 4.7 .2-5.8 .5 2 .2 0-.2 3.3 .4-2.6 0 .3 1-2-1 .1 1.3 2-.5-2.3-.9 2.4 .3-4.3-.7 2.4 1.6-.8-.3 1.1 0-2.8 .3 2 .2-1.7 0 2.2-.7-4 .3 2.2-.2-1.5-.2 1.9 1.2 4-.1-5.7-.5-.6 .5-1 .1 1.4 .1 2.5-.6-1.1 .4-2.3-.1 13.3-.9-10.7 1.3 .3-.2-.8-.6 .9 .1-2.8 .5 2.2-.5-1.1 2-2.6-1.2 2.6 .7 3.2-.2-4-.3-.4 .6 .4 .2 1.4-.9 .8 .2-3.7 .9 1.4-.9-.9 .3-1.5 .9 2.3-1 6.6 .8-8.1-1.6 2.8 1.7-1.2-1-1.4 .5 .7-.9-.1 1.4 3.2 .8-1.5-1.4-.9 .2-2.5 0 0 1.3 .8-.6 .6-.7 .5 .6 .2-.6-1.3 .7 0-.9 3.3 .8-3.9 1.2 .3-2.1-.8 1.2-.6 .1 2.5-.4-3.2-.3 .7 .3 2.2 .1 .2 .1 .1 .1 .3 0-.1-.5-.9 0-3.4-.2 3.4-.2-.7 1.1-.7-.3 .8-.7 2.2-.4-1.5 1.6 .9-1-2.1 .2 1.6 1.3-1.9-1.3-2.1-.2 4.9 .3-53.8-.8"/>
<path class="c" stroke="#0f0" stroke-width="1.7" d="M280.3 2269.5l-.8-.3-.6 4-5.3-3.1 6.7 2.6-6-4.8 7.4 0-.5-2 .8 3.7 .2-1.2-.9-3.5-1.7 4 .9-2.1 4.7 .2-4.6 3.3 1.3-1.6-.7-1.8 1-2.6-.1-2.8 3.1 .5-.8-.1 .5 3.1 0-6.1 2.4 0-2.7 .3 4.1 0 3.8 .6-4.2-.5 2.6-4.7 7.7 3.9-8.2-4.2-.6-4.8 2.3-1.7 7.9 0 1.5-.9-6.7 1.1 5.3-5.3-.2-.9-.1-2.1-1.8 1.2 12.3-5.7-9.8 3.3 7.4-4.9 1.1-.2 5.9-.2 0-2-4 4.2 3.9-10.6 4.9-4.6-3.9-.1 4.1 3.3 3.3-6.5-2.5 3.1 2.9-5 1.3 .4 7.3-7.5 .5 4.2 6.2-1.8 .6-7.1 3.8 3.3 1.1 1 4.7-8.5 .8-4.4 .7-1.4 8-1.6 5.9 .8 2.5-.3-2.8-7.7 2-2 1-5.2-2.7-.3 9.2-.1 7.5-8.5-3.3 4 2.3-2.1 11-1.8 .4-6.9 3.9-5 3.2 .4 4.1-4.5 5.4-4.4-1.4-.2 7.6-4.2 3.4 5.2 8-5.6-1.2-2.4 10.6-7.6 1.7 3.2 6.6-7-2 0 7.1-7.5 2.5 .9-.9-8.5 6.6 .5 3.2-3.2 2.4-5.8 4.2 .2 2.1-4.6 6.1-2.7 5.7-.5-1.4-1.8 5.1-6.7 14.1 .3-3-3.8 5.2-3.9 3.6-1.2 3.5-10.7 7 3.5 1.5-5.5 5.6-5.2 .7-2.8 3.7-.5 7.3-3 9.7-4.5 .2-7.9 8.5-4.1 .8 .1 5.7-1.8 3.4-6.4 7.3 .6 10.4-3.9 4.5-3.6 1.7-6.2 6.4 1.5 10.4-3.9 1.1-2.5 9-5.7 1.1-7.3 9.2 .5 7.7-2.2 3.9-5.9 4.1-5.8 5.4 .6 5-3.2 5.8-8 8.5-2.2 5.4-5.2 3.6 .7 1.5-3.8 7.3 .2 7.4-9.9 4.9 1.9 2.1-7.2 12.8-2.4 7.7-7.1-3.6-.5 8.6-4.8 9.2-2.6 .7-2.8 5.5-2.8 6.9-2.7 6.6-5.5 3.3-5.6 8.9 1.1-1.3-5.8 11.7-5.2 5 1.3 4.3-6.1 6.9-2.5 4.8-9.3 8.6-.9-.3 2.8 8.2-7.1-2.6-3.5 11.5-6.3 7.9-2 2.7-2.2 7.6-4.5 4.6-3.5 7.8-7.3 7.3-1.1 7.8-2.6-1.2-.9 9.9-3.5 8.3-4.6 6.6-5.1 5.4-3.4-1.5-1.1 7.5-7.2 7.9-.6 6.1-3.6 3.7-3.2 5.1 1.2 5.2-7.6 2.7-.9 7.4-1.5 6.3-5.9 2-4.6 8.2-6.3-4.9 3.6 10.6-9.8 9.5-5.5 2.6 4.1 5.9-9.3 1.2-2.6 .9-2.1 5.8-4.3 9-5.6-4 2.4 6.2-2.5 2.2-2.5 6.9-5 4.2-4 6.4-3.4 1.6 1.2 11-3.8 2.3-5.9 2.2-1.1 0-6.4 7.1 1.2 8.6-6.6 9-.6-1.6-3.2 1.4-8.7 5.8 5.1 2.4-4.5-.8-4.7 4.3-2.6 7.7-1.4 7.1-2.9 2.6-1.2 2.7-3.5 1.4-1.6 3.8-3.5 8.1-6.5-3-2.6 4.6 2 2.1-2.6 7.4-3.4-1.3-5.5 7.5-.9 3.9-2.6 3.5 1.2 3.1-5.8 .2-3.6 2.7-.9 3.3 .3 3 .8 1.1-7.1 2.9 1.7 3.8-5.9 2-2 5.9-3.1-.1 1.9 5-5.1 5.5 1.5 3.1-5.2-1.5 3.2 5-5.4 .7-2.2 16.3-4.8-8 4.2 1.2-4.1-.7-2.2 2.1-1.8 4.2-2.8 .8-1.7 1.7 .6 4.4-4.3-2.6 .1 .2 4.3 4.4-7.1-2.5-1.8 8.6 1.5-.1-5.8 3.3 4.4-2.7-4.6 10-4-1.1 1.3-1.5-2.5 4.3 2.2 3.6-3.8 .4 1.8-.9-7.3 2.9 2.5 1.9 1.5-3.9-1 .5-1.9 1 .8 7-.7 2.1-2.6-2.3-.2 4.2 .9-.4-2.3-1.8-7.1-1 1.8 1 1.7 2.3 2.7 3.8-1.9-.8 .9-4.7 .5 .6-1.4 5.3-3.8-1.2 4-2.5-5.5 4.2 0 1.8 1.9-1.2-4.5-1.6 9.3 3 1.6 4.2 5.3-.5-.4-4.1 2.2 6.1-1.5-3 2.7-1.3 2.3-.6-4.1 2.2 2.1 .3 2.2 0-1.3-1.4 .7-2.9-2.6 12.1 1.9-6.6-2.8-3.6 5.1-2.2-.5 .5 .7 3.6-4.7-.8 7.5-.9 2 1.7 .5-4.6-1.3 4.2 2.9-3.5-2.1-2.7-.6 2.4 2.4-1-.5-3 6.9 5.3-8.7-8.8 7.5 3.8-1.4-.3 2-3.3 4.3 1.1-.6 2.2 4.2-6.5-1.5-.8 1.4 1 2.1 1.2 4.2 .6-3-2.1 2.5-5 1.1 4.2 1.8-2.2-.1-.4 3.9-7.7 3.5-1.4 4 1.1-.3-.8-.6-.3 6.6-4-5.5-1.3 7.2 2.1-2-7.5 4.6 .7-.8 1.4 1.7 .2 4.5-2.7 7.6 1.6-1.1-4.7 3.5-.7-.6-1.7 3.1-4 .4-5.5 2.8 .2 2.9-2.1 5.4-4 .9 1.4 0-5.3 3.7-4.7 .9 1.1 5.8-4.9 1.9 2.6 2.6-11.4 3.6-.3 2.4 1.6 4.7-2-2.4-2.9 6.2 .9 .6-6.8 5.4-5.6-.5 2.9 .1-5.4 5.8-.1 2.4-1.5 1.8-6.1 4.6-2.7 6.6-3.9-.5-.4 5.4-2.1 4.7 1.6 2.3-6.8 1.8 .5 4.2-7 0-2.8 1.2-3.7 2.7 .9 8.9-5.6 4.2-3.6-.5-5.3 4-.3-2.2-.7 10.4-11.2 1.4 .4-.8-2.7 8.9-2.9 3.6-1.1 4-4.2 1.2-1.9 4.3-2.8 .8-.5 8.8-6.8-.6-1.7 7.3-4.4 1.9-2.2 1.7-4.3 7.2-9.3-1 4.3 5.9-2.4 3-8.8 2.8-1.8 4.3-4.1 4.7-9 1 5.6 3.3-5.2 4.2-4.8 2.8-4.5 2.5-9 6.4-8.3-1.1 1 7.3-4.1 2.6-5.6 5-5 4.2-1.3 3.1-5.1 2.9-6.6 6.7-5.4-.6 2.5 2.1-7.5 5.9-5.9 5.8-7.4 6.3-4.7 4.3-7-.2 1.8 5.5-2.8 4.8-5.5-1.2-4.2 8.2-4 1.2-3.2 2.3-10.8 5.2-3.3 3.9 .4-2.6-6 8.5-4.1 4-8.2 1.4 .4 5.6-9.2 2-6.8 2.5-7.4 5-3.4-.9-6 9-6.6 3.6-1.7 2.9-6 4.1-7.7 1.3-8.3 3.2-2.4 .7-2.9 3.6-12.3 5.8 2.6 7.4-6.1 1.3 .8 6.7-8.8 2.2-6.5-.8-6.3 4.2-8.4 2-6.9 2.3-5.3 7.1-11.3 4.1-2-.6-10.6 7.7-4.4 2.7-6.7-.3-2.2 5.4 2.2 .2-11.3 5.5-9.9 4.4-4.8-2.4-4.7 11-5-4.3-3 7.4-6.3 1.8-6.8 6.3-.7-1-8.3 3.9-3.9 11.4-10.8-.4-4.4 .9-6.6-.8-6.4 5.4-8.9-1.9-2.9 4.9-9.9 5.6-1.5 3.7-2.4 .1-6.7 5.3-6.2 3.1-7.9-1.5-2.7 5.6-9.6 2-5.6 6.2-5.3-3.6 .1 6.7-11.2 1.1-1.2 7.7-4.6-7.7-6.3 11.9-7.4-2-4.2 4.1-8.9-2.3-1.3 3-1.1 4.9-5.1 3.3-11.8-3.6-.8 6.7-5.1 2.8-1.4 3.1-5.9 4.3-5.5 1.4-5.8 .9-2.7-.1-5.2 1.2-3.9 6.2-4.9 5.4-6.8-1.3-.4 4.2-4.1-2.8-4.5 6.9-3.8-.7-1.6 2.8-4.1 3.2-2.4 2.2-6 .7-3.3 2.2-5.5 1.7-6.1-.6-3.8 2.7 .8 2.5-4.2 5.6-2.2-5-9.9 4.8 1.9 3.7-2.2 .9-4.1-2.2-2.7 .8-6.5 3.2 1.3 3.5 .5 2.6-8.3-.9 1.4 2.1-5.6 .2-.3 .3 .6 6.1-5.6 2.5-.6-3.2-1.1-.5-6.5 4.6 .5-4-10.3 1.3 1.6 4.5-6.1 5-1.4-4.3 1.4 1.9-5 4.4-.1-5.6 2.1-.1-2.9 9.5 3.3-2.2-11.7-2.7-2 2.7-8.4 1.5 3.7-2.3-3.1 7.1 .3-9.4-2.8 8.1-3.4-2.4-4.7-.2 5 .6-4.8-1.8-3.7 1.3 3.9-.4-6.7-2.1 2.4 5.1-4.3-4.4 3.6 1-3.9 7 10.6-5.7-4.5 4.9-1.8-.4-.4-2.7-12.3-8"/>
<path class="c" stroke="#00f" stroke-width="1.7" d="M345.2 2234.1l-2.3 2.8-3.5-.2 2.6-1.3-.1-2.7 .7 2.3 2.5-1.1-3.9-2.3 6.1 4.6-4.2-4 3.2 1.1 6.7-5.4-2.6 1-2.1-1.8 7.2-2-2 2.1-1.7-2.2 3.9-3.8-.5 .1 4.8 .4-2.4-1.7 6.2 3.4-3.4-12.6 12.7 6.6-4.1-2.2 4.5-2.6-2.9-5.1-8.8-2.1 11.4-5.4 4.9 4.2 7.6-5.1-1-2.3 4.2 3.4-2.7-9.4 3.4-.1 3.1-.8 6.3-4.7-1.4-1.4 3.5-3.3 7.2-2.9-3.5-6.9 4.6-3.2-.5 3 5.3-4.8 5.3-5.1 3.6-4.7-3.4 2.1 .2-8.1 12-4.9 7.5 1.8-.8-8.8 7.2-1.7 4.5-2.2-.2-6.8 4 0 11.4-3.6 6.7-3.1 .5-5.6 7.8 .8 3.3-8.2 4.1-5.2 3.8-2 10.5-6.3 1.9-9.3 4.2 5.3 4.1-12 7-4.8 3.8 1.8 7.7-6.9 3.8 .3 8.9-4.4 4.6-4.2 8.3-7.8 .2-3.1 4.1-8.6 7.2 .5 12-6.8 .1-4.8 6.7-4-5-4.9 10-3.9 8.1-3.6 10.5-7 4.7-5.6 18-6.9-4.1 3 11.3-8 4.2-6.6 8.4-7.9 3.5 .7 8.9-9.4 7.7-.7 5.9-6.4 12.3-.9 .9-8.7 10.6-6.5 7.4-7.3 8.2-.7 4.5 .9 11.8-8.3 3.8-6.5 8-.7 6.3-9.4 8.7-.6 9-10.7 13.3-4.5-6.1 .6 15.7-10.5 7.1 1.5 8.6-7.5 4.2 .2 7.7-11.1 10.2-3.9 3.1 .1 7.2-10.4 6.6-2.4 8.1-7.6 10.1 .3 .5-7 15.9-7.4-5.7-1.6 13-7.3 4.2-.2 10.4-9.3 5.1 4.6 6.1-4.8 5.7-15 5.5 1.5 .4-7.7 12-4.2 .6-5.7 11.2 2.8 1.2-13.1 6.9 4.8 4-12.8 6.6 2.4 5.4-6.9 7.5-4.8 2.8-4.8 18.9-2.3-4.7-1.9 8.9-.5 .3-12.4 11.5 1.7 6-5.2 4.8-5.3 2.5-2.2 4.1-3.4 1.3-5.8 4.6-2.6 4.5-1.5 4.7-5.4 1.7-1.1 6.3-6.5 6.7-.3 3.5-2.5 3.7-3.2-.7-3.4 10.1-3.5 3.9-3.5 7.1-4 .4-2.7 6.2-.7-1.7-6.8 11.2 5.4-3.9-10.1 6.6 .7 2.8 1.3 2.9-1.1 3.9-4.9 2.6-3.6 4.6-5.9 3.4 2.6 4.9-3.7 3-4.7 4 1-.5 1.7-.6-2.7 10-2-1.9-.4-5.2-2.3 10-1.8-.2-2.8 .5-.2-.6-2.6 5.9-1.6-.5-1.6 3.9 5.3 .4-3.5 1.2-.2 2.6-2.7 .7-.1 3.9-2.9-1.9-.2-6.7 3.3 6.7 2.1 4.5-9.9 .3 2.7-5.8-.3 3.6-1.2 1.3 11.5-1.5 6 .2-3.2 3.1-3.5-4.8 3.4 11.8 2.3-6.6 3.1-3.1-5.9-1.9 4.6-.2 2.9 2.1-9.3 3 7.7-1.6 3.1-1.2-.5-5.4 .4 1.6-1.3 1.1 5.8-1.6-.4-.9-.7-2.1 5.5-1.5 1.7-.2-.5-.5 4.1-1.7 .6 1.6 1.6-5.5 9.3 5.3-4.6-4.9 .7-3.2 4.9 .5 3.4-3 .1-7.3-1.7 .2 6.9 2.1 .9-4.7 2.5 .6 7.1-7.3 2.5-1.1 1.6-3.7 5.4-1.5 1.4-6.3 3.7-.8-.3 1.6 4.2-8.1 2.6-1 8.2 .1-2.7-.4 6.8-3.9-1.5-1.5 9-9 0-2.5 2.6-1 8-5 3.2-6.9 2.3 1.3 3.2-3.9 4.7-8.8 7.5 3.1 .2-4.1 2.3-1 9.3-3.9-1.9-1.7 8-4.8 6.9-8.6 1.7-6.8 7.4-1.6 7.1-1.3-4.2-8.3 4.3-3.7 5.5-3 4.8-5.5 2.3-4 11.9-3.9 3.9-3.9 5.8-6.7 1.5 2.7 4-11.4 3.1-.5 9.7-9.6 3.8-1 4.2-7.4 3.7-4.6 2.3-2 10.5-8.8 5-7.9 1-4.4 5.7-7.2 5.3-4.1 5-6.9 9 2.4 2.1-9 3.9 1.3 6.8-12.2 2.9-7.6 3.2-5.7 6-7.8 3.7-5.3 5.6-1.9 7.7-12.3 4.4-6.7 7.2-10.5 3.6-10.2 3-4.1 5.1 1 5.4-6.3 4.5-2.2 3.8-8.1 8.2-10 7.8-4.1 2.4-9.4-.4-11.7 2.6-3.7 11.4-6.2 2.5-12-1.4-7.7 4.6-9.9 8.4-8.1 3.2-6.4 7.6-6.5 6.5-11.4-1.3-9.5 7.5-6.9 8.1-4.6 2.3-6 2.3-9.8 2-13.1 11 3.2-.5-7.6 8.3-12.5 6.6-.8-2.5-11.7 10.6-8 .1-10.2 1.4-4.3 12.9-4.2-3.2-16.6 6.8-3.7-3.2-10.3 9-3.8 2-3.7 2.5-1.8 3.4-6.3 8.3-5 .7-7.2 7.9-3.6 2.8-12.5-.1-3.6 2.1-12.1 7.5-4.5-.2-4.4 6.6-7.8-.3-6.3 8.7-7-.4-13.5-.3-2.1 6-3.4 1.8-10.4 5.9-9.4 1.6-4.9 .6-6.2 5-9.9 3-.3-3.5-4.2 4.5 .2 9.6-3.2 1.1-7.5-2.2-3.6 3.3-4.5 4.8-13.5-5.4-2.6 6.2-6.9-1.6-2.9 4.9-8.6 5.6 .5 7.2 .1-4.4-4.3 4.5-4.7-4.2-1 3.9-4.9 3.1-.3-5.8 3.1 5.6-.2 5.5-7.6-.2 6-1.9-5.4 5.1-6.6-2.1-1.7 2.8-.6-5.4 3.9 1.4-7.8 1.6-.4 1.3 4.5 1.4-5.3-9.1 .8 6.4-5.7-1.6 3.8 1.5-3-4.4 0-1.4-1.6 7.3 4-5.3 .5-6.7"/>
<path stroke="#000" stroke-linecap="round" stroke-width="4.0" fill="none" d="M440.3 1401v10.2M440.3 2424.6v-10.2M660.3 1401v20.4M660.3 2424.6v-20.4M880.2 1401v10.2M880.2 2424.6v-10.2M1100.1 1401v20.4M1100.1 2424.6v-20.4M1320.1 1401v10.2M1320.1 2424.6v-10.2M220.4 1571.6h10.2M1540 1571.6h-10.2M220.4 1742.2h20.4M1540 1742.2h-20.4M220.4 1912.8h10.2M1540 1912.8h-10.2M220.4 2083.4h20.4M1540 2083.4h-20.4M220.4 2254h10.2M1540 2254h-10.2"/>
<rect x="220.4" y="1401" width="1319.6" height="1023.6" fill="none" stroke="#000" stroke-width="4.2"/>
<rect x="1129.8" y="2103" width="299.8" height="248.5" fill="#fff" stroke="#000" stroke-width="1.8"/>
<line x1="1147" y1="2137.4" x2="1255.3" y2="2137.4" stroke="#000" stroke-width="2"/>
<text transform="translate(1268.2 2154) scale(1 1.04)" font-size="48.2">0.01Hz</text>
<line x1="1147" y1="2199.3" x2="1255.3" y2="2199.3" stroke="#f00" stroke-width="2"/>
<text transform="translate(1268.2 2215.9) scale(1 1.04)" font-size="48.2">0.02Hz</text>
<line x1="1147" y1="2260.9" x2="1255.3" y2="2260.9" stroke="#0f0" stroke-width="2"/>
<text transform="translate(1268.2 2277.5) scale(1 1.04)" font-size="48.2">0.05Hz</text>
<line x1="1147" y1="2322.4" x2="1255.3" y2="2322.4" stroke="#00f" stroke-width="2"/>
<text transform="translate(1268.2 2339) scale(1 1.04)" font-size="48.2">0.1Hz</text>
<text transform="translate(198.8 1414.9) scale(1 1.025)" font-size="48.2" text-anchor="end">5000</text>
<text transform="translate(198.8 1756.1) scale(1 1.025)" font-size="48.2" text-anchor="end">4000</text>
<text transform="translate(198.8 2097.3) scale(1 1.025)" font-size="48.2" text-anchor="end">3000</text>
<text transform="translate(198.8 2438.5) scale(1 1.025)" font-size="48.2" text-anchor="end">2000</text>
<text transform="translate(220.4 2486) scale(1 1.0)" font-size="48.2" text-anchor="middle">11.5</text>
<text transform="translate(660.3 2486) scale(1 1.0)" font-size="48.2" text-anchor="middle">13.0</text>
<text transform="translate(1100.1 2486) scale(1 1.0)" font-size="48.2" text-anchor="middle">14.5</text>
<text transform="translate(1540 2486) scale(1 1.0)" font-size="48.2" text-anchor="middle">16.0</text>
<clipPath id="clip-b"><rect x="0" y="2443.4" width="1618" height="100"/></clipPath>
<g clip-path="url(#clip-b)"><text transform="translate(880.5 2547.2) scale(1 1.07)" font-size="61.7" text-anchor="middle">Displacement (mm)</text></g>
<text transform="translate(90.8 1911.8) rotate(-90) scale(1 0.98)" font-size="64.6" text-anchor="middle">Force (kN)</text>
<text class="s" transform="translate(817 2627) scale(0.94 1)" font-size="85" text-anchor="middle">(<tspan font-weight="bold">b</tspan>)</text>
</g>
<g id="chart-c">
<path stroke="#b4b4b4" stroke-width="1.0" d="M449.1 2723.5V3681.8M881.8 2723.5V3681.8M1314.5 2723.5V3681.8M232.8 2883.2H1530.8M232.8 3202.7H1530.8M232.8 3522.1H1530.8"/>
<path stroke="#777" stroke-width="1.35" d="M665.5 2723.5V3681.8M1098.1 2723.5V3681.8M232.8 3042.9H1530.8M232.8 3362.4H1530.8"/>
<path class="c" stroke="#000" stroke-width="1.45" d="M486.7 3563.9l7.2 11.6 3.8-8.9-17.4-5.6 19.1 4.5-5.6 15.6 5.8-23-5.6 20.4 9.8-2.4-23.1-11.2 29.8-1.3-6.3 12.3-19.8-8.2 13.9-5.4-2.4 16.5-24.1-11.6 25.7 1.1-12.9-2 3.6-2.4-3.8 3 1.9-3.5 5.5 6.2 .3 3.8-18.3 .2 14.2 .7-11.8 2.2 .8-5.2 10.2-9.5 13.2 10.9-2.5-18.2-13.6 6.5-1.1 7-1.3-13.8 10.7 22.1 8.7-17.4-10.1-3.4 7.4 5.2-4.1 0 13 5.1-38.6-.9-1.3 8.3 21.2-8.4 9.2 2.4-11.5-8.1 9.2 10.4-17.6-8.9-1-8.2 6 22.7 17.2-16.5-1.6-.2-15.5 1.5 9.8 10.7-9.1-15.3 7.3 7.9-12.5 6.8 11.8 9.3-7.6-15.3 7.6 2.4-6.7-6.5-1.8 20 10.2-14.9-4.9 .6 3.9 1.4-4.8-7.4 11.4 6.3-15.8-8.7 17.5 19.2 6.2-11.4-17.7-.2 22.2 9.4 3.1-16.7-17.4 18.3-19.8 .9-2.9-16.1 15.9 10.2 21.4-5.5-13.2 6.9 2-5.9-11.1-6.6-5.4 10.7 12.3-5.9-16.3 2.8 10 5.5 7.8 1.7-5.2-4.1 5.4-14.3-10.7 14.8 11.5-7-2.1 9.6-22.6-8.9 6.6 11.4 3.5-6.4 15.2-3.6-3.9 2.1-.2-14.4-1.2 16.3 5.1-3.2 3.4-8.5-16.5 10.5-11.4-.6 24.8 .3-9.6-3.3 2.8 6.3-2.4 .1-10.3-4.9-4.4-1.1 27.2-2.8 1.4-1-1.8 8.5-7.9-8.1 .7-6.1-7.6 11.6 5.3 6.1-5.1-9.7-1.6 8 8.3-2.7 16.4-10.5-39.4 9.4 27.3-3.1 .8 5.6-20.8-24.3 16.8 25.3-2.3-.6-6.2-11.7-.4 14-10-8.6 34.3 2.4 7 4.8-8.3 3.3-20.7-8.2 6.3 3.6 1-1.7-13-8.2 6.1 16.6 8.7-6-10.5-4.4-14.8 6.5 5.5-3.7 16.7-7.7-6.5 10.9-.9-6.5 2.8-5.9 9.4 6.7 0 1.3-3.1-3.5-6.6 2.1-3.6 3.5-2.8-3 .5 .7 6.5-6.7-1.2 7.6-6.4-4.9-3.4 6.6 5.5-7.8 10 1.7-12.4-.2 9.7 3.8-13.1 2.5 7-1.6 8.1-.9-13.1-.2 12-1.6-15.2-1.1 9.7 .4-5.7 3.7 5.4 2-1.1-4.7 5.3 1.6-2.7-3.3-.4 .9-3.6 .6 5 .9-12.2 1.1 6.9-.4-4.6 .1 10.7-4.7 8.5-.6-11.8 .8 10.1 3.6-14.6 .4 2.1 .1 5.7 1 5.6 .4-4.3-3.4 4.1-.9-8.9 4.6 6.5 1.3-4.1-2.9-15.3-5.8 9.2 1.6 2.4-1.3 3.2 2 2.2-4.1-4 6.9 8-1.6-18.7-2.3 12.1 4.2 12.5-3.1-17.8 .2 11.9 0-1.5-1.9-5.5-2.5 1.3 4.2-.8-1.5 .7-4.9 6.1 3.3-3.5 .4-20 2.5 9.8-1.4 10.8 1.7-16.1-1 5.4-2.1 4.8-3.4 3 6.3 7-4.9-4.1 3.4 15 .4-16.4-4.1 3.3-.7 .9 2.7-5.6-1.3 13.3 1.6-9.6 1.3-1.7-5.7-4.3 .9 1.2 8.2 6.1-7.5-4 4.3 5.7-3.3 .1-4.3-4 1.8-1.2 2.9 3-4.1 1.3 4.1 2.8-.9-4.3-3.3-5.2 .6-5.6-.9 17.1 2-16 5.2 5.1-4.5 7.9-.7-6.7 .3-1.5-4.3 19.6-.9-50.3 7.2 33.9-6-1.8 1.2-.1 2.5 7.1-5.2 3.1 3-1.8-.8-2.4-2.4 1.5 1.9-7.2-6 3 2.9-20.7 6.8 14.4-8.2 9.6 2.8-3.5 .2 4.9 2.9-11.8-4.8 5.1 2-9.8 .3 18.1-2.1-8.3-1.6 1.8 7.5-4.5-6.3 3.8 .1-2.4 1.9 2.3-7.8 13.8 4.5-16.5 3 2.8-1.6-1.2-7.2 11.1 6.3-11.2 .9 .6-7.4 6.3 3 6.6-2.7-7 2.4-3.8 3.7-9.8-4.2-5.2-.7 17.8 .5 .7-2.4 5.9 1.5-3.4-3.8-3.5-.2 7.8 6.1 2.4 .7-11.7 2.8 8-8.9 11.2 2-19.3-2.4 11.4 4.3-7.4-5.4 6.1-4.6-.1 5.6-16-4.5 9.6 5.6 19.3-.1-15.3-3.7-7.5 1.9 2.9-.1-2.8-4 7.2 2.3-8 3.1 12.8-2.7-1.7-6.7 4.3 .6 5.9 1.9-.5-.7-8.7 6.6-1.5-7.4-12.3 1.6 12.6-1.5-6.5-2.3-7.9-.3 20 1.1-7.7-2.8-7.9 0 12.5-1.2-1.8 2.3-1.1 2.1 18.7 .1-24.8-1.8 10.2-.2-9.2 0 7.5 1.1 1 2.6-5.4-9.3 15.2 3.2-21.5-2-9.8-1.5 13.4 6.1 1.6-3.9 10.3 .8-8.4 1.3 9.9-1.8-8.5-6 6.6 4.9 .4 .1-3 1.4 3.4-3.7-1.4-1.2 9.2 1.8 1.7 1.8-13.2-3.1 4.6-3.3 3.8-1.4-2.5 5.9 7.4-3.7 3.8-1.3-22.7-1.3 7.6-.9 9.8 5.4-3.6 .7-5.8-4.5 2.8-3.5 2.3 .6 8.1-.6-12.6-1.3 8.3 .8 4.7-5.2-1.7 6-5.5-6.2-2.2 3.1-5.2 3.7 .9-.7 4.6-1.3 9-2.6 .4 3.1 2.8-2-1.4-1.5-.3-5.7-2.6 5.9-10.4-9.2 16.6 8.1-7.5 1.8-6.7-8.3 11.8 5.6-.4-2 31-.8-32.8 .8 6.6-5.8-10.1 1.9 9.7 1.5-1.7-.5-4.9-5.3 5.8 5.4-7.2 .9 14.6-2.1-9.5-3.5 4.6 .3-5.9-.7 1.2-1.7 3.5-2.2 5.5 4.8-3-1.2-31.1-2.2 34.8 3.5-3.4-6.3 4.3 .8 3.1 .9 5.7 5.1-19.7-8.3 5.4 3.9 11.9 .1-.9-3.5-14.5-2.1 7.4 .3-1.1 1.8 10.9-8.7-8.3 10.7 15.9-4.5-.1 1.8 5.2-5.2-11.8 4.9-5.5-6.4-9.1-1.1 20.7 2.7-5.1 4.4-25.6-2.7 39.6-2.5-9.9-4.7 4.9 5.1-8.6-2.8-7-5.1-.6-.4 14.8 4.3-30.9-1.2 25.5-.1 9.2-1.2 8.9 0-12.3-4.3-33.9 3.1 32.8 .5 8.5 1.3-1.4-2.2-8.9-1.2 7.7-1.4 1.7 .7-4.2-3.6-1.1 1.2 .9-1.2 0-.8 4.5 2.2 .9-4.2 3.8 3.8 5.6-4.3-7.8-2.3-9.3 3.2 14.3 2.2-6.6-.4 13.9-6.8-11.8 .8 15.8-1.3-7.3 1.8 5.9 4.6-6.7-9.5 6.6 1.1-8.3 5.8-3.1-10.8 4.4 10.9 6.8-9.2-8.6-.1 11.5 4.2-5.7-1.9 5.2-3.3-7.4-6.5 6 6.1-8.1-1.5 6-1.4 1.5 .4-1.8-4.1 4.6 1.6 2.5-.5 .9-.6-10.2 1.4 7.1-.3 1.9-3.7-.7 2.9-7.5-2.7 22.9-3 2 3.5-5.1 2.1 1.7-4.8-9.9 1.5 4.1-3.5-20.9-1.7 24.6 2.1-9.7-6.5 6.7 5.8 14-1-1.9 .3-11.2 .9 1.2-2.7 22.2 6-14-10.6-8 5.6 9.2-6.2-.5 .9-5.3 2.3 3.4 .4-23.9-4 31.3 2-1.9-7.9 5.5 5.8 .7-6.2-6.6 2.2 11 .1-10.9-1.2 16.7 2.4-14.1-.3 .3 .7-2.3-1.6 6.6-2.7 30.5-5.9-27.8 4.9 6.2-2.4-7.1-3.8 5 9.4 6.4-6.2-5-4.9 5.3-1.4-6.2 1 3 .5 6.5 .7-3.8-3.7-6.1 2.4 21.2-.5-12.7 4.4-6.4-6.2 1-2.3-.4 2.4 10-.7-1.6-2.2 4 .3 8.2-.6-2.8-.3-7.3 6.1-3.1-10 11.1 1.3-9.7-5.1 .5 4.1 3.3 2.9 3.7 .5-1.9-4.8 3.4-3.1-35.3 .4 31 1 5.6 .7 4.2-3.8 2-2-6.7 0 36.2-6.6-26.9 1.6-1 5.5-.7 .8 1.5-.9-5.6-2-.2-4.9 7.1-.9-8.3 0 11.8-.7-4.1-.6 12.1 .4-8-2.4-3.9 2 1.4-3.6 2.3 2.7 9.4-6.3 1.2 8.5-7-5.9 2.4 2.3-3.8-2.6 11.9 .6-5-2.2-3.7-1.7-2.4 1.2 14.2 1.6 3.3-4.5-8-.3-4.1-4.8 .9 4.1-2.1 1.1-3.3-3.4 16.6 2.1-11-1.5-1-3-4.7-2 17.1-1.2 .2-1.4 18.2 .6-12.7 1-6.2-2.9-5.8 5.3 10.5-5.9-3.1 .4 4.1-2.5-7.6-2.9 7.3 3.1 1.2-1.6-4.5-.1-1.5 1.7-19.3-6.8 30 3.1 6.5 2.8-5.4-2.4-11.9-1.9 13.5 .2-7.3-5.1 10.4-2.1 8.3 5-6.1-4-13.9 0 19-3.1-.1 1.9 6-7-6.1 .8 1.8 1.3-26-4.8 31.3 4.5-12.5-3.1-19.2-.1 29.6 .9 2 .8 16-3.9-12.2 .1-3.1 3.1 3.3-7.9 .8 1.1-1.6 5.8 1.3-7.3-11.6 .8 10.5-3.4-.5 2.5 9.3-2-9.7 2.1 9.5-6.1-.1 7.2-8.5-5.4 6.6-.3 3.5 2.8-16-4 2.9 5.3 9.7-10.2 5.4 1.3-.3 .5 6.2 1.8-3-6.3 20.3 2.6-22.9 .3 12 .1-8.8-3.2 8.8-1.3-15 .1 .2-3 26.4 5.6-13.7-8.9 .2 2.9-5.3-.8 10.9-3.9-16.1-5.4 21.2 5.3-3.3 .4-9.5-3.2 4.1 2.8 2.3-3.5 5.4-2.5 .3 2-8.5 2.5 10.8-3.2-14.8-4.5 24 3.5-17.7-2.4 15 .4-9.8-3.3 8.8-.6 4.9-.6-2.6 .4-7.4-1.7-.9-.7 27.9-3-28.9 3.9 21.6-1.8-3.3 1-13.4-5.3 19.1 4.1-9.6-6.7-1.1 2.8-1.4-6.4 7 2.6 2.2-2 3.8-1.3 .9 1 .9 .2-4.8-2.9 1 1.1 2.1-.6 1.3-3.4 6.3-.6-.7 3-4.5-1.4-10.2-2.3 3.3-.3 9.5-1.6 2.1-3-8.5-3.4 5.7 4.7 6.9 2.3 .8-2.2-18.6 1.2 10.7-4.8 2.3-1.6 12.6-5-1.9 1.2 33.5 4.9-36-2.6 11.6-1.6-6.2-3.1 .9 .4 5.9 .2-14-4.5 4.6 3.9 14.6 1.3-1.6-3 5.3-3-1.1 4.9-12.6-1.1 11.5-15.6-5.5 6.6 2.8 1.4-.2 4.2-1.8-3.8 15.9-.4-6-2.9-.9-5.2 1.2 7-3.9-2.5 2-3 3.6 1.9 4.8-2-14-6.5 18.6 3.8-15.8-.6 6.6-4.2-12.2 .9 19.8-.9-8.3 1 14.9-1.2-.3-.5 2.3-1.4 .4-1.6-7.2-3.1 6.7 5.1-12.7-6.5 8 4.6 9-2.3-7.4-9.2 6 7.2 .1-1.1 8.1 1-.7-4.1-7.3 1.1 10.9-2 6.8 2.5-3.1 0-3.1-1.8 .5-1.9-4.4-1.5 3.3-3.8 5.2 4.4 1.7-2.3-8-2.1-8 .7 1.4-4.1 11.4 4.7 3.7-3.2 3.5 1.4-13.6-8.7 13.1 2.9-21.2-1.4 23.7 2.8 7.2-4.7-4.5 2.1-4 2.3 39.9-7.4-34 1.3 7.4 4.6-11.9-7.2 1.9 .2 11.9-3.8 0-.3 2.3 6.8 .6-4.4-9.3-4.9 6.8 .3 4.7-1.5-1.3-.3 1.4-3.1 9-.5-1.3 5-3.6-.7 8.8-6.5-4.6 5.7 .2-.9 12.6-4.8-7.9 .2-8-3.8 11.1 2.7-9.4-2 7.4-.6 3.9 2.8 2.7-3.6-14.6-3 11.4 .4 6.6 2.1 7.1-7.3 .7 1.5-4.7-1.9 5 2-10.1 2.2 2.5-4.4 6.1-.8 .9-.8-10.8 1.4 14.5-3-9.3-1.7 4.7-1.1-4.3-3.1 4.9 5.7 16.1-5.6-19-.5 4.2 1.6 4.1-.4 3.8-1.4 19.9-1.4-20.4-3.2 5.6 4.7-12.1-4 6-2.3-8.4 .3 18.6-.4-12.7 1.8 16.4-.2-12-6-8.4-6.3 10.4 5.6 2.4-3.8 2.9 1.8-6.1 3.2 10.2-2.2 3-7.8-11 .5 2.2 1.2 2.9-1.9-5.7-1.2 21.9-.7-4.1-4-9.1 9.2 20.8-6.7-8.7 .6-20.1-1.6 9.4 3 11.3 1.4-9.4-5.5 10.1-1.6 4.4-.1-7.7-7.6 1.4 1.4-6.7-1.6 18.8 9-2.4-4.2 .1 .8 2.7-1.3-3.5-1.3-2.2-7.5 7.8 4 1.9 .1-4.4-2.2 .6 1.7-2.7 .4 23.5-4.6-7.1-2.5-7.7 3.8 .9-6.3 1.9-.3-.5 4.1 5.4-4.2-3-.5 3.9 1.1-2.6-1-2.2 7.5 9.5-10.8 10.4 1.3-6.5-8-8.9 5.2-5.2-2.3-.1 3 10.5-8.9-3.5 9.9 11.1-9.9-10.9 5.9 11.6-5.6-10.1-.4 6.6 2.2 7.8-5.8-7.7 1.5 5.2-3.4 2.5-.9-9.3 3 37 1.4-35.2-5.3 3.8-1.1 7.4 1 .4-7.1 3.9 3.7 1.9 4.9-11.8-3.8 6.8-4.3-8.6 3.8 12.7 .1-3.8-4.4 6 1.2-9.4 4.6-5.2-6 18.1-3.7 7.8-2.2-12.7 4.4 2.9 2.4 .4-4.8 .7 3 .9-9.9 16.7 4.8-8.3-1.2-23.5 .6 19.6 .5-2.1-6.4 6.9-1.5 10.8 2.5-3.6-1.4-4.6-5.8 2.2 1.4-2.7 5.3-2.6-2.9-1.8-3.1 14.3 .2-12.6 1.4 15.2-.5 24.9-5.9-29.1 1.8 6.2 6.7-3.8-8-1.5-.8-7.9-7.2 7.4 5.1 24.8-6.6-18.9 5.9-3.6-2.7 12.9 .5-7.9-2.1-8.1 2.3 8.1-.4 11.1 2.1-.9-9.4-6.5 3.7 6.7 2.1-3.8-1.8 13.8 1.1-1.5-11.5-3 7.5-2.7-4.3 4 .7-1.1-.7-2 4.8-1.8-4.5 1.4-4.2 1.6 2.8 5.7-2.8 .3 4.3 4.6-6-6.9 2.9 2.7-1.9-10.6-2.1 7.8-2.7 1.1-4.3 4.1 6 1.5-2.7-2.3 2.2 5.3-.7-3.5-3 3.1 .4-2.2-1 6.9-3.5-5-2.7 2.6 3.3-2-1.7-1.9-.4 24.6-5.6-25.9 5.7 15.9-2-6.2-1.6 2.3 2.1 1.4-4.7-3.9 2.7-3.4 4.4 13.2-5.2-2 1.9-21.6-8.1 18.5 2.4 1.2 4.4 9.5-9.1-2.1 .1-1.9 6.6 6.4-1.8-2.6-9.9-5 6.3-13.6-8.9 23.8 7.1-12.7 1.3 24.8-2.9-23.6 .8 1.1-4.5 15.5 5.1-.9-4.6 2.2-1.4-12.5-3.2 6.7 .4 2-.8-1 1.5-4.9-4.2 10 3.8-.6 .4-4.1-10.4 2.7 6.5 2.3-.5 1.5-3.6 .1 .7-5.6 .7 8.9 1.2 2.8-3.4 6.1 2.1-9.6-2.3 7.9-3.3-6.6-1.4 9.9-2.6-6.2 4.8 2.8-.1-3.3-2 4.2-4.8 .9 5.9-18-3.9 22 .4-7.7-1.7 3.6 .9 7.7 .9-5.1-6.3-1.4 1.2 12.4 1.3-.7-3.5 .8 1.5-1.1-.7-2-1.3-.7-.1-7.6-2.7 3.3 4 1.1 1.2 10.4-5.5 26.9-1.4-26.9-2.9-5.6 4.6 9.9-9.3-6.8 3.5 .2 3.3 1.2-4.4 6.9 5.2 1.4-4.9-4.1-4.5-6 1.4 10.2 4.2-7.6 2.3 .1-4.7 2.4-3.4-1.9 1.8 2.5-8.4 13 8-13-5.2 5.2-.9-6.5 1.1 4.2 .8 2.9-.6 3.1-3.7 .6 6-.8-6.2-1.9 .2 11.7-1.1-3.2-3.7-5.7 1.3 2.2 1-.4 4.2 2.8-5.8-2.4-8.8 13.5 11.7-4.2 .7-4.7-5.2 3.1-4-8.7 5.8 14.5-6.5-7.7 2.9 5.2-1.5 0 1.6-5.9 .1-3.8 2.1-.2-3.6 5.3-5-2.5 1 8.6-2.3 .7 3.4-6.1-1.3 16.5-2-14.2-4.3 11.5 7.2-.4-2.1-7.2-1.1 14.8-2.1-2.8 3.1-1.7-5-1.3 2.7-1.4-1.6 3.4-3-5 2.3 8.9-5 8.1 3.6-14.5-2.4-5 1.9 23.1-.7-13.5-2-4.8 1.9 12.4-5.9-5.5 .5-8.1 3.6 13.1-9-19.3 5.5 6.3-2.4 6.4 1.2 3.4-3.7-7.8 5.1 40.9-4.9-28.7 5 1.9-4.5-3-.3 3.1-6.7-5 8.3 3.4-4.9 7.9-1.5-6.6-3.9 5 .3-3.4 6.7 11.3-.7 7.1-3.2-9.6 2.8-1.2-6.4-1.5 1 .4-3.1 13 3.6-24.6 1 11.1-.8 1.7-2.9 5.2 2.2-11.9-.9 5-4 5.9 1-11.2 .1 13.2-2.4 8.9-3.6-15.3 4.9-5-1 14.4-2.5-4.3 2.4 12.7 .4-12.1-1.9-5.8-.1 15.1-1.9 1.1-2.8-.4 4.8 6.6-5.8-3 4.5-6.6-4.3-3-1.9 2.7 7.8-1.2-5.8 .1-2.8-2.1-2.7-6 3.4 14.9 3.2 .4-1.3-23.9-2.9 27.4-.8-40.9-.9 34.9 1.8 3.9-2.4-2.1-1.2 12.3-2.2-3.1 8.2 .5-9.7-5 4.9 21.5 .5-23-1-.3 .6 0-.9-5.7-3.2 7.9 2.4-14.9-2.2 9.7-1.2 29.6-5.1-17.1 .5 2.5 1.1-2.7 3.9-6.6 1.3 23.3-1.2-13-2.8-9.5-1.5 10.6 .5-14-.5 16.4-1-15.9-2.3 17.1 .8-9.1 1.5 19.3 .7-12 .8 1.8-3.8-1.1-1.5 1.8-.3 6.8 2.7-4.5-3.2-15.1-1 10.1 2.6-.2 2.1 1.7-.2 1.3-4.1 11.6 .6-7-3.6-21.1-2 16.9 8.3 7.8-4-19-3.7 18.1 1.6-5.6-2.7 5.3 1.3-2.4 1.1 1.4-2.1-.7 1.8-9.2-.5 17.9 2.9-4-9-.8 2.8 7.8-2.3-6.1 2.2-1.1 2 1.7 2.2-2.6-4.6-1.6 2.8 14-3.6-13.1-3.3 10.9 4.9-3.5-1.9-7.9-4.2 5.1 5.9-2.2 2.1 4-4.6 5 3.7-8.5-8.7 .6 2.2-1.2 .2 14-.7-5.3 2 3.2-2-3.2 1.1-6.3-2.2 28.3 .4-27.4 .5-5-5.5 15.3 6.9-8-6.8 10.2 4.2-1.2 1-2.5-2.1 8.8-4.9-4.8 5.5-6.1 3.4-.9-6.1-2.3 2.4 1.4-1-4.1-3.5 4.8-1.8-3.9 4.9 23.2-2-9.3-2.8-10 5.9 15.9-5.7-17.4 1.9 9-2.9-13.5 4.3 9.4-3.4 3.2-.6 9.2 1.1-.1-2-14.9 4.5 3.7-2.1 2 2 7.4 .6 1.8-9.3-10.3 3.1 2.6-2.9 .5 4.3 8.1 2.1-5.8-1.1-1.5 .1-4.9-.4 5.8-5.3 5.3 4.9 8.3-6.1-17.7 .7-.7 7.5 12.1-6-13.1-2 13.8-.2 .3 1-1.6-1.7-6.8-2.1 16.4 3-7.8 .3-2-.7 7.5 4.2-13.4-7.2 4.2 6.7-5.4-5 9-.3 1.8 0-4.9 2.5 3.7 2.9 5-3.6-6.6-.6 2.2 1.4-4.8-.6 9.9-2.6-4.3 1.9 10.3-2.4-11.1 .7 10-2.4-1.8 3.3-21.5-.9 21.2-2.3-1 1.6 2.8-2.6-.2 .9-5.8 4.9 9.8-5-2.5 4.7 5.3-5.2-37.1 1.1 17.3-4.2 1.2 5.7 8.7 3.2 .7-6.8 3.3 3.9-2.4-1.1-8.7-3.1 6.4 4.8 9.9-5.1-1.6-.1-13.3 1.4 6.6 2.3-17.5 2.6 21.5-4.8 11.6-2.6-9.1 .4-9.4 5.2 3-3 .7-6.7 11.1 11-7.1-6.1-.8-2.8 .3 2.1 2.3-.9-6.9 1.6-1.3-1.1-1.3-2.2 3.4 3.1-4.4 3.8 12.2-6.8-3.3 4.4 3.9-1.6-7.4 2.8-8.7-4.4 10 1.3 7.2 1.2-1.9-1-15.2 2.7 10.1-1.6-.7 1.3 2.3-5.8-1.9 4.5 3.2-.4-7.7 1.2 1.7-4.3 11.4-.8-3.3 1.5-3.7 4.9-4.5-5 2.8-.5 1.4 2.3 5.2-2.8-10.3 1.9 9.6 5 5.8-6.9-5.7-2-19.4-.6 23.4 6.8-4.8-.4 3.1-4.9 1.7 2.1-1.4 2.7-5.2-5.2-2.5 .6 15.7-1.5-15.3 3.9 15.9 2.7-16.3-2.2 11.1-1.5 3.3 4.4-5.2-4.3-13.8 .7 7.7-1.1 9.2 1.9 12.4-5-16.6 9.8-2-9.2 29.2 15.2-2.4-1.1 7.5-4.3-12.3 8.8-1.9-4.1 3.1 3-4.2-1.3 6.1-1.1-3.4-3.5 7.3 6.2-12-3 17.7-1.5-9.6 2.8 4.6-3.6-4 1.2 6.1 .1-19.5 2.8 7.8-4.6 2.9 5.2-.8-.1-2.2-2.3 4.2 3.1 3.4-.5-6.9-3.2 11.2 3.8-15.5-4.5 13.9 3.4-10.8 3.3 5.9-2.9 .4-3.3-11.6 6 13-2.4-9.9-.6 14 .6-8 1.1 1.9-3.4-16.1-1.6 8.2 6.5-2.2-4.8 6-1.4 6.9 2.9-5 3.7-4.4-3.8 1.6 .4 6.1-.6-15.7 .3 14.6 4.9-1.4-5.9 1.1 5.3 3.5-1.2-17.8-3.1 .7 .2 17.6 3.3-10.9 2.9-13.5-5 35-3.7-9.6 1.8 1.7 1.4-4.4-1.4-17 5.2 9.1-5.1 5 1.7 5.5 5.3-14-1.9 6 2.5-14-3.4 2.6-.5 12 3.4 1.8-3.5-.5 .3 2.4 2.9 .1-.6-6.4-3-.9-2.4 7.7 .8-7.1 3.3 4.9-1.9-2.5 1.3 1.3-1.4-4.2 .6 10.2 4.1 26.7-1-36.6-5.3-7 2.1 6.2-1-1.1 3.3 3.9 3.1-17.2-.5 31 .6-26.7-1.8 .3-.1 7.6 7-3.7-5.6 6.8 3.2-2.8-6.7 5.6 1.6-3.5 1.5-2.3 2.6 2.2-4.4-5.1-.2-2 .1 15.8 5.1-14.4-3.2 10 3.2-10.2-2.1-2.3 2.8-1.8 2 4.2-6.4 2.9 2.4-4.3-.6 20.5 1.2-26.3 4.9 6 2.8-3.4-3.7-3.6-2.2 0-1.7 11.2 1.2-6.1 .7 3.2 .8-.7-.5 3-1.4 3.1-.5 28.1 5.3-40.7-.7 6.6-1.3 4.1-.5-23.1 2.5 15.2-3.3-.9 3.5 6.2-.2-10.8 2.4 4.5-2.2 2.9 3.2-4.4-.4 6.6 1.8 7.9-2.5-13.3 .2 5.5-.4-4.9-.4 6.9-2.8-9.4 5.1 3.2-.2-8.2-1.1 .9-.4 12.3 .4-4.7-3.7-7.4 6.7-4.3 .9 12.4 1.4 13.8-9.3-11.7 12.7-8.8-7.4-3.9 3 9.3-.3-10.2 .5 14.8-3.3-5 3.7-11.2-3.4 11.8 6.7-17.5-9.3 11.4 9.5-.8-3.3-3.2 5.8 2.6-6.5-.6 1.2 1 2.3 4.5 2.2-7.2-.2-6.2 1.5 7.5 .2-15.6-1.8 8.2-.8 8.9 3.7-2.5-1.3-2.5 0 9.7 1.9-10.5-7 .4 6.7 2.7-.7 7.3 4.3-1.3-3-12.3 .6-3 4.1-1.6-6.5 8.1 6.6 4.1-2.6-17.3-5.7 18.4 3.3-12.5 2-12.9-2.2 10.7-.4 .4 5.9 8.2-2.2-6 1.5 4.1 1.8-11.6-7.4 7.6 6.6-2.6-7.5-15.2 7.4 2.9-2.1 13.6-.2-5.9-.5 4.3 4.7 .4 2.3-2.7-3.4 3.3-.9 2.8 6.6-1.6 .1-4.9 1 1.6-.1 8.6-2.4 10.6 3-23.1 1.3-6.9-5.1 7.2 .5 4.3 3.5-5.9 .2 2.6-2.2-16.3 4.1 6.3-6.3 1.2 5.1-5.4 1.3-6.3-2 7.4 .1 9.9 2.4-9.1-.6-6.4 3.7 11.5-6.5 3.5 6.9-9.3-3.5-2.9 2.4 6.2-1.1-22.5 4.9 23.2 .7-4.2-1.9 14.2 .2-14.8 .9 5.8-.6-5.3 2.9-4.1-.9 7 4.6-10-2.9-.1 3.1-3.8-3.5 3.4 1.1 3.8 4.8 4.9-3.9-12.9 5.7 11-5.9-13 4.6 1.3 .3 12.5 .1-14.1-6.5 0 4.8 4.4 1.1-2.9-3.7-.4 3.4 8.4 2.1-10.3 2.1-.4 .2-2.6-2.2 10 .7-14-.7 1.2-.1 2.9 10.8 8.1-6-.7-6.6 4.9 3.2-5.2 .4-4 0 10.2 5.4-24-2 8 .5 3.9 1.6-8.3 .9 5.7 1-.9-3.1-1.5 6 6.3 1.2-5.3-4-.5 2.3-19.7 .8 29.4 .9-5.5 1.2-17.2-3.1 14.7 5-12.2 3.2-2.5-5.9 3.3 1.3 1.6 1.8 1.5 .6-1.6 1.7-10.7-3.5 25.5-.8-24.1 3.8 7.1 .5 4.7-4.4 21.4 4.4-28.4-1.4-.7 5.2 1 .8-3.7 .8 5.2-6.3-4.6 7.2 10.9-1.7-12.2 2.4-5.6 .9-2.2-5.5 14.2 8.4-8.1-3.6-8.2 2.2 5.1 1.7-4.1 4.6 2.3-7.4-5.4 6.2 4.7-7.7-6.3 5.4 15.9 .4-7.7 .2-1.4 1.7-.8-5.9 1.4 10.3-11.1-6.1 .9 4.5-.7-7 3.9 4.5-1.2 3.1 14.1 4.2-1.6-5.1 7.4 5.8-18.6-.5 4.3 5.4-6.6-3.1-.7 1.9 4.4-2.5-9.8-2.3 9.9 1.1-6.6 3 .4-2.1 4.7-1.5-9.5 5.2-22.7 .8 31.2-.8-5.8-2.4-6.4 4.4 2.1-2.8-13.3 4 11.9 .9 12 3.4-12.7 .7 5.8-1.3-9.3 .7 1.5 1-14.8-2.5 16.4-.9-1.2 7.9-9.7 1.2 6.1-4.3-4.7-1.4 4.8 2.1 3.3 2.8-10.6-.5 8 3.8-9.9-2.4 12.1-3.7-10.9 4.9 10.4 0-13.4-.9-1.8 6.2 6.7-4.2 4.8-.1 7.3 .6-4.7-.5-4.5 6.5 6.8-4.1-10.4 8.3-11.4-.9 22.8-4.3-22.2 4 2.9-2.1-6.7 5.3 4-7.7 6.4 4.3-7.5-.1-5.2-1.1-4.6 2.7 17.5-2.9-10.2 7.3 .2-2.4-3.1 .2 6.5 .7-15.8 1 15.2 2.7-5.9 1.6-2.8-2.7 7.4 .5-6.1 4.7-8.6-3.6 13.6 6.1-2.4 1.5-6.9-5.2 5.9 .4-8.3-.3 2.2 .9-12.3 3.3 15.2 1.4-15.8-2.1 7.7 .7 1.1 5.2-2.1 1.9 .3 2 5.1-3.6-3.6-2-9.1 1.2-8.3 1.9 11.9-.2 3.2 .3-5.1-1.7-3.6 1.9 24.2 1.5-25.9 3.6 .2 2-6.3 .6 18-2.1-17.7 3.8 3-5.8 2 4.8 12.1 1.7-1.9-3.5-6.6 5.4-6.2 4.9 2.9-1.1-5.6-4 1.5 .5-3.7 4.5 .4 2-3 1.7 10-4.2-6-2.1 13.4 5.4-20.5-3.3 7 7.6-7.9-5.4 9.5-1.8-11.2 9.3-.6-.5-1 4.2 .1-5.4 3.2-.7-14.9 1.7 19.5-.2 .9 1.7-12 1.7 13.4 2-14.6-3.1 1.9 5.3 8.6-.6 14.8-5.1-30.3 8.7 5.3-3.9-4.9-1.6 6.9 7.1-12 .1 9.3-.7-5.6-.3-11.7 4.3 9-.6-4.8-1.1-7.1-.4 6.5 2.1 7.3 .8-1.6 .4-3.6 .8-1.5-2.6 2 6.4-1-.2-.7-1.3 4.7 2.8-6.7-4.9-4.3 5.1 6.5-2.1 1.5 4-18.9 3.3 16.3 .3-7.5-.4 .4-2.3-6.4 2.9-.6 1.9-2.2-.8 .3 .5-.3-1.4-5.3 4.7 3.3 2.2-.2 .1-8 1.2 8.4 3.3-2.7-.9 .6-2.7-15.2-.1 16.3 2.5 1.1 .7-4.4-1.1 4.5 4.5-14.5 2.8 3.6-2.2 .7-1.3-2.6-.8 .2 5.6-11.6-.9 7.9 6.5 8.5-5.9-12.4 2.4 3.7 1-3.4 .8 4.2 1.4 18.2-1.8-18.4 6.5-4.2-5.1-8.1 .5 2.4 3.6-3-.3 7.5-2.3 7.5-2.6-11.1 5.4-8.6-3.6 10.4 4.1-4.7 1.2-12.1 2.5 8.9-2-3.2 3.9-4.5-3.1 12.3 3.7-15.6 .6 3.5 4.3-11.2-2.8 6 3.5 4.8-2.2-11.4-.4 17.4 2-2.9 4.3-4.1-.9-6.9 0-10.1 1.3 11.5 .7-7.2-2.3-3.9 3.5 9.4 2.7-1.1-.9-1.9-.1 2-.9 0 4.6-8.6 .3-8.4-6.2 14.1 9.8-9.7-1.3-2.9 3.5-5.1-1-4.4-2.8 10.4 5.8 7.2-1-17.3-1.2-10.8 2.4 11 1.9 15.2 1.2-17.6-3.3 21.6 1.4-17 3.6-5.2 .8-4.7-2.8 4.1 4.3-6.3 2.9 4.8-4.2-.6 3.5 6.5 1.3 1.9 1.6-3.3 1.4-1.8-1.1-13.1-.8 3.7 2.2-2.7 .5 3.5 2.2-.6-1.3-7.9 .5 3.8 3.8 .5 .8 5.9 3.5-10.6-6.6-5.5 4.4 7.8-1.6-2.1 6-3.7-1.7 3 2.8-8.7-2 3.7-1.9-11.4-2.3 12.3 7.9 2.9 1-20.9-1.2 23.9 6.1-6.3-5.6-4.2 2-7.6 2.6 20 1.1-17.1-.7 2.6-.3 1.7 .8-6.6 .5-3.4 1.5 .7 4.9-5.9-2.2 2.6 6.1 5.4-.1-14.5-1.6 5.3-.4 3.5 2.2 1.3-1.6-5.7-.5 4.8 1.8-1.5-5.3-1.8 8.3-3.1-2.6-1.7 3.7-.6 2.7-5.3-1.6 2.2-2.2 1.7 4.3-1.8-6.9 9.2 8.7-5.7 .9-6.5-.6-6.6 2.5 4.2 .6-5.6 4.6 4.3-1.9 3.9-2.7-5.5 5.7 8.9-1.7-12 .4 2.1 1.6 .6 .3 2.2 6.6-3-8.5 .8 9.7-12.3-3.3 2.9 2.8-5.7-1.4 10.4-1.1-5.5 1 3 5.5-2.2-1.7-6.4 1.2 1-.2-5.4-1.3 3.9 1.6 12.9 3.5-6.3-2.6-16.6-1.9 .4 4.7-.7-1.9 2.7 2.7 4.6 1.2-10.3 3.4-9-.1 14.3 .2-4-3.4 6.6 9-12.8-.4 7.1-1.3-4.7 .2-2.5-.5-4.7 3 18.8 4.1-11.4-7.3-3.2 7.4 .1-1.2-.5 6.6 4.7-2.6-8.1 1.7 6.2-6.1 .9 2.5-13 3.2 6.2 2.4-7.3 2.1 7.9 1-11.3-.4-1.8 1.5 11-4.2-8-1.5-3.2 3.3 4.3 1.2-3.9 .5 16.9 3.9-12.9-1.9-10 4.4-1.7 2.5 2.4-4.5 9.4 0-9.7 8.7-13.3-1.3 2.5-5.2 4.2 8.7-1.3-1.7 3.8 2-1.4-4.7-1.6 6.9-8.2-9.1 5.7 6.3-3.9 .6 2.5 5.4-6.1 1.1 1.2-1.8 0 5.1 4.6-2.8-10.8 .6 3-2.4 4.3-.3-1.9 5.7 .9 .7-16.2-4.8-5.7 1.4 17.6 4.2-10.4-1.7-10.6-1.6 10.6 .7 8.3 6-16.4 1.3 7.8-.2 9.3-4.1-14.8 2 7.9 6.8-17.4-3.5 9.5 4.5-23.4 1.7 22.1-5.9-5.9 8.6 4.8-.7-2.2-3 4.4 3.5-.9-.8 2.5 4.1-35.8-3.7 31.3 3.6-10.5-2.8 3.4 8.4 5.9-4.5-9.1 2.7 1.5 2.7 4.7 0 .8-3.7-6.7 1.4 11.8 4.7-12.5 .4 .5-2.2-3.3 1.6 8.4 4 1.1-3.5-12.4 6.2-1.8-3.1-11 .8 4.8 4.2 12 3 1.6-5.6-10.1 6.1-2.2-4.6 12.3-2.9-10.5 3.8-1 3.7 9.4-3.5-10.4 5.2 4.5 1-15.1 4.1 15-1.5-15.2-.9 1.6-5.1-.2 3-6.3 4.9-9.9-.4 18.4 .9-5 1.3 6.7 .5-4.1 1.7-5.3-.7 8.9 0-8.1 4.8-2.5 2.1-4.3-4.4 5.6 4.1-3.1-4.6 14.8 5.8-23.8-5.8-13.1 5.5 21.6-3.5 16.8 4.2-23.3 1.8 6.6 1.4-11.9 2-3.6 1.1 22.3-2.3-14.5-1.9-4.3 11-1.2-6.2-7-1.8 6 3.8 .6 2-15-1.8 21.8-.5-8.5 2.3-3.2 3.1-12.4 .2 6.5-1.2 .5-.6-2.3 2.4 2.5 2.8 1.7 .2-3.2 1 .4 1.1 .3-3.6-5.3 5.7-13.3-.6-11.9-2.4 33.3 .3-13 4.7-17.8 3.3 15.9-2.5 11.1-2.9-9.6 4.9-3.6 .2 22.9 .8-23.2 2.3 2.5-4.8-17.7 4.6 13.2 3.9 1.7-3.6-3.1 .6 1.2 3.4-3.4 .6-11.3 1.7 8.6 .7-3.1-4.1-5.2 .3 3.2 4.8-1.7-1.4 1.6 1.4-4.7-.1 6.1 5.1 2.9 1.2-9-6.8-5.8 0 9.5 8.3-9.5-1.3-4.6 5.2 4.1-6.6-2.3 2.6 7.9 3.1-7-4.6-3.6 6.1 1.5-2.9-9-1.5 14.1-1.4-10.8 6.5 5.9 1.6-3.4 .4 2 0-21.8 2.1 11.7 4-10.2-.1 14.9-3-5.6 4.9 4.5-1.9-11.8-2.8 14.6 4-6.5 1.4 2.1 1.9-6.2-5.4-6.8 .2 5.7 5.4 0 .5 .9-1.2-9.5 1.6 12.4 .2-5.7-.7-1.1 3.3-5-2.8-13 5.4 10.5 .6 10.9-4.6-13.4 3.4-7.5 3.2-12.6-.5 23.5-4.1-5.5 3 5.7 2.7-14 .8 3.5-.4-1.4 4.1 9 .3-13.2-1 5.7 2.4-7-2.3-1.2-.7-.3 4.4 5.4-.2-.3 2.6 .9-1.9 2.4-1.4-4.3-4.7-15.5 4.6 17.9 2.6 9.6-.2-21.8 1.5 3.4 2.6-3.9 5.5-.7-5.9 5.2 3.6-3.7-3.7 6.1 3.7-10.4 1.8 9.4-1-9.7-.1-1.9 5.8 4.5-4.9-4 6.4 18.3-6.9-.6 3.7-9.5-3-.4 4.4-13.2-2.3-9.8 2.9 6.7-3.8 2.6 3.7-1.2 2.2-5.2-3.4-3.3 5.6 7 3-4 .8-2-6.5 3.5 3.9 1.5 4.8-.4-.6-11.5 3.8 13.6-9.5-5.4-.4 .1 6.9-11 2.2-14.1-.1 21-.9 1.6 9.4-1.2-7.3-4.6 .8 11.2-1-6 2.5-16.1 2.3 9.5-1-10.2 1 9.1-3.5-5.7 7.7-2.3-1.2 21.5-2.9-15.8-2.2-6 9.5-7.5-5.8 8.6 3.9-5.3-4.9 3.7-1.8-13.2 9.4 8.7 0-2.7-1.4-3.6 1.2 6.1-3.5 8.9 6.5-4.2-.8-9.5-2.8 2.6-.1-6.9 5.4 4.2 .5 23.2-.1-29.9-2.2 11.2 9.3-4.6-4.5-9 1.6 .2-1.6 1.5 1 4.3 0-13.2-2.6 9.1 4.6 8.1 1.3-15.3 1 10 2.7-12.8-8.3 3.6 3.9-3.3-.7 2.1 .7 2.9 3.4-1.7 3.8-4.6-7.8-3.2 6.3 5.6 .5-8.5-1.3-9 4.3 7.1-6.3 1.4 2.5 4.8 1.5-.2 .2 3-1-10.8 5.6 7.6-3.7-12.9-1.3 12.4 2.1-5.3 5.3 1.9-3.3-7.2-.6 8.8 .2-1.4-.8-9 2.8-6.3 4.2 3-.2 12.5-1.4-18.4 .5 2.9-1.7 6 .6 .8 1-1.9 4-19.4 1 14.8-.9-.9 .9 2.6 2.9 2.4-4 7.5-1.8-16.7 5-1.4 .9 2.1 1.5 .1-3.5-19.4 1.6 20.3 .3-13.7 4.8 23.3-5.3-12.7 2.7-1.1 2.2 6.9-2.3-16.2-1.4 12.9-4.1-10 8.6 6.1-3.1-1.2 .2-1.6 1.1-.2-2-2.1-.1 6.4 12.5-5.3-6.2 2.5 1.9-1.1 2.4 4.6-4.1-4.1-3.3-2.5 4.1-.6 2.1-7.3-.2-5.9-3.3-3.7 3.2 9.6 1.5-.1 1.3 7-2.5-8.2 8.9-2.3-5.9-1.1 1.3 9.6 .8-4-3.8-31.9 2 37.4 4.8-14.5-3 2.8 3.5 22-7-30.2 11.5 10.4-5.1-3.5-2.6 5.9 4.2-19.4-3.2 12 1-3.6-1.4 1.4 7.1-2.5-4.6 8.3 7.1 8-3.8-12.7-4.1 4.9 5-16.4 .2 13 1.2 2.7-2 10.3 4.4-11-8.1-10 8.8 6.8-5.2-6.1 4.6 1.1 1.6-1-1.2 11.1 1.6-16.6 1.2-5.1-2.3 6.7 3.6 32.3-3.7-30.1-3.3-4.5 4.2 4.4-.3 2.4 .9-12.8 3.2 .3 .3-7.4-.9 12.4 1.8 4.3-6.3-3.7 4-2.6-.8-7.6 1.5 .5-.3 9.4 1.1-3.7-2.1 .2 8-.1-5.7 .1 6.3 .9-9.8 2.8 8.2-8.5-3.1 11.2-2.2-5.3-.8 .5 5.9-10.4 2.7 2.8-4.5-4.6 2.2-13.5 3.8 9.2-1.3 9.6 3.9 12.5-1.7-28.8-.4 13 2.4 1.1-6.2 2.3 3.9-1.5-.5-2.5 1.9-11.6-5.7 13 3.9-5.1 2.8 3.7 .7-1.5 1.7-18-1.6 24.6-4.8-18.6 1.3 27.9 5.3-23.8-5 10 2.3 2.4 .1-8.7 6.5 4.1-5.4 3.6 .1-2.4 3-3.3-.7-4.2-1.4-1.8-3.7 9.8 6.5-3.5-1.6-5.6-3.3 2.1 2.8 .9 2.5-1.8-2.1-3.3 .7 6 3.1-3.9-.3-1.9 2.1 25.1-1.4-25.5-2.9 9.4 3.8-5.7-.4-.6 .8-13.9 1.9 20.4-2.1-15.5-5.5 8.1-3.2-12 10.4 2.5-5.1 4 2.7 20.5-2.1-9.2 3.9-11.9-1.9-6.2-1.5 7.3 .9-10.9 .5 4.2 1.1-2.5-.5 4-1.6-4.3 8.2 16-1.9-17.5-2.7 5.7 .8 9.8 .6-16.6 1.1 3.2-1.7 6.8 .1-4.8 5.7 9.2-4-16.1-2.6 4.9-4 3.3 3.2-17.7 4.8 22.1-5.9-6.7 1.6-1 3.9 3.1 2.8-10.9-1.2 9.7-5-5.8 4.7-.9-2.6-1.9 .6-3.4 1.6 11.6-1.4-1.2 2.1-6-1.2 5.3 .2-4 2.8 1.7 2.7-4.1-4.1-2.4 3.2 2.2-3.4-36-1.7 44.5 5.3-7.3-5.6 4.8 .5-23.4 3.3 24.8-1.7-1.3 5.6-5.7-3.7-3.9-1.8 6.6 4.7-3.8-3.9 3-2 1.2-.4-11 1.2 8.3 4.9-1.1-6 2.8 1.2 .7 8.8-2.1-4.2-29.6 .5 45.9 2.6-23.2-5.9-5.2 .8 10.3 1.5-6.1-.5 5.7 .5-5.3 .5 1.3-3.2 1.7 4.2 5 .7-5.8 1.6 2.3-5.8-4.2-1.1 3.3 1.8 3.2 3.6-14.5 .5 2.9-.8 3.7-5-10.3 5.3-9.2 2.5 12.4-1.3 .1-3 3.5-2.6 24.5 4.5-30.5-3 12.7 2.4 3.2 2.7-3.6-8.2-10.7 2.4 9.6 3.7 2.7 2.1-6.3-3.1-5.7 3.1 7.5-5.4 6.7 1.1-36.9 .7 46.4-2.1-16.6 6 2.5-5-7.8 .4 6.2 2.4-7.2 4.4 8-2.3-8-5.4 12.9 .6-2.4 1.6 4.8 3.4-13.7-.8-1.6-2.5 10.5-2.7-11.2 1.7-2.3 .5 5.6-3.6-.9 5.1 .3-6.5 .9 10.5 27.9-2.3-25.4-2.2 5 .3-6.5 2.7 2.4-5.3-14.4-8.1"/>
<path class="c" stroke="#f00" stroke-width="1.45" d="M513.4 3567.2l-1.1-7.8-5.5 .4 4.8-6-9.2 1.2-8.2 3.4 24.5-9.4-8.4 3.9-17.8 4.7 7.1 8.1 3.1-8 6.7-5.8 6.9-.8-7.1 8.8-5.2-7.1 6.3 1.8-4.9 9.3 2.9-7.7-6-1.6-3.7-1.7 17.4 8.4-11.2 0 3-8-5-3 .4 5.2 1.3 6 7.1-3.7 3.9-6.7-4.7 6.2-7.7 1.8 3.5-4.4 1.2 2.8-.8 2.7-2.4-3.8-.8 .4-13.2 3.2 10.7-6.9-2.6 5.3 10.5-1.1 .2 .4-2-5.4 1.8 4.7-1.5-4.7-9.8-.1 10.2-.2-2.5-.9 .6-.9-24.2 7.5 22.7-4.5 4.6 .8-6.4-1.4 .4 1.1-3.7-.7 4.6 1.7 10.1 4.4-9.7-4.5 8.1-5-7.2 6 7.4 2.5-7.6-8.1 4.5 6.1 5.8-6.7-4.5 2.9-7.3-1.4 3 .4-8.9-1.2 9 3.6 .3-.6 .4-2.8 4.3 3.2-7.9 1 1.3-.9 1.2-3.4-.1 1.2-.8-3.9 6.5 2.8-7.6 .2 13.9 .8-8.1 1.5 5.5-3-10.7 .9 3.8-2.7 2.3 4 20.9-4.7-20.6 5.3 17.6-3.1-26.1-2.8 15.7 .3-15-.9-.5 5.2-.8-2.5 10.6 4-1.8-3.5 2.3-4.7-1.3 4.2 2.8-3.1 5.7-1.7-8.6 3.1 2.5 2.8-3.1-1.4-6.2-4.2 7.2 3.1 8.7-3.4-10.9-1.1 15.2 3.4-3.8-1.3-1-1.8-1.1 2.8-4.2-3.3 .3 3.2 16.5-1.9-19.7-2.8 3-.8-4.8 1.4 7.7-4.9 13.1 4.8 .4-5.3-25.3 2.1 2.4 1.4 16-1.5-3.7-.3-6-8.4 9.6 5.2-.6 4.7 3.9-1.6 .8-3.4-4.2 3.9-7.2-.3-.9-.1 10.1-7.4-7.3 3.4-4.6 .5 7.9-2.3-6.4 .2 6.8 2.4 37.5-4.5-29.9 1.6-10.5-4.5-11.5 3.8 14.2-3.4-10.4 5.8 14.6-6.8-1.9-.5 7.6 2.7-8.4 1.3-6.3-3.5 6.2 3.7 1.3-2.7 1.1-10.3 5 10.5-10.3-7.4 4.7 3.6-1.6-2.1-.7 2.4 7.6-1.8-5.6-1.4 27.3 .4-35.3 .9 19.7-1.1-7.9-3.3-4.2 5 7.2-8.1 .3 2.6 4.6-6.7 1.9 3.9-9.2 2.1 4.2 .2 2.2-3.7-.1-1.7-2.1 10 8.7-6.7-4.5-2.2-7.2-1.6 8.2 3-1.9 .6 .4-2.2 6-.2-.4-6.1-1.1 4.8 1.2-.5 2.8-4.7-6.6 1.6 4-3.9 6.2-3-8.3 3.4 1.2-5.2-.1 7.2 8.6-1.1-6.7-.4 8-3.9-6.5-1.9 3.6 2.4 1.2 1.8-7-1.2 1.9-1 10.1-4-5.9 .1 5-1.4 1.4 .4-9.4 .2 13.6 1.7-3.4-3.8-2.4 .8 .5 .5 .3-2.2 6.2-4.5 7.7 .4-9.7 3.1-4-3.1 5 .7 12.1 1.6-8.8-.9 9.8-2.9-12.2 .4 .8 5.1-1-10.4 1.8-1.2 5.1 4.6 1.8-7.1-8.2 .9 4.3 1.6 2-2.3 2.8-3.9 9.2 5.9 1.6-3.4-4.4-1.5 2.5 1.3-6.8-5 8.4 4.5-11.2-5.5 9-2.3 2.6 2.3 3.5 .9-5.3 1.7 2.6-5.2-3.3 1.2-5.1 .6 8.6-2.3-20.1 1.2 19.2-1.9 5.4 1.6-15.5-3-4.2 2 23.2-4.2-1-2.2 7.8 1 6.5-4.6-.6 1.7-2.1-1.3-8-3.7 5.1 2.3 11.5-4.7-13.3 2.6-.1 1.8 12.8-2.3-2.4 1.4-4.8-4 5.7-1.6-3.5-3.5 13.8 4.3-11.1-.8 3.6-2.6 1.8 .4-9.5-1.4 9.9 3.3 5.9-4.3-2.7 1.6-6.3-2 7.8-1.2 8.5-4.3-2.8-6-5.2 1.1 9.3 5.3-1-2.1-4.3-1.2-18.5-.8 29.5 1.9-10.8-3.6 8.1-2.8 4.8 3-.9-5.7-8 5 2.5-2.6 8.7-3 3.2-1.7-4.1 .6-1-3.7 12 4.2 .4-7.2-5.6 1.3-1.9 1.5 6.1-4-7.9 2.3 8 2.4 1.4-8.6 5.8-1-2 1-23.3 .2 31.9 1.4-.7-5.4-29.9 .4 17.6-.9 12-.1-8.5 2.2 17.4-5.7-13.9 2.6-1.4-2.5 16.5-1 1.9-.8-8.6-2.8 10.4 4.3-5-5.5 1.9-2.6-2.2 3.1 5.3-2.4 5-1.9 1.3-4.8 4.1 2.6 0-1.1-4.5-4-4.4 1.7 7.8-1.5 .2 1.2-4-6.7-2.4 .8 2.8 0-2.4 3.6 4.3-2.7 6.4-.4 6.3 .3-4.4 .9-1.9-2.9-.5-1 4.5-7.5 7.8 4-4.3-.1-8.1-7.3 9.7 1.3-18.8 3.4 17.5 .2 5-1.3-3.7-2.6 4.6-.8 17-5.2-18 1.8 10.2-4.7 .2-2 .2 6.6-6.3-9.7 10.5 1 1.4 3.4-.8-5.2-2.2-.1 7.1 3-11.4-.3 9.5-3.4 9.6-3.6 4.1 .4-19.7-.8-4.8-.4 13.5-4.3 3.5-3.7-4 3.6 8.4-4.4-4.5 1 3.8 2.7-5.8-7 9.5 3.7-.3-5.8 18.8 .3-13.2-1.2 4.5 3-1.7-5.5-6.6-.9 8.1 .7-9.4-2.4 1.7 2.9 .4-2.5 12.6-2.4 2.3-1.5-12.2-3.2 7.9 7.4 16.9-6.9-14.9-1.6-4.6-6.6 9.3 3 7.5 4-8.2-9 1.4 5.5 13.8-3.3-5.1-1.9-15.6 .3 24.8-1.3-2.9 2.5-6.1-8.7 5.4-.6 2.8-.3-1.3-1.9 7.2 4.1 .3-2.1-.6-.3 4.2-1.4-7.6-3.4-1.1-4-1.4-.3 5-.1-1.4 .4 5.5-2.5 7.2-.1 3.8-3.5 3.6 4.8-5.2-6.8 3.4 4.9 4.1-7.6-8.7 .9 .7 2.3-1.4-9.1 5.6 5.9 4.4-.8-1-7.2 3 5.1 9.5-4.3-5.6 .7 2-1.9 0-2.8 7.6-2.9-11.3 2.3 8.8-6.8 2 2.8 2.3 1.2-10.1-1.7 7.3-2.6 8.7 2.6-1.5-3-8.9-4 3.9-2.3-.1-5 8.6 3.3 10.1 3-12.2-6.3-3.8 1.7 10-2.1-9-2.6 15.8 3-7.8-2.7 1.2 3.3 1-8.4 6.7-2 2.1 .4 3.1 4.2-1-9.3 1.7 5.5 7-3.2 12.6-2.3-13-1.5 3.1 2.2 8.6-6.9-9 1.4-.3 .2-2-.5 5.7-2.9 23.3 1.5-21.1 1.2-9.9-4.4 15.4-1.7 3.7-1.9 2.2 .5-10.6-1.4 14-3.5-2.7-2.6-.7 5 5-7-1.7-1 3.3 1.6 7.5-6.6-6.8 7 4.9-4.2 9.5-2.5-3.5-1.3 1.6 2.3-5.1-2.8 1-.5 6.5 .9-.2-4-4-2.5 9.3 .2 7.1-6.8 3.5 .7-5.8 3.8 1.2-2.8-6.6-2.4 13.6 1.1-2.9-6.1 12.2 6.3-11.6-2.3 20.2-5.8-15.1 5-3.3-5.4 8.7-4.1 .9-.6 7 1.1-2.4 .7-2-2.7-1 0 .1-3.1 4-3.3 2.8 4.5-3.6-2.2 1.5-6.6 6.4 2.9-4.6-4.2 4.9 1.4 .5-3.1-.8 2.2 11-3.8 7.1-2.8-10.8-.6-13 .5 16.6-3-.6-1.2 1.6 3.5 1.7-2.2-1.3-6.9 31.2 1.3-23.2-2.1-2.5-3.9 6.4 5.5-5.1-7.4-.3 .7 .7-1 7.2 5.1 4.9-.6 2.5-6.1-1.3-2.8-1.2 1.3-8.2 2.3-12.7-8.1 19.1 4.6 16.4-3 6.1-6-15.8 6.1-3.5-1.7 5.7-3.1 2.2-1.8-2.8-1.7 3.3-2.5 14.4-5-12.1 3.5 3.2-3.8 24.2 1.6-18.5-2.3 5.2 1.3-7.1-3.9 14.2 3.4-16.3-4.1 24.3-.8-14.7-.6-2.8-.9 2.2-2.4 3.5 1.5-8.8 .5 10.4-7.8 2.5 4-5.2-2.6 9-.5 4.9-3.5-11.1-2.1 4.9 .7 7.7 .8 8.5-2-10.6-2.7 4.6 .8-2.6 1.6 5.1-1.9 3.3-9.1-3.9 6.9 7.1-6.6 13.6 1.2 5.1 1.4-18.1-.5 4.1-2.8-8-1.1 6.6-1-4.1-4.5 3.3-1-3.9-1.6 27.5 0-13.5 2.1-16-1.8 19.8-1.3 1.2-2.8-18.5-4.3 23.5 4.8-15.5-4.6 16.1 1.5-7.8 .4 8-1.8-9.4-.6 10.9-5.4 5.7 1.6 1.9 4-4.1-.1 1.6-9.2-3.4 5.5 2.7-7.9 3.5-.2-5 3.9 8.9-11.1-5.3 5.7 9.9-1.3 1.3-2.2-3.5-.4-2.6 3.1 8.1-8.2-3.7 .6 4 1.6 1.8-1.4-4.6-4.4 13.8 .9-11.4-2.7 5.5-.3 11.9-2.8-5.2 3.9 .2-4.2 20.8 3-19.3-2.8 4.9-2.4 2.3-1.1-11.5-.2 7.3-5.5 6.9 6.8-.5-6.8-4.2-1.6 11.2 1.3-3.4-3.5-1.5 .7 6.3 3.2-9.9 2.1 9.6-6.8-2.7-3.4 .6-.9-6.7-.1 37.4-2.7-38.7 5.7 14.6-6.9-1.4-.5 10.6-2.9-10.3 .9 1.3 1.6 4.4-3.3 3.7 4.4 10.9-.1-9.2-8.8-27.5-1.5 23.5-1 7.4-.6 5.9 8.4-1.8-9.2-7.1 .7 2.1-.8 5.2-2.9 3.1-8.3 2.6 9.8-4.6-5.9 7.3 7.7-2.2-9.7 6.1-2.3-13.9-1.9 2.6 3 22-.6-17.5 5.2 10.8-5.5-1-5-10.9 3.3 6.5-3.3 2.4 .8-4.5-5.4-4.9-2 12.5 6.4-2.8-6.6-14.1 4.3 16.5 1.1 .3-8.7 13.1 6.8-7.1-5-5 2.3 3.2-1.5-6.4-3.8 13.1 2.8-2.5-8.6 7.2 4.6-5-2.5 8-.1 1.2-2.2-11.7 4 5.1-6.7 2.8 1.8 0 1.1-2.6-2.9 2.8-2 2.3 1.2 11.5-4-10.1 2.6 2.8-6.7 6.1 2.5 1.7 .2-11.5-1.5 1.3 .6 6.5-4.2-4.4-.5 8-1.7-3.4 .7-17.5-.5 28.3-1.4-11.1-.8 7.6-3.8-.1 3.6 1.4-2.4-10-2.4 6.8 3.6 2.6-4 13.9 2.3-.6-5.6-7.5 8.8 5.3-6.3-5.7-2.4 1 3.3-2.4-5.2 7.8 1-13.4-4.1 3.1 5 22.1-4.2-7 .7-2.8-.9-1.9 .2 10.2 0-2-9.8-9 2.7 7.5 6.9 3.5-1.8-7.6-5.5-16.9 1.6 21.7 1.7 4.4-3.2 1.9 1.8-5.1-3.1 7.7 2.8-3.5-2 3.9-7.6-7.8 2.2 3.1 .1 7 2.8 3-7.4-3.6-2 3.6 1.7-.8 3.8-4.3 1 12-4.8-10.7-.4-7-.4 13-2.1 4 3.2-1.5-.1-4.5-7.6-11.4 3.8 18.7-2.8-.5-2.2-4.5 3.2 2.3-1.3 9.6-1.6 5.2-2.3-21.4-.2 9.1 .9 19 2-17 0-6.7-5.2-3.2 2.4 19.8 2.6-9-9.4 13.2 3-13-.5 10.8-1-5.2 3 3.6-3.2-.3 .9-1.8-1.4-10 2.3 18.2-.8 .6 2.5-.6-5.9 2.4 .8-7.2-4.2 6.5 .8-9.5 3-11.8-.7 21-.6-9.5-3.8 13.8 .5-3.5-1.2 1.9-.7-3.4 1.1 5.9-3.7 2.7 2.8-9-2.9-4-2.6 13.9 4.3-8.1-3.8 9.7 2.8-7-3.7 3.4-1.1 8.6 .2-2.3-1.3-7.8 2.3 14.2-1.7-9.5-.3-6.7-2.3 18 3.6-6.8-.6 22.2-.1-24.7-3.3-18.5-.9 11.4 1.8 3.7-.9 9.2 1.4 2.8-1.4 1.1-1.7 11-2.2-14.2 .7-7.2-1.1 24 7.1-1.8-4.4-13.4 2.4 3.6-4.9-1.8 .8 11.1-3.5-2.6 2.5-30.9-2.9 26.1 4.2-2.8-5.7 4.8 3.6-3.8 .2 4-.9-4.3 2.4 9.4-6.9-6.6 1.3 7.9-4-11.1 1 9.3-1 .9 1.1-1.4 3.3-2-.6-3.6-5.7 3.1 1-2.3 6.4 9.9-4.2 .6 .9-1-5 1.6 3.5-9.3 5.9 2.8-7.4 .7 .6-1-.9-.3 1.3-.9-2.5 3.9-2.6 12.8 6.3-7.6-1.3 .5-5.2 .1 5.4-6.8 .2 7.8-.9-2.1 .2 1.9 2.6-2.7-7.7 12.4-.6-16.1 1.3 6.3 2.6-1.3 .2 1.8-2.8 9.3 3.1 1.4-5.8-4.8 3.4-16.4-1.9 19.4-2.1-6.2-.9-6.9 5.3 12.5-2.2-3.6 1.2 1.4-1.1 4.5 5.1 3.6-2.5-12.4-4.4 7.4 5.9 1-4.8-.3-.6-1 2.7 7.6-1.1-10.4-.8 3.1-3.6 23.1 5.1-21.3-2.9 4.6-3.4 5.4 1.7-12.3-4.5-16.1 5.7 6.2 .8 13.2-.8 .7-.5-2.4-2.6 6.1 6.5 4 1.2-4.6-4.4-4.6 .8-5 .2 7.5 5.1 1.6-3.5 4.9-3.2-11.6 3.3-7.7-2.2 2.1-3.2 8.3 3.1 7.7-4.3 1.4 7.4-6.2-6.5-4.9 8.5 7.4-6.5-14.6-.4 9 1.3 33.7-4.8-42.1 8 30.6 2.2 0 .4-8.8 .8-2.3 2.8 12.5-.6-9.1-2.7 10.2-1.5-8.1 4.2 1.4 4.7-1.9-9.9 5.6 6.6-4.5-4 3.5 1.5 6.5 4.2-9.2-2.5 9.9-4.5-15.3 4.4 7.7 2 5.9-3.7-8.5-1.3 2.7 2.9 1.1 1.2 5.1 .7 2 1.6-5.6-6.8-6.3 5.9 28.3-1.6-22.3-3.4-.8 4.8-4.3-5.1 8.3 2.7-5.4-.5 1.6 1.1 .8 .7 6-.5-9.4 5.8-8.2-3.3 4.1-.1 5.4 1.7-1.1-1.9 3.2 .4 5.4 1.5-.1-1.4-8.3 2.8-2.3-1.9 7.6 3.2-6.7-2.9 2.3 1.2 10.8-5-17.4 4.1 8 3.2-.2-4.8-3.5 5.4 1.3-3.1-5.5 0 8.5 3-5.3-3.7-6.6 3.5 5.6 .2 2.3-.8-2.8 2.3-5-1.2 18.9-.1-9.5-3.6-4.3 4.1 1.9 .5 3.5 1.1-9.3-2.2 2.7 2.9 4.8-3.8-10.6 1.7 7.2 3.3-6.6-.9 6.9-.1-8.3-3.2 12.4 2.8-10.6-6.3 4.7 5.9-.8-2.9 7.1 5.4-2 0-12.1-.1-2.7 .5-.1 2.3-.2-3.2 9.2 2.4-3.7 3.2 8.1-5-10.8 3.3 3.3 .6 4.9-3.4-1.2 5.8-6.5-.3 8.6-1.2-17.7 4.2 11-6.6 .3 4 9.2 1.7-2.5 2.5-7.9-6.3-1.5 3.6-1 .4 5.3-2-4.7 2.3-6.2-.3 8.8 .7-1.2-1.3-3.6 3.1 3.7 .3-6.1-2.1-2.4 5.2 3.8-1.2-6.2 2.7 1.7-.2 14.5 1.6-7.3-.2 4.6-5.7-15.6 4.4 5.8 1.9-2.9-3.3 4.4 7.4-2-3.6-2.1 1.9 6.3-1-7.4 .1-4.3-.4 1.2 .4 1.1 .9 3.4 3.2 3.6-1.7-5 3.2 1.2-4.5 .4 1.1-11.8 .4 2.7-.2-.1-1.6-5.6 4.3 13.6 2.8-8.1 .4 .2 .9-7.7-1.8 2.9 1.2 .1 .2-5.6 2.5 7.1-1.4 6.2 1.3-8 .1-3.9-.3-3.8 1.4 4.8 5.2-.4-6-5.7 2.6 1.8 2 1.5-.3-3.2-.7-9.1-2.8-3.7 5.6 3.9-.1 4.7-2.9 1.6 6.6-4-3.9 5.8 1.3-11.5-3.1 6.4 5.8-3.4 2.8 2.2-1.9-4.7 1 .9 2.4 15.4-3.5-15.1 4.3 5.4 4.3-12.2-1.3 4.4-4-7.4 1.2 .2 3.1-.1-1.3-4.4-3.1 5.4 5.7 3.4-.2 .3 .2 2.3 .9-12.5 .7 9.7 3.2 3 0-3-3.8-6 3-1.1 1.5 1.3-.3-5.2-2.1 2.4 1.7 3.3 4.6-3.9-2.7 2.8 4.4 1.3-.9-11.9 3.6 3.3-3.1 5.3 1.4-9.5 3.9 1.6-3.6-7.1 2.8-4.3-.2 5.6 4.7 6-4.4 13 3.3-21.8-2.4 9.9 1.6 .7 7.5-8.9-6.7 1.9 5.4-18.6 5.1 17.1-2.9-7.5-.9-5.2 4.1-4.6-6.5 17.7 3.9-11.2 1 6 1.9-3.7 6.5 1.6-6.1 24.5 3.2-26.2 1.3-8.9 1.9 8.5 1-5.7-6.9 8.5 11.8-1.2-9.1-9.1 2.8 11.4 1.3-39.6-.9 23.8 3.6 4.5 3-1.5-1.4 .1-.1-3.9 5.6 .3-8-8.3 7.1 8.8 1.4-4.2-2.3 1.1 3.9-4.3-3.1 .7 6.7-4.3-2.8 20 3.4-21.3 .2 18 .1-7.8-1.9-9.1 6.7 2.8-4 4.7 3-10.8 .9-1.4-1.4 6.7-.1-6.1 2.4-5.1 2.3 2.5 2-1.3-.7 18.3-.5-20.2 2.9 10.8 4.8-14.5-3.4 8.9 3-12.4 2.3 9.1-1.9-6.6 3.8 4.7-1 29-.2-42.3-2 8.1 2-4.5 6.8-5.5 .2 1.5-3.8 2.4 7-2-1.7-.1-1.2 2 2.3-3 5.2-1.9-.1-2.5-2-3.4 7.1 4.1-8.6-1 3.5-1.7 1.5-5.3 2.1 4.2-1.8 0 5.7 1 .9-4.2-4.9-.4 2.2-11.5 6.1 11.3-.6 .4 .9-8.4 3.8 1.1-.8 2.3-.9-12 .3 9.9 2-4.9-.5-2.7 1.8-7.4 .7 .2 4.1 .6-2 3.6 7.5-6.3-4.7 10.4 4.4-6.8 3.2-2.5-.7-6.4-6.5 .1 3.9 13 1.4 1.4 2.2-6.2 4.5-3.5-2.9-9.9 2.3 17.5 2.8-19.8-3.3 2.4 1.5 8.8 3.5-6.6-1.1 .9-2.1-16.4 1.5 11.2 3.7 .5 3.2-1 .2 9.6 2.4-11.5 4.8-1.7-5.6 .5 3.4-4 2.8-.2-6.9-.7 12.1 1.1-3.2-8.8 1.1 5.5-.4-13.5 1.1 10.3 3.7 4.5-1-5.7-1.4-6.7 .4-11.5-.4 9 6.9-3.5 .3 2.6 2.5-.9 3.2-9.6-1.1 10.3 1.5-2.7-2.8-5.8 4.9-13.1 2.8-14.4-2.5 26.3 2.9 10.7 .4-12.3 1.9-5.8 3 3.6-2.7-4.7-1.3-1.1 8.4-3.5-5.5 9.4 8.3-18-3.4 5.1-1.8 6.7 7.1-2.4-3 4.3-.6-8.9 4.5-9.4 0 .1-1 6.4 4.9-1.2-2.3-2.7 1.5-3.1-3.7-6 5-4.2 1.3-5 3.4 21.9 2.9-13.3-.1-7.7-1.8 8.7 4.1-16.9 5.7 11-2.6-11.5-1.8 6.4 6.1 3.9-2.6-3.9 .4-4.9-1.4 9.5 3-8.5 5.6-4.7 1.2-4.1-1.1 6.8 .8-15.1-.8 35.7 2.8-28.4 2.8-.3-2.7 5.2 6.5-13-2.5 7.4 2.7-10.2-2.6-1 4.3-22.9 3 54.4-2.5-40.3 .2 10.8-.4-6.1 3.7-1.3 2 1.8 2.2-13.6 2.3 9.2 2.2-9.9-2.6 11.8 1-7.9 1.1-4.8 1.6 7.1 3.9-9.1-2.2 3.7-.1 2.9 3.9-2.5 2.1-5-.3-6.4 2.3 10.6-.9-16 3.5 5.6 6.4 5.9-3.3-7.4 2.1-5.9-4.7 3.3 4.6 1.7 .6-8.9 1.5 4.2 4.1-6.1-3.4 6.1 6.2-4.6-.3-10.6-.3-2.4 .6 9.1 5.5 1.4 1.8-14-5.4 4.6 2.3 1 1.9 4.8-1.7-26.2 1.4 17.7 5.5 1.4-1.3-4.9 3.8 3.2 2.7-21.7-.2 7.3 1.3-6.3-.5 16.3 1.2-5.8 .2 5.9-1.5-8.7 6-6 0 6 4.6-1.1 2-6.4-3.5-5 4.3-1.6-1.4 .7 1.2 1.1-1 5.5 5.7-5.4 3.6 7.5-6.2-17.2 7.1 .6-2.1 10.1 .2-5.6 1.6-1.3-1.3-1.9 3.4-8.1 4.4-14.1-6.8 13.7 5 22.7 4.5-16.8 5.4-14.4 .2 14.4-1-26.6-.9 16.8 .6 0 2.4-2.5 1.9-.6-.7-5.7 4.6 2.9 1.6-9.7-1.2 4.6 2.5 1.1-2.6-1.7 4.7 7.9 1.5-21.3 2.1 1.2-1.1-2.5-1.4 9.5 10.5-28.5-3.3 17.7-2.1 1.6 4.6 16.6-4.9-16.6 4-8.3-1.2-3.5 .9-7.4 5.5 6.3 3.8 2.1-1 6.9 1.5-8.4-2.3-1.7 .2-1.4-.9-.4 2 .1 7-.4-.2 4.5 2.2-1.7 1.5-13.3 .4 4.3-1.8 2.3 1.7 2.9 4.2-10 .3 2-2.3-7.4 2.4-1.2 3.5 .3 .3 .2 3.4-1.3-3.4 4.9 5.1-1.8-.2-6.9 1.8 10.1-.9-12.3 .4 .8 6.2 3-2 .3 2.1-7.1-3.4 .7 3.7-9.5 4.5 2.9-2.6 14.4 5.6-11-2.6 2.2 2.2 12.1 2.9-24.3 2.2 8.1-3.7-12.7 .4-5.3 1 11.3 3.7-6.9-4.8 3.5 6.5-5.5 1.8 12.7 8.6-9.3-7.5 5.3 2.8-23.7 1.8 5.4 2.8 7.4-.9-2.3 1.3-5.7-.5 6.5 5.4-29.8-.9 12.5-6.2 13.2 4-10.6 4.7-.2 1.2 1.9-.9-1 1.7-10.8 5.7 9.5-3.6-7.5 1.5 3.2-3.8-5.3 7.8 5.7 .6-.7 3.1-2.5-1.5-2.9-2.5 1.5 3.7-4-1.7-7.8 1.3 20.1 6.2-17.8-5.8-11.4 5.9 6.7-2.5 11.2 2.8-4.1 2.7-7.1-2.2-6.5 7 5.4-4.2-17.2 1.3 8 1.4 12.3 1.8-9.1-.9-9.8 3.3 15.2-1.9 1 .2-20 7.6 3.9-1.1 1.1-3.2-13 2.3 7.6 2.7-9.7 2.2 1.1 2.3 2.5 .6-9-.5 2.3 1.1-1.6 1.2 4.3 4.7-3.4-2.2-7.9-.8 15.6 6.3-13.5-2 6.6 1.9-3.6 .5-10.6 1.5 .9 4-2.3 .9 4.6 1.2-8-7.9 7.7 11-6.8-10.3 4.5 13.2-6-10.2 4.5 6.2 1.1-3.4-4.3 3.9-1.8 3.4-3.6 2.2 6.2-5.3-.7 3-2.7 3.3-9.4 1.3-3.3 0 7.6-2.9-6.1 2.9-1.7 3.7 .8-2.3-4.4 3.8-10.9 2 7.8-8 4.2 9.3-8.3 1.3 4.8-1.6-11.1-.6 10.9 1.3-7.9 2.9 3.7 5.9 3.1-6.7-8.6 1.5-4.8 2.2 8.7-.2-9.2 4.2-1.3-3.2-3.9 3.8 8.2-1.8-11.1 1.9 7 1.1-1.4-.7-2 4.3 2.9-2-14 .5-4.5 2 15.5 3.1-14.9-.3-1.8 0 .9 1.8 2.7 3.8-1-4.8-3.1 1.6 6.3 1.8-6.4 4.8-11-3.3 13.2-1.1-27 1.5 19.2 5.9-.9-1.4 2.3-1.4-4.6 3-10.1-.3 29.2 1.1-23.5 .3 .3-1.2-.9 3.6 17 .3-21.7 3.2-1.6-2.8 4-1.7-1.2 4.3-2.2 4.7-2.4 .4 3-5.7-9.4 2.2 1.8 6.5 39.3-2.4-38.9-.1-12.1 1.8 19.8 .6-12.4 1.6-1.1-.8 4.3 5.6 7.4-2.4-8.8 3.1-8.6-.5-4.5-2.6 10.1 5-2.4-3.9 7.4 4.4-8.9-1.9 2.8 .6-6.9 1.1-6.9 .8-5.7 .1 4.3-3.9-2.4 8.4-8.9-4.3 11.4 1.8 2.1-5.6-4 15 3.2-5.6 22.6-3-24.8-3.2-15.7 8.1 10.9-1.5 .8 5.5-7.7-1.2 12.3-.8-11 3.6-5.7-2.2 14.8-2.2-4.9 7.3-9.9-4.2 7 2.8-7.1 4.2-5.5-5.3 4.6 4.8 12.9 .8-11.1-.5 2.7 6.3 2.7-5.2-12.4 3.9 3.5-4.7-.7 4 2.1 2.4-7.8-1.8 3 3 2.1-3.2 4.1 2.3-9.8-3.1 11.9 3.7-20.5 1.3 15.3-1.2-7.1 1.5 .5 1.3 .7-3.9-6.3 2.2-2.6 .3 10.4 .3-5.5 3.9-11.8-.7-12.3 .5 17 1.6 7.3-5.3-6.5 11.4-7.2-6.3-.7 3.9-4.6-3.6 15.7-.6 3.6 1.8-11.1 9.9 9.7-6.4 5.9 1.3-17.1 .2 3.6-3-11.5 1.7 3.8 2.9-.9 4.3 5.9-5.6-9 4.6 5.2 .8-7.7 .8 9.1 .3 .4-1.2-14-2.6-2-4 18.7 3.7-17.3 1 7.1 4.2-4.5-2 5.4-1-25.1 7.2 28.3 0-2.1-1 5.9-1.1-18.4-.5 7 1.7-4.7-3 2.1 10.1-9.8-6.4 5.4-4.6 6.6 1.3-4.8 5.4-6.7 1.4 5.9-.1 1.2 2.7 7.5-3.3-6.6 1.4-14.2 4.6 8.1-5.8-6.4-.2 5 1.3-2.7-.9 1.7 .4-4.6 3 14.9-4.7 5.3 6.1-20-2.2 9.6 1-10.1 5 5.5-3.8 7.4 2.9-23.4-1.7 9.1-1.6 8.8 3.5-3.7-1.5-4.8 2.2 5-4.2-1.5 1.4-8.4 3.9 7.3 3.6 7.5 1-11.4-5.5 4.6 2.3-4-3.9-8 2.2 12.8 2.1-5.1 .5 .1 4-3.5-4.6-11.1-.5 7.4-1.8 9 3.4-5.2 2.4 4.4 1-4.8-4.5 10.8 5.7-4.6 .3-3.4-2.4-2.2 .4 1.3-2.4-3.6-2.2 3.2 1 4.6 8-16.5-2.6 2.8-1.6-1.6 1.3-1.1 2.5 2.1-3.5-1.3 1 .1 1.5 3.7-5.1-.3 2.7-6.1 3.4 1-.5-8.2-5.2 6.7 3.7 4.9 6.5-5.3-3.6-5.6-3.6 9.8 1.8 .9-2.7-3 0 5.9 .3 8.3 3.5-13.5-5.3-8.7 8.1 4-6.8-2.6 5.4 1.4 0 2.8-.3-8.9-2.5 8.2-.9-5.4 1.8 5 7.8 1.8-6.2-2.5 .6 26.4-5-27.7 5 9.9-2.1-4.6-.1-1.5 1.5 1 .1-4.8-2.9 2.9 1.2-8.9-.2 3.3-.3 2.9 2.9 4.2 1-8.2-.3 11.2-2.8-8.1 4.2-19.6-3.8 25.5-1.3 .3 2.7-3.7-3.6-5 2.6 .7 2.4 .5-4.2-7.3 3"/>
<path class="c" stroke="#0f0" stroke-width="1.45" d="M522 3546.3l-4.8-1.3 5.8 1.7-2.6-.5-8 .3 13.1-1.2-5.3 4.8 3.8-5.5 21 .9-22.2-1.3-6.4 .4 2.3-2.1 8.9 8.1-11.9-6.5 11.2 2.3 2-3.5-10.1-3 7.2 1.4 2.5-1.1-12.2-2.1 8.4 2.7 5.8 3-8.4-4.4-4.2 1.3 17-.2-3.4-9-18 8.6 19.4-9 10.6 6.8-16.2-5.1 12.6-.1 .8 2.9-3.6-4 5.1-7.9-5.2-1.7 12.2 .2 15.9 4.2-25.5-3 2.9 0 4.8-2.6-2.4 .6 9.1-7.2-8.4-3.5 9.6 1.4-2.9 2.1 2.8-6.2 4.1-5 3.9 2.8-7.9 1.4 10.5-2.4 9.1-3.7-11.2-2.2 10.9-5.9-9.7 3.3 3.2 2.9 6.9-7.9-8.5 3.4 18.1-9.1-2 .1 8.4-2.2-19.9-.9 11.4-6.6 13.9 5.4-9.4-5.9 21.8-6.8-15.4 4.8 8.1-3.5 7.2-5.7-3.8 .6-2.1 .1 6.1-2.6 20.1-3.2-10.9-4.8 5.5 0-.1 .1 4-.2 .6-6.3-9.3-2 18.9-2.1 1.2-5.6-7.7-6.3 13.1 .3 15.6-1.7 .2-1.7-13.3-3.3 10.5-4.6 5.5-2.4 4.2-2.1-4-4.4 9.3-2.8-1.3-5.1 5.2 .5-3.4-1.8 11.7-4.8-3.4-2 9.8-2.1 .7-6 9-1.9 20.6-3.6-19 .3 0-6.9 5.7-.3-2.5-8.2 1.8 6.3 11.7-6 .7-6.5 10.3-1.3-2.9 1.7 9.6-7.6 2.6-7.1-3 .4 4.2-4.3 2.4-.7 3.8-4.1 9.9-7.6-7.3 1.3 8.2-1.4 1.6-2.2 14.6-5.9-5.2 .5 4.6-4.4 .1-5 9.1-1.4-1.5-13.5 4.2 6-3.2-2.9 5.7-7.2 13-1.1 6.8-7.1-8.3-2.2 13.1-3.5 5.3-5.6 16.9-1.3-16.3-7.3 5.6 .6 2 1.1 13.3-3 13.4-8.2-12.5 1.1 15.8-6.7 7.5-7.6-8.3-1.8 9.7-2-.8-3.3 4.1-1.7 5.4-6.8 3.7-2.6 1.4 .2 10.6-5.7 9-2.7-11.7-4.5 10-1.5-.4-3.3 18.4-7.2 1.6 1.3 8.9-8-5.1-1 .5-5.1 18.3-1.2-5-4.4 10.9-2.8 7.2-4.6-18.7-4.2-8.9-2.7 29.5-4-6.4-5.6 2.3-5.3 7.9 1.8 27.3-1.6-9.9-9.1-11 .2 16.8-6.2 7.5-1.4-2.1-1.7 27.7-4.7-22.7-4.8 17.9-7.7 13.1 1-13.4-2.9 2.3-.2 2.8-8.2-1.1-1.8 21.1-2.6-2.6-.6 1.2-9.4 1.2 1.8 2.8-5.6-1.5-4.7 5-4.9-.3-2.2 13.3 1.2-3.3-6.5 18.9-4.2-10.6-1.8 14 1.2 4.3-4 3.3-3.5 10.7-2.7-15.4-3.6 5.9-6 1.3-4.7 8.6 2.8 9.9-6.4-10.6-2.4 20.7-4.4-11.8-.6 .1-.8 10.7-7.3 6.7-1.5-4.1-3.1-.3-1.4 30.9-4.5-25.3-2.6 13.4-4.4-1.4-1.2 .2-4.6 5.2 .9-3.2-4.9 2.6 1.7 9.8-8.4-4-3.5 4 2.2 13.8-3.3 4.3-7.5 8 7.3-7.3-9.3-3.2 .7 4.2-6.2-1.7 .2-7.9-1.3 17.5-6.3 2.5-.3 6.2-1-8.5 .7 14.4-4.9-5.9-1.1-10.9-4.2 17.4-1.8 8.4-2.4-2.3-4 8.1-6.1-7.7-1.6 9.2 3.1 4.8-1.7-7.1-2.9 12-3.5-9.9-1.7 10.1-3.7-6.5 4.2 14.7-8.8-3.2 6.5-12.6-6.9 18.5 5.7-12.7-6.7 16-3.6-3.6-.4 13.5-3-7.8 3.5 11.9-5.3-3-.8 2.2-4.1-18.2 2.2 8.6-6.4 8.2 .7 14.7 3.5-19.7-9.4 19.9 4.7 1.7 1-7.8-3.7 3.3 2.2 9-1.5-8.5-2.9 2.6-6.2-4.3 1.9 9.1-.6 .2 2.4 17.7-3.5-13.8-1.4 5.7-3.2-5.4 1.9 13.9 .4-12.2-7.3 .7 5.2-2.5 .5-3.7-2.1 4.8-.3 6-1.5-5.4 3.2 10.2-4-11.3 4.1 .7-2.4 10.7-5.8 1.1 3.7-6.9 1.3 11.6 1.2 13-1.9-15.8-.7-8 2.2 12.8 1.9-7.6-8.4 11.7 15.1 11.4-1.5-5.6-5.1-7.6 4.2 13.3 0 1.2 1.9-10.9-4.8 4.8 5.3-3.8 .4 1.7-1.5 9.8 1.3-16.1-1.6 3.7 4.1-1.3-4.8-7.2 1.8 10.6 8.6 1.6-5.9-3.5 .8-1.4-1.5 4.1 2.4-7.7 2.1-11.3-2.7 16.5 .2-1.8 3.4 7.6 6-28.2-3.7 18.7 8.2-6.2-2.3 16.3-.3-13-1.6 10.7 3.6-38.9 7.3 15.9-9.4 16.6 5.6-6.2 4.6-1.5-.4 6-.7-4.4-.2-1.4 4.8-1.1-5.4-5.4 10.2 19.6-5.1-8.4-1.5-14.8 5.7-6.6 1.8-21 1 17-1.6 10.1 3.8-14.4 5.4 1.7 .7 8.2 3.7-5.1-.8-5.5-1.3-1.5 3.8-5.5 2.8 1.3 2.3-3.5 2.2 4.4 1.9-4.8 3-9.5 2.2 8.6-1.8 1.3 7 1.4 .9-9.9-.4-4.5 3.5-3.7 1.2 1.9 3.3 6.1-2.9-20.2 2.2 0 9.1-.2-.6-1.1 6.7-5.5 2.7-8.7-.4 10.2 6.3-11.6-4.5-4.9 5.4-1.1-1.1 1.9 6.2-4 5-12.9 .2 1 3-3-.6-5 5.8 7.9 .1-6.6 4.9 10 .7-8.2 6.9 11.2 2-17.6 2.3-12.6 3.9 5.6 4-24.2-.3 11.1 1.2 4.7 3.1-5.2 8.6-.2-.2-7.2-.7 3.8 3.2-4.1 8.6-5.1-.5-8.2 8-2.2 2.6 5.2-1.3 29 3-45.5 1.5 3 7.4-8.7-2.3-11.2 7.6 16.8 1.1-11.1 7.9-1.1-1.5-10.1 2.1-4.6 6.6 7.8-.8-15.6 7.4 4.4 .8-2.5 2.5-8.4 3.9-6.5 3.5 .2 .8-13.6 7.8 3.5 1.7-4.6 2-9.2 8 1.3 .7 1.6 6.8 2.9-5.2-29.4 11.1 11.8 .4-.7 7.2-11.3-.6-5.6 1.9 1.1 3-2.7 6-14.3-1.4 10.8 6.4-11.8 1.9-2.5 11.7-11.2-1 9.3 1.5-26.4-3.3 10.6 10.6-.7 2.2-8.9 4.8-.4 3.7-.1 1.6-.4 2-10.4 6-5.1 3.9 .8 3.7-5.4 3.5-9.4 4.7 12.5 .3-16.3 7.8-6.8 .3 5.4 4.9-5.7 1.9-10.4 5.3 8.6 6.7-16.4 .7-7.6 2.6-9.7 3.4 12.7 1.6-8.9 1.8 4.2 1.3-18 8.8-3.1 4.4-6.9 3.8 1.1-3.1-2.2 6.1-2.4 6.5-9.9 1.3 9.3 6.3-29.8 4 23.7-2.1-9.8 8.7 2.5 1.1-21.9 2.3 10.7 5.4-1 1 4.6 .9-11.8 9.5 3.4 2.6-10.7 3.2 1.3 2.3-10.7-.7-3.3 6.6 .4 7.3-14.6 0-5.6 2.3 5.1 3.6 23.6 2-12.3 3.7-21 3-3.1 1.3-5.7 4.2-2.9 3.3 1.4 3.2-16.4 9-3.9-4.1-7.4 .7 1.6 5.7 5.7-1.2-9.1 11.8-18.6-3.2 5 3.9-1.6 3.8 15.7 4.6-15.5-.9-3.9 5 .6 1.4-6.8 3.1-.6 4.3-12.7-.5-10.1 8 5.5-1.4 8.5 5.2-18.9-1.1 3.3 3.9-1.6 .6-10.4 6.4-4.6 .5 13.1 .9-13.7 1.4-4 10.6 .8-1.8-2 3-12.4 3.7-4.4 .6 4.4 4.3-5.9-1.3 .5 3.2-8.6 5.7 15.6-5.1-13.3 5.5 21.5 .1-31.8 7.5-.8-2.6-4.3 3.2 2.1 1.8-2.4-.5-9.7 3.2-2.4 1.1-.6 5.9 .1-2.2 10.4 6.4-21.7-.2 1.6 3 7.5 3.1-1.4 .6-11 .5 1.6-1.1-4.5 2.9-2.2 2.2 1.5 3.2-10.7-.3 3.6 .8-2.2 6.7 7.4-2.1-9.5 1.6 6.6-1.8-10.4 1.7-.2 1.4-13 0 11.5 3.6 3 1.8-.6-1.4-15.1 1.6 15.4 4.7-12.4-5.5-.9 4.5 .6 5-6.3-.7-12.8 .4 10 3.5-3.9-.1 9.8-.8-10.6-2.8-12.6-1 16.3 1.8-4.8 5.8-4.2-4.3-10.1 1 24.2 4.4-18.6-3-.9 2.1-2-4 2.9 2.4-1.9 .2 1.4 0 4-1.9-6.5 2.1 5 4.5-10.9-1.6 16.7 1.7-10.3-3.6-1.7 6.5 8.9-6.1-8 .7-27.3-2.7"/>
<path class="c" stroke="#00f" stroke-width="1.45" d="M585.6 3557.6l-4.5 3.1 15.5-4.8-7.9 1.6 1.2 3.9-2.7-5.3 2 2.9 2.2-2.4 .7-6-6.2 6 15.3-.7-3.2-3.4-.5 2.5-.4 1 1.6-3.6 1.9 .3 7.7-3.6-.2 3.5 7.4-4.1-4.4-.8 9.2-3.9 .5-.1 3.7 2.5 12.7-2.5-1.3-4.2 4.8-3.6 3.6-2.4 .1 3.4-1.3-5.1 3.3-.8 10 1.4-14.3-8.5 4.1-1.5-2 1.3 2-4.4 .2-1-1.5-2.9 3.8-6.4 3.1-2.7-8.9-.5 5.6-4.5 1.1-3.9-.5-.6 10.9-3.6-.2-7.5 6.9 4.5 1.3-5-.7-8-3.5 0 11.1-6.9-6.8-7.4 5.5 1.5-3.5-2.4 5.3-2.4 12.1-8.5-4.4 .4 12.8-5.6 10.7-2.4-8.8-5 5.4-3.6 10-7.1-4.2 .4 10.9-6.7 2.5-2.1-2.2-6.2 1.6-1.5 14.5-3.9 9.9-5.8-7.9-5.8 20-3.7-5.8-2.6 14.4-2.6 1.9-6.1 5.6-4.7 4.3-3.1 4-9.8 7.6-1.5 1.4-2.3 19.7-5.5-9.1-4.6 12.4-3.6-9.7-9.5 11.6-.8 12.7-5.4 3.7-10.8 3.8 2.3 11.7-8.9-5.2-2.7 11.7-3.8 2.6-6.8 10.7-4.7-5.4-4.7 8.6-6.3 5.2-3.8 4.4-7.6-7.7 .1 21.9-8.5 5.6-5 3.2-2.5 8-6-.6-7 17.8-4.5 5.2-.8 .6-7.8 7.4-6.8 1-3.8 4.1-4 5.7-6.1 4.5-3.3 6.5-6.8 11.3-.8-.9-4.5 12.8-9.5 1.4-8.5 11.1-5.1-4.2-3.1 5.1 .4 6.1-8.1-.4-3.3 17.4-4.4 4.6-6.3 4.4-4.4 5.6-1.8 8.9-10.8-2.1-1.8 10.1-3.8 5.2-4.5 6.9-6.4 7.8-6.3 1.2-1.7 0-4.8 10.3-11.2 0-5 8.7-.3-.1-1.3 7.3-10.2 5.1-1.2 3.3-4.9 7.3-3.4 9.5-8.1-3.2-5 .9-5.9 6.6-1.2 9.9-3.8 0-5.4 7.8-2 .9-5 7.2-2.9-1.5-7 10.8-3.2-.4-3.2 5.3-6.2 7.3-6-10 1.6 18.4-5.1 8.3 .2-6.4-6.9 2.7-6.2 5.4 1.4 7.3-4.4 .7-5.5-.6 0 4.5-5 1.6-3.5 8.4-4.6 3.5-5.3 1.6 1.6 12.3-4.1 2.4-1 6.4-4.3-7.2-.8 15.3-3.7 5.7-2.9-4.9-3.1-.8-2.7 .2-5 14.2-5-3.4 1.2 6-2.7-.1-.2-3.8-4.1 6.6 2.4 2.4-4.4 .3-4.4 8.5-.9-.4-2.1 10.2 .7-8.2-1 13 .8 1.2-9.2 11.3 2.7-1.7-1.4 2.5-3.3-2.9 .5-1.8-.1 8.4 .4-2.5-3.8 2.8 .6-.7 2.5 2.3-4.8-2.3 .9 13.9-1.2-8.6 2.2-1.6-8.4 .5 1.9 6-1.1-5.2 2.7 5.1 .2-2.6 1.8 1-.9-18.6 7.5 6.7-.2 .8 1.1-4.6-.6 6.5 1.6-2.4-1.7 5.3 4.1-9.7-1 14.9-.1-10.2 .8 3 1.4-1.9 2.7-2.1-2.2-1.6-3.1 6.5 2.8-6.5 3.9 7.5 .2-5.1 4.1-4.1 .8 9.2 2.1-3.5-1.1-2.6 7.9 1.7-1.6-10 1 2.7 .4 2.4-2.1-6.7 3.9 2.3 4.3-7.5 4.3 2.2 4.1 7.5-1.7-12.7 2.8 14.8 4.5 5.1-1.5-14.1 3.6 7.3 3-12.4 3.4 4.7-1.2-10 3.7-4.2 4-13.3 4.7 8-1.9-14.9 10.1 3.9-6.3-11 5.8-1.8 7.6 .5 0-11.8 4.6-3.4 1.9 5.2 1.4 .2 6-3.5 1.3-7.1 5.3-.7 4.1-3.5 1.2 6.6 1.8-8.6 7.8-3.1 3.3-4.3 5.2-1.1 5.5-6.7-.3-4 5.1-.7 6.1-4.2 2.5-11 5.2 3.4 1.8-11.8 5.9-3.8 4.5 2 1.9-12 6.8-8.9 6.2 3-.2-10.1 6.8-4.7 .1-2.9 7.5 .9 4.1-3.2 5.6-12.6 5.9-7.7 1.8-.2 6.3-3.7 3-1.4 4-8.7 11.1 2.1 .9-2.9 4.5-2 4.9-14.5 5.1 3.3 3.4-5.2 2.9-9.5 3.3-8.5 9.6-8.4 7-8 .5-1.4 7.9-15.3 2.8-3.3 3.3-5 5.2-3.1 4.8-8.6 7.3 2.7 4.6-16.1 2.8-1.4 8-4.3-2.6-3.4 9.6-1 7.3-6.1 3.3-9.1 5.9-7.3 10.1-3.1 0-8 6.2 .1 2.2-8.6 2.8-13 9.3-1 2.2-2.3 6.1-3 5-7.1 6.8-10.1 4 3 4.9-18.4 4.6-6.1 2.1-5.3 6.2-6.2 5.4-4.5 2.5 2.8 4.2-15.7 8.7 2.8 4.2-10.1 4.6-8.4 3.5 2.7 5-8.7 4.9-4.9 .3-3.6 8.4-6.3 7.6-5.6 3.8 1.7 1.8-15.5 1.9 4 7.3-10.4 1.8 6.3 5.8-9.7 4.9 .2 10.1-6.5-.2-8.6 2.2-5.1 8.2-.4 3.5-7.2 3.5-5.4 3.4-7.2 2.4-1 4.7-10.3 3.6 1.2-1.4-10.8 7.8-2.6 4.7-13.9 1.3 6.2 6.8-4.1 2.8-3.8 1 2.7 8.6-3.2-.4-22.8 7.1 12.9-.9 1.4 8.6 1.1-1.8-10.9 7-4.4-.2-19.1 4.3-3.8 1.6-6 3.1-4 .2-2.3 4.8-11.8-.8-8.7 4-7.4-1.2-9 4.3 3.6 .5-20.9-.9 6.9 5.3-3 .6-3.3 3.9-1.1 2.2-9.4 .7-3 2.5 2.7 1.7-.2 3.7 4.6 0-2 6.1 2.3 0 2.5 .5 4.8 4.4-7.5 .6-1.9 .4-.1 3.3-2.4-.3-.4-1.3-4.6 3.3-3.4 5.2 1.6-1.3-.6-.3 1.5 2.9-11.4 .6 5-1.4-3.7-2-2.3 1.8 2.2 1-2.6 2.2 14-1.6-14.7 0 5.2-.6 .7-.8-3.1 2.5"/>
<path stroke="#000" stroke-linecap="butt" stroke-width="3.3" fill="none" d="M449.1 2723.5v9.5M449.1 3681.8v-9.5M665.5 2723.5v19M665.5 3681.8v-19M881.8 2723.5v9.5M881.8 3681.8v-9.5M1098.1 2723.5v19M1098.1 3681.8v-19M1314.5 2723.5v9.5M1314.5 3681.8v-9.5M232.8 2883.2h9.5M1530.8 2883.2h-9.5M232.8 3042.9h19M1530.8 3042.9h-19M232.8 3202.7h9.5M1530.8 3202.7h-9.5M232.8 3362.4h19M1530.8 3362.4h-19M232.8 3522.1h9.5M1530.8 3522.1h-9.5"/>
<rect x="232.8" y="2723.5" width="1298" height="958.3" fill="none" stroke="#000" stroke-width="3.9"/>
<rect x="1114.8" y="3391.6" width="297.5" height="232.9" fill="#fff" stroke="#000" stroke-width="1.4"/>
<line x1="1131.6" y1="3423" x2="1238.3" y2="3423" stroke="#000" stroke-width="1.4"/>
<text transform="translate(1251.6 3440.2) scale(1 1.02)" font-size="47.8">0.01Hz</text>
<line x1="1131.6" y1="3481.5" x2="1238.3" y2="3481.5" stroke="#f00" stroke-width="1.4"/>
<text transform="translate(1251.6 3498.7) scale(1 1.02)" font-size="47.8">0.02Hz</text>
<line x1="1131.6" y1="3540" x2="1238.3" y2="3540" stroke="#0f0" stroke-width="1.4"/>
<text transform="translate(1251.6 3557.2) scale(1 1.02)" font-size="47.8">0.05Hz</text>
<line x1="1131.6" y1="3598.1" x2="1238.3" y2="3598.1" stroke="#00f" stroke-width="1.4"/>
<text transform="translate(1251.6 3615.3) scale(1 1.02)" font-size="47.8">0.1Hz</text>
<text transform="translate(210.4 2737.8) scale(1 1.02)" font-size="47.7" text-anchor="end">5000</text>
<text transform="translate(210.4 3057.2) scale(1 1.02)" font-size="47.7" text-anchor="end">4000</text>
<text transform="translate(210.4 3376.7) scale(1 1.02)" font-size="47.7" text-anchor="end">3000</text>
<text transform="translate(210.4 3696.1) scale(1 1.02)" font-size="47.7" text-anchor="end">2000</text>
<text transform="translate(232.8 3739.8) scale(1 0.97)" font-size="47.5" text-anchor="middle">1.5</text>
<text transform="translate(665.5 3739.8) scale(1 0.97)" font-size="47.5" text-anchor="middle">2.0</text>
<text transform="translate(1098.1 3739.8) scale(1 0.97)" font-size="47.5" text-anchor="middle">2.5</text>
<text transform="translate(1530.8 3739.8) scale(1 0.97)" font-size="47.5" text-anchor="middle">3.0</text>
<g><text transform="translate(881.2 3791.5) scale(1 0.975)" font-size="60.75" text-anchor="middle">Displacement (mm)</text></g>
<text transform="translate(114.4 3173.3) rotate(-90) scale(1 1.03)" font-size="60.4" text-anchor="middle">Force (kN)</text>
<text class="s" transform="translate(816.7 3941) scale(0.94 1)" font-size="85" text-anchor="middle">(<tspan font-weight="bold">c</tspan>)</text>
</g>
</svg></body></html>
